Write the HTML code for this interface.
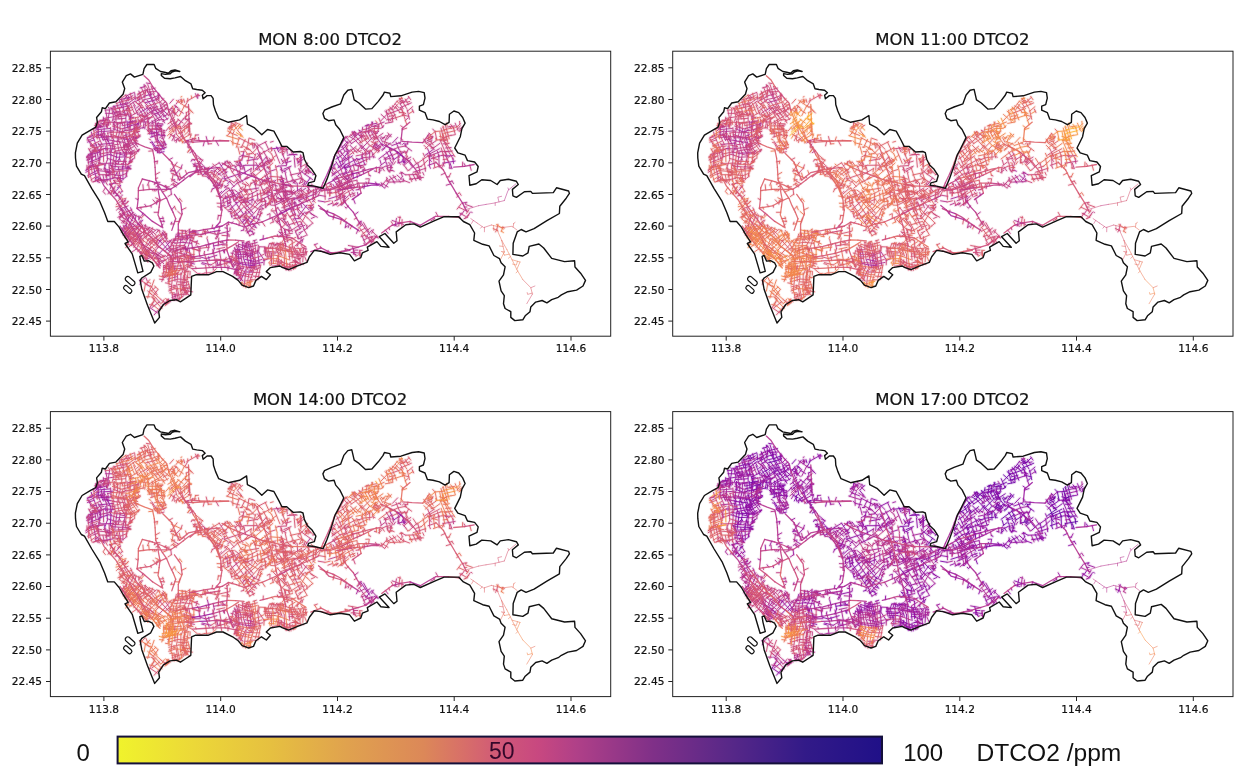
<!DOCTYPE html>
<html><head><meta charset="utf-8"><title>DTCO2</title>
<style>html,body{margin:0;padding:0;background:#fff}svg{display:block}text{font-family:"DejaVu Sans","Liberation Sans",sans-serif;fill:#111;stroke:#111;stroke-width:.2px}.cb{font-family:"Liberation Sans","DejaVu Sans",sans-serif;fill:#111;stroke:none}</style></head><body>
<svg width="1245" height="779" viewBox="0 0 1245 779">
<rect width="1245" height="779" fill="#fff"/>
<defs>
<path id="ol" d="M75.4 152.8 L77.3 143.2 L82.1 135.1 L90.2 130.3 L95.8 127.1 L97.4 122.3 L96.6 117.5 L101.4 111.8 L102.2 107.8 L105.4 108.6 L109.4 103 L115.9 101.7 L123.1 94.2 L124.7 88.6 L122.3 82.1 L126.3 75.7 L130.5 73.9 L134.4 77.1 L142.9 74.3 L144.1 68.7 L146.9 64.5 L154.1 64.5 L155.7 68.3 L160.5 71.5 L164.5 72.3 L168.6 73.1 L171 70.7 L175 69.9 L179.8 71.5 L175.5 70.9 L172 72 L170.2 73.8 L165.3 74.4 L161.3 73.6 L161.3 75.5 L164.5 78.3 L170.2 78.7 L175 77.9 L180.6 76.5 L185.4 80.7 L191 83.9 L192.7 88.7 L196.7 89.5 L202.3 90.2 L205.1 92.8 L202.3 95.2 L203.1 98.8 L207.1 95.6 L211.1 95.6 L213.1 98.4 L213.5 104.8 L215.5 111 L218.7 118.3 L228.3 122.3 L239.6 119.9 L246.6 115.5 L247.4 124.2 L254.6 127.9 L261.8 134.8 L267.5 129.5 L273.9 131.1 L278.7 140 L281.9 146.4 L286.7 146.4 L293.2 152 L300.4 151.5 L303 152.6 L304.4 159.2 L307.3 165 L311.8 169.3 L315.9 175.7 L314.3 181.3 L308.6 182.9 L307.8 185.3 L314.3 186.1 L323.1 188.2 L327.1 178.9 L331 168 L333.5 160 L335 154.8 L337.6 150 L343.8 137.6 L339.8 129.5 L335.7 124.7 L334.1 119.9 L328.5 120.7 L324.5 118.3 L322.9 113.5 L324.5 110.2 L331.7 107 L340.6 103.8 L343.8 95 L347.8 90.2 L351.8 89.4 L354.2 99.8 L359 103 L365.5 109.1 L371.9 108.6 L378.3 101.4 L383.1 95 L384.4 92.1 L389.9 93.2 L390.8 96.6 L400.9 95.8 L412.1 92.1 L418.6 91.4 L424.2 92.6 L425 98.2 L423.4 104.6 L419.4 106.2 L419.4 110.2 L425 112.6 L427.4 119.1 L433 119.9 L439.4 121.5 L445.1 124.7 L449.1 122.3 L449.4 114.3 L453.9 111 L458.7 112.6 L462.7 117.5 L465.1 123.1 L461.9 128.7 L460.3 136.7 L457.1 143.2 L454.7 148 L457.9 152.8 L465.1 155.2 L467.5 160.6 L474.6 162 L478.2 166.5 L477 171.9 L469 175.7 L469.8 185.3 L476.2 183.7 L481.8 179.7 L490.7 180.5 L497.1 184.5 L500.3 180.5 L508.4 179.2 L516.4 181.3 L518.3 184.5 L512.4 189.4 L512.9 195.8 L516.4 197.4 L524.4 191.8 L530.8 191.4 L532.4 193.4 L553.3 192.6 L556.5 187.8 L568.6 191 L569.4 193.4 L566.2 198.2 L559.8 206.2 L559.4 213.5 L546.9 220.7 L534.1 228.7 L526 231.9 L521.2 229.5 L517.2 231.9 L513.2 243.2 L512.9 254.4 L522.8 256 L528 252.8 L529.2 246.4 L538.9 244 L543.7 248 L551.7 258.4 L564.6 261.6 L574.6 260.8 L575 267 L580.6 273.2 L585.5 280.4 L583 286 L576.6 290.1 L567.8 291.7 L561.4 294.9 L558.2 297.3 L551.7 299.7 L546.9 302.9 L542.1 300.5 L535.7 302.1 L530.8 306.9 L530 311.7 L525.2 315.8 L522.8 319.8 L514.8 320.6 L510.8 317.4 L510.8 311.7 L505.1 308.5 L503.5 303.7 L504.3 295.7 L501.1 290.9 L499 281.2 L503.5 274.8 L505.1 266.8 L501.1 262.8 L499.5 258.7 L493.9 255.5 L489.1 245.9 L482.7 244.3 L473.8 240.3 L474.6 233 L469.8 224.7 L463.4 221.5 L458.6 216.7 L444.1 216.7 L434.7 220.7 L420.3 227.1 L413.9 223.9 L405.8 224.7 L396.2 231.9 L397 240.8 L393.8 243.2 L384.9 233.5 L379.3 236.7 L389 247.2 L380.9 246.4 L376.9 241.6 L367.3 247.2 L368.1 250.4 L362.4 252.8 L360.8 257.6 L354.4 260.8 L349.6 254.4 L340 252.8 L330.3 254.4 L320.7 251.2 L314.3 250.4 L309.4 256.8 L307 262.4 L298.2 265.7 L288.6 269.7 L282.1 267.3 L280 266 L270.4 267.6 L266.3 271.6 L270.4 274.8 L266.3 279.6 L261.5 276.4 L255.9 280.4 L253.5 286 L248.7 287.6 L242.2 285.2 L238.2 280.4 L232.6 276.4 L223 271.6 L216.5 271.6 L208.5 274.8 L195.7 274.8 L191.6 276.4 L190.8 294.9 L186 298.1 L180.4 301.8 L176.4 299.7 L170 300.5 L163.5 304.5 L158.7 311.7 L159.5 317.4 L154.7 323 L147.5 305.3 L141.8 289.3 L140.2 280.4 L141.8 278 L150.7 272.4 L153.9 266 L152.3 262.8 L148.3 260.7 L144.3 261.1 L141.8 255.5 L139.8 256.3 L140.7 261.9 L143 271.3 L137.8 272.9 L132.2 253.9 L125 243.5 L128.2 241.9 L123.4 234.6 L119.1 227.1 L114.3 221.5 L107.8 221.5 L104.6 212.7 L99.8 201.4 L91.8 188.6 L84.5 175.7 L81.3 174.1 L76.5 166.1 L75.5 158Z"/>
<path id="c0" d="M961 1246l22-6M957 1237l7 34M947 1254l44-7M968 1227l6 19"/>
<path id="c1" d="M957 1234l8 30"/>
<path id="c2" d="M893 1360l92-54M936 1296l10 67M937 1358l-4 19M968 1352l5 38"/>
<path id="c3" d="M875 1377l78-35M913 1320l10 40M970 1309l-2 49M982 1274l-38 39M960 1284l37-15"/>
<path id="c4" d="M928 1295l61-29M880 1375l39-6M889 1402l79-42M954 1268l22-9M956 1266l23-12"/>
<path id="c5" d="M870 1400l17 1M905 1454l68-31M893 1495l19-12M921 1478l59-5M916 1523l58-13M898 1414l49 62M948 1478l16 44M931 1503l35 1M924 1473l33 11M951 1484l13 15M906 1466l24 1"/>
<path id="c6" d="M887 1486l18 37M939 1521l64-20M922 1502l37-2M913 1453l30 11M961 1468l11 28M944 1485l5 16"/>
<path id="c7" d="M875 1421l68-22M876 1384l37 72M938 1500l-3 18M932 1378l57 135M881 1550l55-29M924 1540l69-18M920 1524l-18 30M925 1455l39-7"/>
<path id="c8" d="M910 1631l93-32M874 1678l21-19M870 1653l-1 37M887 1545l-12 28M877 1577l15 93M915 1668l50-7M966 1658l6 18M942 1665l42 28M888 1574l39-26"/>
<path id="c9" d="M878 1604l79-45M903 1674l69-17M907 1512l7 76M922 1507l4 150M946 1502l14 89M965 1628l-16 27M881 1675l64-36M896 1662l-13 19M869 1563l-3 15M889 1574l21-6M878 1567l18 29"/>
<path id="ca" d="M872 1570l50-29M881 1625l120-45M915 1591l-7 75M968 1511l17 82M972 1660l4 17M891 1585l50-24M868 1599l17-8M890 1540l-11 18"/>
<path id="cb" d="M902 1696l75-16M885 1774l39-26M909 1799l58-38M883 1667l4 108M881 1684l41 136M911 1663l11 67M948 1642l38 103M936 1817l54-19"/>
<path id="cc" d="M876 1758l104-59M933 1745l54-19M974 1677l10 18M965 1802l16 21M910 1664l-50 38"/>
<path id="cd" d="M860 1703l47-29M859 1723l42-26M950 1788l34-23M935 1817l51-22M932 1647l28 130M959 1780l-2 30"/>
<path id="ce" d="M1102 1079l22 11M1051 1100l42 0M1085 1073l11 20"/>
<path id="cf" d="M973 1218l19 1M1000 1207l-17 17M1069 1175l-25 35M1022 1199l-22 27M1068 1196l7 82M1095 1202l8 42M1018 1249l35-8M1043 1211l-4 38M1063 1197l-7 22M1047 1228l41 3"/>
<path id="c10" d="M983 1226l9 37M1056 1133l65 1M1033 1185l112-19M1034 1172l0 31M1056 1106l13 63M1097 1099l-19 107M987 1213l84-20M1000 1239l98-16M1074 1245l-4 20M1086 1229l0 26M1057 1247l28-7"/>
<path id="c11" d="M1001 1203l56 2M1034 1204l-20 17M1041 1211l-4 40M1055 1194l-16 41M1028 1236l7 17M1080 1191l2 40M982 1246l29 9"/>
<path id="c12" d="M961 1359l84-10M1076 1332l49-11M1077 1328l6 41M1106 1276l6 93M977 1348l44 99M1062 1353l17 24M1027 1334l28 6M1038 1374l10 15M1061 1368l20-10"/>
<path id="c13" d="M977 1272l90-14M1016 1299l-4 55M1030 1358l29 59M1054 1394l36-7M1005 1348l35 19M1065 1253l0 19"/>
<path id="c14" d="M973 1296l127-11M975 1323l42-13M1026 1315l99-7M1079 1370l37-7M981 1264l4 86M1041 1278l2 91M975 1348l50 3M965 1375l124-8M1026 1392l83 11M1002 1338l31 68M1011 1364l31 14M1034 1325l-18 35M1057 1377l26 41M992 1257l31 14M1008 1254l2 19M999 1249l5 28"/>
<path id="c15" d="M978 1419l17-8M980 1472l31-20M1078 1450l75 15M1106 1473l0 44M994 1542l106-22M1002 1465l9 17"/>
<path id="c16" d="M980 1508l38-33M1010 1466l29-6M996 1503l35-15M984 1434l10 21M1062 1421l14 80"/>
<path id="c17" d="M992 1504l19 62M987 1445l148-15M1040 1485l105 6M1059 1460l-2 42M1060 1360l48 109M992 1507l52-21M1097 1507l13 36M1122 1482l-10 38"/>
<path id="c18" d="M983 1623l21 1M960 1657l74-11M1033 1494l3 121M961 1653l73-9"/>
<path id="c19" d="M1071 1583l85 26M987 1635l149-4M1010 1496l-24 165M1068 1490l7 109M1072 1602l-19 53M1119 1656l-1 17"/>
<path id="c1a" d="M995 1574l88-30M1110 1544l-8 112M1047 1644l3 41"/>
<path id="c1b" d="M966 1684l50 9M1092 1678l44 23M985 1747l128 0M970 1801l61 2M971 1799l28 29M984 1776l49 34M1092 1730l28-1M1110 1725l-11 20M1063 1749l-4 23M1049 1708l10 18M1052 1705l10 26M1012 1805l-14 3"/>
<path id="c1c" d="M968 1706l108 9M1079 1715l61 8M977 1680l31 120M1030 1752l13 64M1064 1736l7 78M1090 1640l14 173M1016 1799l65 1M1101 1717l-12 29M1057 1752l30 5M1044 1675l7 27M1034 1691l23-5M1070 1708l10 22M1058 1705l10 23M1082 1698l34 14"/>
<path id="c1d" d="M978 1777l12 20M1033 1803l101-19M1015 1793l27 36M1061 1755l29-2M1071 1721l28 2M1078 1710l6 18M1056 1697l23 2"/>
<path id="c1e" d="M1098 1803l24 42M1125 1908l-26 30"/>
<path id="c1f" d="M1100 1900l37 25M1116 1846l-13 41M1054 1877l-23 38l23 27M1110 1942l15-34M1103 1844l18-2"/>
<path id="c20" d="M1051 1808l23 41M1091 1919l-11 20"/>
<path id="c21" d="M1000 1780l40 80l56 66"/>
<path id="c22" d="M1212 981l48-31"/>
<path id="c23" d="M1137 1075l16 35M1162 1034l120-36M1169 1033l6 41M1217 991l18 48M1134 1094l70-14M1225 1103l69 2M1213 1120l31-12"/>
<path id="c24" d="M1112 1086l28-6M1168 1084l118-25M1140 1058l13 20M1212 996l25 85M1140 1124l64-12M1266 963l-31 39"/>
<path id="c25" d="M1197 997l96-23M1128 1068l149-41M1196 1007l21 67M1128 1099l21 41M1226 1071l36 88M1271 1041l-42 10"/>
<path id="c26" d="M1162 1242l90-20M1147 1069l43 121M1217 1195l0 40M1204 1224l-5 57M1196 1148l27-3M1172 1129l27-2M1184 1129l20 19"/>
<path id="c27" d="M1126 1135l46 32M1131 1183l-9 29M1134 1225l16 61M1133 1192l123-9M1258 1168l1 61M1138 1209l22 18M1142 1211l-2 92M1228 1232l-5 20M1246 1221l3 73M1236 1124l16 30M1194 1138l18-2M1153 1132l19-8"/>
<path id="c28" d="M1115 1079l23 97M1102 1222l43 3M1155 1153l149-14M1159 1172l109-19M1157 1150l4 80M1190 1071l27 123M1160 1227l84-5M1129 1242l50 28M1172 1223l7 21M1223 1131l19-12M1147 1127l23-14M1167 1156l26-12M1164 1157l27-13M1181 1140l12 23"/>
<path id="c29" d="M1117 1321l147 5M1106 1342l86 30M1134 1310l-4 67M1227 1326l5 61"/>
<path id="c2a" d="M1124 1261l93 27M1111 1369l31-3M1148 1366l121 11M1174 1309l-16 58M1231 1284l-32 112M1117 1382l37-6"/>
<path id="c2b" d="M1115 1358l27 53M1131 1288l78 31M1210 1318l64-17M1234 1361l37-14M1174 1237l1 70M1203 1290l-24 104M1161 1378l99 0M1261 1297l-47 34"/>
<path id="c2c" d="M1103 1522l57 8M1136 1485l157-18M1128 1410l30 113M1214 1383l30 66M1241 1457l18 83M1241 1439l-8 34M1244 1459l15-8M1240 1456l7 37"/>
<path id="c2d" d="M1146 1447l44-5M1147 1512l58-11M1207 1500l91-9M1170 1411l24 120M1177 1378l50 135M1219 1500l39 39M1234 1488l40 15"/>
<path id="c2e" d="M1113 1403l19 2M1121 1426l9 64M1124 1409l122 15M1235 1375l27 81M1161 1534l161-8M1174 1404l36 27M1240 1444l-4 18"/>
<path id="c2f" d="M1145 1516l-19 137M1140 1614l124 1M1154 1640l130 10M1255 1619l2 54M1213 1637l21-6M1147 1623l20 13"/>
<path id="c30" d="M1125 1638l21 4M1125 1662l88 8M1239 1602l22 37M1154 1635l21 4"/>
<path id="c31" d="M1090 1544l79 26M1112 1651l21 17M1160 1573l103-5M1223 1666l73 11M1171 1519l-23 172M1204 1524l-21 116M1234 1518l19 44M1250 1566l-27 122M1160 1622l32-31M1109 1654l31 49M1194 1584l9 19M1197 1543l51 11"/>
<path id="c32" d="M1118 1659l10 60M1127 1722l2 61M1139 1714l139-7M1135 1805l89 17M1132 1678l19 113M1176 1726l24 113M1172 1788l12 19M1187 1774l12 27"/>
<path id="c33" d="M1140 1809l17 21M1209 1756l61-25M1141 1802l17 34M1196 1777l12 43M1186 1693l28 8M1173 1791l10 17"/>
<path id="c34" d="M1155 1698l146-15M1116 1744l88 13M1126 1772l106 16M1236 1787l27-20M1184 1673l28 145M1228 1667l2 130M1119 1691l29 28M1171 1720l-16 39M1168 1786l22-8M1189 1779l6 18M1174 1783l28-8M1200 1815l20-8"/>
<path id="c35" d="M1139 1827l57 14M1190 1913l19 27M1169 1845l21 18M1102 1850l49 46M1150 1877l-35 32M1189 1852l36 62"/>
<path id="c36" d="M1130 1908l67 54M1150 1917l-17 18M1193 1919l-41 43M1132 1888l21-28M1136 1938l9-14"/>
<path id="c37" d="M1096 1843l57-13M1202 1862l-37 42M1207 1855l-32 22M1221 1914l-12 9M1153 1918l-17 20M1177 1954l-18 3"/>
<path id="c38" d="M1100 1840l49 78l51 64"/>
<path id="c39" d="M1260 1983l-36 10M1221 1981l11 62M1188 2035l33 38M1217 1976l-42 38M1179 2031l-16 14M1195 2059l-35 8"/>
<path id="c3a" d="M1250 2009l-58 13M1230 2037l-65 64"/>
<path id="c3b" d="M1225 1952l-35 31M1254 1997l-5 18M1246 2001l-12 30M1215 2085l22 18M1260 2033l-42 1M1281 2059l-68 26"/>
<path id="c3c" d="M1096 1926l64 74l40 69M1200 1982l50 78"/>
<path id="c3d" d="M1210 2131l-14 16M1224 2151l-27 36M1241 2127l3 19M1227 2206l27 13M1218 2094l-29 29M1194 2128l12 22"/>
<path id="c3e" d="M1185 2087l56 26M1196 2191l70 57M1237 2209l-22 19M1210 2157l-13 17M1210 2145l3 24M1245 2142l-25 16l20 32"/>
<path id="c3f" d="M1240 2118l-28 34M1239 2132l-21 31M1281 2145l-49 87M1210 2156l-31 17M1216 2153l-23 21"/>
<path id="c40" d="M1200 2069l37 69l43 62"/>
<path id="c41" d="M1223 2296l54 32M1284 2271l-52 83"/>
<path id="c42" d="M1249 2321l15 13M1240 2276l-17 20"/>
<path id="c43" d="M1232 2253l23 43M1265 2245l-17 19M1267 2276l-21 11M1226 2337l28 18M1257 2279l-20 17M1230 2303l-16 22M1253 2334l9 17M1220 2288l29-34"/>
<path id="c44" d="M1200 2260l47 69"/>
<path id="c45" d="M1303 933l16 64M1377 980l24-16M1373 980l19-10"/>
<path id="c46" d="M1377 950l37-31"/>
<path id="c47" d="M1257 951l28 53M1269 956l75-32M1281 987l49-32M1277 955l20 28M1347 931l7 62M1389 912l10 31"/>
<path id="c48" d="M1264 1045l26 44M1278 1004l73-35M1276 1098l37-28M1299 1031l26 46M1287 1117l44-25M1363 1114l18-14M1312 1069l34 67M1359 1021l59 55M1360 1025l56 34M1373 979l12 17"/>
<path id="c49" d="M1260 1089l27-17M1330 1023l24 37M1267 999l-12 35M1385 1098l18-19"/>
<path id="c4a" d="M1271 1092l16-18M1283 1074l12 19M1272 1040l75-54M1277 1066l71-55M1262 1039l31 55M1275 1083l18-15M1364 1080l21-16M1337 1052l42 98M1389 973l8 22"/>
<path id="c4b" d="M1290 1196l85-24M1287 1117l20 19M1284 1075l37 102M1352 1173l15 48M1296 1240l74-19M1254 1149l18-13M1389 1201l13 29"/>
<path id="c4c" d="M1262 1091l37 98M1226 1257l80-17M1294 1167l87-47M1356 1211l-5 59M1313 1227l35-17M1309 1185l-3 20M1305 1216l22-9M1341 1265l27-21M1381 1191l2 31"/>
<path id="c4d" d="M1292 1160l18 3M1271 1212l7 64M1298 1225l11 16M1295 1183l41-10M1282 1222l75-14M1308 1137l-4 96M1320 1218l8 19M1297 1260l88-25M1275 1132l-4 15M1302 1226l18 3M1305 1192l-3 20M1361 1251l31-31"/>
<path id="c4e" d="M1278 1280l18-3M1264 1333l124-42M1257 1368l20 19M1351 1338l24 39M1341 1317l10 41M1356 1317l28-6M1352 1308l43-13M1367 1283l46-24M1355 1281l-6 40M1346 1300l25-17M1367 1254l-1 21M1345 1372l-7 32M1380 1350l3 16M1361 1387l-8 24M1282 1362l43 3M1314 1375l27-69M1288 1334l36 21"/>
<path id="c4f" d="M1268 1307l116-34M1262 1373l128-56M1373 1370l19-16M1304 1224l-2 76M1340 1224l2 143M1350 1271l-5 59M1364 1301l26 50M1292 1364l22 53M1359 1283l27 5M1323 1337l47-22M1337 1325l24 35M1369 1318l27-5M1371 1277l17-3M1349 1286l-4 27M1359 1369l44-18M1373 1377l31-15M1345 1274l26 11M1335 1309l12-1"/>
<path id="c50" d="M1225 1286l75-19M1257 1338l14 52M1341 1374l28-1M1290 1222l3 142M1388 1237l-21 58M1278 1395l62-31M1341 1388l36-9M1331 1364l21 62M1357 1367l4 36M1232 1388l64 13M1312 1301l32-14M1374 1244l-13 37M1311 1297l-1 18M1362 1383l31-14"/>
<path id="c51" d="M1275 1413l19-5M1277 1500l24 42M1298 1508l32 27M1316 1421l63 89M1315 1546l78-52M1257 1458l26-12M1346 1400l13 25M1366 1434l-35 39"/>
<path id="c52" d="M1258 1542l68-9M1266 1370l25 70M1283 1424l53-37M1280 1450l80-40M1290 1494l35-23M1295 1529l51-29M1365 1524l29-25M1282 1477l12 27M1264 1376l47 115M1356 1425l28 11M1258 1440l14-8M1262 1463l28-17M1322 1397l32 9M1335 1401l42 10M1281 1478l51-106M1242 1466l41 6M1272 1417l24 11"/>
<path id="c53" d="M1247 1456l44-22M1284 1469l65-39M1314 1496l34 38M1355 1431l20 36M1307 1530l15 17M1384 1496l-3 18M1268 1455l18 29M1257 1448l23-12M1277 1438l7 23M1262 1549l11-85"/>
<path id="c54" d="M1271 1574l41-3M1295 1585l70-49M1275 1645l40-25M1349 1514l-3 67M1309 1626l16-9M1325 1589l-10 27"/>
<path id="c55" d="M1265 1537l-10 82M1309 1526l-10 95M1296 1624l14-9M1287 1634l27-16M1295 1629l14-9M1303 1601l-2 19M1277 1643l27-16"/>
<path id="c56" d="M1287 1619l52-33M1276 1666l33-8M1283 1668l13 18M1302 1620l20-15"/>
<path id="c57" d="M1280 1683l31 4M1263 1743l5 18M1287 1679l-11 36"/>
<path id="c58" d="M1273 1670l-12 92M1283 1686l20 5"/>
<path id="c59" d="M1384 1880l-2 106"/>
<path id="c5a" d="M1245 2053l36-40"/>
<path id="c5b" d="M1281 2013l-10 15"/>
<path id="c5c" d="M1377 1996l-19-10"/>
<path id="c5d" d="M1250 2060l49 65M1382 1986l-11 100"/>
<path id="c5e" d="M1317 2098l-94 37M1267 2145l70 35M1342 2212l41 30M1314 2145l-46 17"/>
<path id="c5f" d="M1336 2125l-43 33M1328 2144l87 36M1242 2129l87 80M1219 2169l122 81M1403 2164l-10 26"/>
<path id="c60" d="M1306 2078l23 58M1246 2081l44 77M1317 2143l-43 55M1273 2200l-12 64M1349 2139l-64 123M1360 2151l-8 49M1388 2161l0 38M1412 2202l-46 57M1285 2172l-7 26"/>
<path id="c61" d="M1280 2200l38 64M1299 2125l49 66l52 69"/>
<path id="c62" d="M1260 2221l83 76M1284 2263l-41 36M1257 2299l115 74M1265 2335l82 60M1374 2277l-40 50M1326 2346l-24 41M1397 2296l-98 107M1394 2354l-63 51M1333 2320l33 28M1381 2325l15 12M1381 2354l-3 12M1339 2320l-17 5M1240 2272l51 24M1287 2317l-41 60M1296 2260l69 71M1278 2294l84 66M1329 2277l-58 59M1324 2318l-41 71M1286 2325l22 12M1399 2259l-47 8"/>
<path id="c63" d="M1384 2243l22 18M1341 2250l43 37M1352 2207l-87 103M1305 2274l31 40M1382 2286l32 34M1357 2366l-50 17M1347 2339l12 16M1261 2359l23 5M1265 2351l68 45M1426 2254l-66 101M1286 2348l-13 29M1298 2341l-16 43M1278 2350l-12 22M1284 2297l15 8M1333 2288l33-10"/>
<path id="c64" d="M1257 2261l45 29M1353 2250l-42 35M1401 2254l-33 34M1346 2288l24 11M1375 2334l25 15M1337 2288l-54 60M1402 2363l-31 21M1347 2330l-17 12M1387 2313l-16 16M1325 2335l19 26M1349 2347l-20 10M1360 2271l20 19M1371 2333l50 54M1385 2268l-18 19M1313 2284l-32 51M1320 2304l-34 43M1286 2338l42 6M1352 2267l-22-29M1251 2333l27-32"/>
<path id="c65" d="M1318 2264l43 66l39 70M1247 2329l42 59"/>
<path id="c66" d="M1348 2396l17 18M1363 2380l-28 31M1276 2404l-1 12M1358 2355l-68 50M1341 2383l28 39M1374 2426l50 24M1408 2413l-41 66M1333 2430l17 16M1362 2409l-26 12"/>
<path id="c67" d="M1297 2395l17 7M1408 2401l-20 8M1256 2384l22 10M1366 2381l17 14M1308 2383l115 113M1264 2439l55 17M1408 2383l-71 91M1284 2437l-26 40M1356 2394l-1 24M1322 2426l16 14M1347 2433l-7 7M1330 2418l9 19M1412 2418l-36 12"/>
<path id="c68" d="M1372 2386l7 21M1316 2384l-50 70M1374 2386l-84 84M1332 2402l-18 17M1365 2489l-42 29"/>
<path id="c69" d="M1289 2388l51 72l69 76"/>
<path id="c6a" d="M1464 830l33 5"/>
<path id="c6b" d="M1440 757l47 43l41 68"/>
<path id="c6c" d="M1374 942l61-31M1400 928l29 92M1436 920l13 61M1452 919l1 27M1399 958l4 17"/>
<path id="c6d" d="M1435 870l22-11M1435 911l31-15M1414 876l21 49M1449 876l4 52M1359 983l95-56M1459 905l93-24M1474 919l82-3M1447 849l21 26M1474 882l2 37M1478 847l32 97M1511 862l31 76M1451 920l21-17"/>
<path id="c6e" d="M1402 879l32-9M1441 849l3 20M1437 963l84-23M1496 919l9 34M1506 922l3 38"/>
<path id="c6f" d="M1403 1075l26 0M1378 993l70 97M1470 1063l127-40M1436 1013l68 75"/>
<path id="c70" d="M1355 1016l97-53M1381 1043l63-40M1464 1067l10 15M1433 999l93-21M1473 1004l58 76M1472 909l71 143M1506 958l56 98M1498 1075l24 33M1512 1125l37-24M1536 1089l1 19"/>
<path id="c71" d="M1458 1051l13-12M1430 1109l47-30M1452 1027l98-27M1466 1109l43-38"/>
<path id="c72" d="M1376 1179l54-41M1396 1204l65-43M1475 1206l1 20M1471 1227l1 19M1447 1248l30 13M1401 1147l26 6M1451 1125l-2 18M1454 1165l19-8M1460 1167l40-26M1478 1182l48-11M1420 1199l-3 15M1397 1203l8 21M1424 1168l25-1M1419 1164l26 2M1407 1220l26-26"/>
<path id="c73" d="M1414 1214l64-29M1388 1142l43 77M1472 1122l3 15M1476 1199l70-60M1472 1071l79 121M1405 1154l36 11M1472 1175l17 21M1416 1211l17-15"/>
<path id="c74" d="M1390 1135l33-28M1427 1219l54-1M1389 1087l43 67M1399 1056l90 132M1408 1224l-13 57M1444 1206l-14 75M1459 1153l71-53M1479 1195l11 43M1521 1207l11 38M1457 1223l-9 65M1463 1183l40-1M1439 1162l19 21M1429 1159l33-1M1412 1203l-2 20M1402 1214l27-25M1446 1176l1 18M1520 1118l5 20"/>
<path id="c75" d="M1488 1232l-6 72M1522 1251l3 51M1477 1276l12 27M1482 1309l15 24M1480 1313l25-8M1491 1391l17 8M1499 1331l-20 7"/>
<path id="c76" d="M1402 1283l40-9M1508 1295l4 33M1544 1319l-9 19M1519 1315l1 53"/>
<path id="c77" d="M1510 1295l12 18M1489 1277l12 19M1477 1302l16 22M1469 1295l29 30"/>
<path id="c78" d="M1527 1508l-39 4"/>
<path id="c79" d="M1503 1425l17 5M1524 1440l17 31"/>
<path id="c7a" d="M1525 1494l18 88M1358 1430l90 38l77 26"/>
<path id="c7b" d="M1423 1790l102 26"/>
<path id="c7c" d="M1492 1894l-5-45M1523 1893l7 15"/>
<path id="c7d" d="M1494 1808l-19 44M1434 1900l-5-53"/>
<path id="c7e" d="M1423 1790l-39 90M1384 1906l116-13"/>
<path id="c7f" d="M1406 2074l6 17"/>
<path id="c80" d="M1464 2066l-16-22M1509 2055l3 17"/>
<path id="c81" d="M1370 2080l130-20l79-44"/>
<path id="c82" d="M1397 2215l17 27M1446 2146l-30 30"/>
<path id="c83" d="M1426 2202l-31 45M1429 2132l-10 23"/>
<path id="c84" d="M1371 2086l64 51l90 77"/>
<path id="c85" d="M1420 2267l38 68M1511 2314l-108 49M1384 2294l54 41M1438 2312l-59 53M1426 2282l60 11M1437 2322l61 36M1444 2356l24 23M1525 2278l-7 27M1498 2348l-50 25M1478 2347l-18 9l-12 14"/>
<path id="c86" d="M1422 2261l-18 22M1490 2276l-18 24M1511 2311l-76 71"/>
<path id="c87" d="M1415 2243l12 23M1443 2250l45 68M1492 2280l-58 39M1429 2323l-29 16M1410 2264l28 10M1423 2358l-34 32M1493 2274l60 28M1453 2251l99 91M1491 2300l64 85M1454 2248l-17 82M1563 2296l-58 49M1447 2313l-11 30"/>
<path id="c88" d="M1400 2260l62 66l63 63"/>
<path id="c89" d="M1374 2487l52 47M1424 2468l-47 46M1499 2359l76 62M1496 2392l76 52M1413 2467l58 46M1430 2387l-31 44M1452 2461l-40 69M1512 2394l-10 22M1478 2517l28-42M1528 2402l-23 33"/>
<path id="c8a" d="M1393 2383l16 26M1441 2371l103 83M1406 2384l133 103M1410 2445l77 35M1435 2400l-19 65M1484 2383l-25 66M1549 2404l-53 50M1570 2412l-65 76l-22 56M1538 2501l-26 35M1449 2504l-9 8M1486 2501l-23 34M1446 2508l23 21M1457 2485l-18 22"/>
<path id="c8b" d="M1520 2369l-34 27M1396 2415l136 108M1487 2480l92 78M1500 2418l-39 52M1478 2489l-24 30M1433 2450l-22 7M1445 2468l-22 28l13-20M1506 2475l-21 31"/>
<path id="c8c" d="M1400 2400l57 92"/>
<path id="c8d" d="M1424 2526l-14 16M1422 2505l60 42M1487 2533l87 64M1482 2525l-13 39M1520 2580l-14 14M1477 2571l-16 23M1425 2551l43 23M1474 2505l-26 32M1472 2538l-3 15"/>
<path id="c8e" d="M1468 2512l-24 30M1433 2525l69 47M1452 2572l27 12M1437 2536l23 20M1465 2540l-1 15M1448 2537l26 21"/>
<path id="c8f" d="M1475 2515l56 22M1446 2505l-23 32M1543 2542l-23 38M1439 2532l26 22M1433 2577l39 18M1457 2552l57 25M1449 2536l51 25M1457 2525l21 21M1404 2533l8-17M1457 2594l41-15"/>
<path id="c90" d="M1457 2492l63 88M1409 2536l71 84"/>
<path id="c91" d="M1460 2780l11 27M1453 2774l-43 41"/>
<path id="c92" d="M1414 2806l91 62M1497 2797l-25 31M1471 2830l-3 11M1477 2910l37 32M1503 2855l68 90M1556 2872l-34 30"/>
<path id="c93" d="M1455 2834l-14 77M1518 2862l-13 22M1504 2886l-28 94M1477 2820l29 13M1541 2800l-24 67M1520 2904l-11 4"/>
<path id="c94" d="M1395 2803l16 3M1410 2816l-9 27M1448 2833l44 27"/>
<path id="c95" d="M1495 3046l28 6M1503 2934l55 44M1545 2997l-23 38"/>
<path id="c96" d="M1459 2967l41 1M1513 2969l32 16"/>
<path id="c97" d="M1536 3020l-41 61"/>
<path id="c98" d="M1503 3080l73 49"/>
<path id="c99" d="M1586 933l3 27"/>
<path id="c9a" d="M1531 938l43 82M1580 942l9 57"/>
<path id="c9b" d="M1529 977l63-25M1598 953l-36 33"/>
<path id="c9c" d="M1528 868l49 61l43 53"/>
<path id="c9d" d="M1601 1022l36-36M1639 1030l16-14M1610 1080l58-40M1576 995l47 44M1665 1081l26 23M1674 1051l-45-2"/>
<path id="c9e" d="M1556 998l34-15M1511 1086l67-20M1565 1064l26 48M1607 1067l18 29M1576 993l17-13M1607 1058l31-27M1618 1112l54-41M1644 1061l16 37M1604 1137l63-54"/>
<path id="c9f" d="M1566 1098l58-18M1545 1058l21 34M1599 1037l32 77"/>
<path id="ca0" d="M1620 982l47 49l21 82"/>
<path id="ca1" d="M1569 1236l59 2M1551 1196l8 41M1523 1115l69 88M1531 1063l91 132M1486 1259l126 0M1627 1196l19 33"/>
<path id="ca2" d="M1485 1239l120-71M1607 1169l23-27M1510 1241l80-44M1592 1198l46-2M1589 1101l51 60M1583 1223l-15 30M1628 1213l55-31M1611 1102l62 94"/>
<path id="ca3" d="M1569 1132l47-23M1633 1169l38-24M1593 1253l35-4M1631 1103l44 40M1548 1098l46 53M1547 1142l22 19M1550 1133l26 7M1570 1249l20 16M1599 1253l18 9"/>
<path id="ca4" d="M1524 1288l51 5M1502 1315l82 17M1558 1395l17-9M1543 1325l0 31M1567 1327l6 86M1640 1303l-5 49M1611 1380l19 9M1576 1324l0 64M1613 1329l4 19M1615 1364l-19 13M1569 1339l-13 38"/>
<path id="ca5" d="M1496 1292l119-2M1555 1232l-3 65M1601 1284l15 4M1574 1265l45 22M1590 1291l60 17M1583 1309l67 17M1582 1250l14 46M1605 1263l4 19M1610 1283l12 64M1644 1340l-3 39M1557 1278l43 24M1694 1267l-34 41"/>
<path id="ca6" d="M1601 1284l17 34M1581 1293l18 7M1571 1251l-8 91M1494 1340l95-20M1506 1372l88-28M1628 1354l21 3M1580 1349l71 7"/>
<path id="ca7" d="M1560 1457l44-6M1543 1480l28 8M1543 1356l54 134M1583 1422l30 43M1591 1485l18 0M1573 1423l73-5M1633 1441l0 24M1605 1402l23 30M1561 1505l17 3"/>
<path id="ca8" d="M1546 1422l35-9M1541 1483l46 3M1565 1475l5 21M1590 1481l7 51M1602 1459l61-14M1603 1491l60-20M1618 1354l40 102M1606 1490l7 31M1636 1423l4 15M1634 1446l6 22M1611 1444l18-13M1575 1490l4 36M1587 1501l1 27M1546 1491l24 17"/>
<path id="ca9" d="M1519 1415l47 74M1574 1506l3 21M1575 1391l65 105M1605 1497l49-20M1604 1526l36-9M1643 1418l10 19M1619 1466l16-12M1540 1490l19 16M1572 1472l7 27"/>
<path id="caa" d="M1574 1612l-4 25"/>
<path id="cab" d="M1543 1618l31-6"/>
<path id="cac" d="M1543 1582l8 92M1628 1533l90 90"/>
<path id="cad" d="M1555 1746l39-21M1557 1785l19-5"/>
<path id="cae" d="M1551 1674l7 126"/>
<path id="caf" d="M1626 1919l42-17M1544 1893l3 17"/>
<path id="cb0" d="M1579 1856l-19 10M1568 1822l31 2M1549 1826l-4 15M1666 1893l-4-25"/>
<path id="cb1" d="M1545 1841l25-11M1647 1868l15-15l-14 6M1565 1893l-5 15M1662 1868l31 0"/>
<path id="cb2" d="M1577 1841l7 77l16 82M1558 1800l19 41l43 73l47 69M1525 1816l93 35l87 42M1500 1893l100 2l105-2"/>
<path id="cb3" d="M1580 1990l-24-12M1599 1995l-29 14"/>
<path id="cb4" d="M1558 2031l-28-32M1604 2008l-24-18"/>
<path id="cb5" d="M1570 2009l-4 32"/>
<path id="cb6" d="M1579 2016l81-36M1600 2000l-9 72"/>
<path id="cb7" d="M1632 2184l-5-15M1641 2215l-6-16"/>
<path id="cb8" d="M1584 2123l-42 0"/>
<path id="cb9" d="M1593 2186l39-2M1602 2210l39 5"/>
<path id="cba" d="M1591 2072l-11 78l29 66"/>
<path id="cbb" d="M1556 2346l15 29M1592 2343l-72 62M1647 2320l26 67M1587 2305l53 105"/>
<path id="cbc" d="M1587 2301l-23 28M1623 2322l55 98M1649 2323l-85 50M1666 2336l-2 22M1668 2341l-54 13"/>
<path id="cbd" d="M1574 2298l26 12M1631 2305l31 43M1627 2326l6 23M1620 2337l-5 24M1645 2350l19 35M1609 2266l23-26"/>
<path id="cbe" d="M1609 2216l19 62M1525 2214l103 64"/>
<path id="cbf" d="M1546 2494l15 22M1574 2457l-21 24M1616 2357l-51 60M1658 2410l-17 3M1577 2442l-17 7"/>
<path id="cc0" d="M1562 2376l4 15M1667 2359l-60 51M1643 2416l-90 88M1560 2438l16-45M1586 2465l-10 13"/>
<path id="cc1" d="M1573 2396l33 16M1650 2407l43 62M1591 2402l101 109M1568 2450l144 108M1613 2388l-33 52M1711 2407l-125 136"/>
<path id="cc2" d="M1525 2389l55 71l63 47"/>
<path id="cc3" d="M1536 2528l43 23M1567 2535l6 23M1526 2529l66 65M1580 2550l-28 24M1552 2533l56 34M1653 2556l22 17M1572 2554l64 83M1581 2590l24 69M1577 2634l8 34M1585 2552l-9 9M1725 2552l-152 104M1559 2539l41 25M1584 2617l8 35M1574 2577l14 24M1643 2656l41-14M1673 2629l1 22"/>
<path id="cc4" d="M1559 2506l-12 39M1528 2588l45 59M1551 2575l-20 32M1599 2605l-40 19M1583 2653l-17 0M1637 2558l-9 16M1618 2562l47 51"/>
<path id="cc5" d="M1576 2599l24 33M1576 2524l72 44M1643 2560l-58 32M1649 2599l-61 20M1566 2573l-29 16M1578 2584l-19 4M1603 2577l-24 20M1665 2657l21-17"/>
<path id="cc6" d="M1520 2580l80 100M1643 2507l57 53"/>
<path id="cc7" d="M1622 2732l94-8M1637 2759l57-6M1664 2630l0 98M1687 2716l-17 50M1629 2770l-36-10M1667 2751l11 19M1663 2708l-7 39"/>
<path id="cc8" d="M1635 2673l82-14M1637 2714l37 11M1636 2654l2 65M1596 2792l42 5M1666 2754l-27 27M1636 2723l-11 36M1686 2736l-21 36M1673 2742l-20 23M1660 2667l16 21"/>
<path id="cc9" d="M1634 2695l88-20M1622 2766l32 5M1644 2746l-26 69M1653 2663l15 27M1637 2677l57 10M1640 2674l33 10"/>
<path id="cca" d="M1546 2861l32 29"/>
<path id="ccb" d="M1580 2895l-19 25"/>
<path id="ccc" d="M1655 2829l38 6"/>
<path id="ccd" d="M1656 2986l35 23M1508 2903l99 90M1643 2992l-18 31M1624 3024l-17 13M1531 2985l89 100M1518 3039l80 66M1679 3025l-28 33"/>
<path id="cce" d="M1559 2980l44 51M1559 2921l-30 44M1684 2989l-30 53M1646 3031l26 0M1664 3022l-11 22M1679 3018l-16 21M1672 2993l-6 32"/>
<path id="ccf" d="M1609 2996l52 41M1533 2983l16 28M1592 3019l-72 56M1649 3022l21 2"/>
<path id="cd0" d="M1649 3027l-107 121"/>
<path id="cd1" d="M1809 970l9-4"/>
<path id="cd2" d="M1764 1004l97 66M1795 1156l46-92M1725 1064l20 49M1816 992l1 20M1787 1022l27-15M1818 1001l3 27"/>
<path id="cd3" d="M1705 1091l24-28M1742 1056l40 26M1762 1040l27-40M1775 1094l57 38M1700 1099l28 21M1728 1109l10-10M1728 1110l22 13M1688 1096l27-8"/>
<path id="cd4" d="M1698 1033l36-41M1723 1113l39-50M1809 1033l9-8M1715 1083l33 17M1750 1053l24 21M1808 994l9 27"/>
<path id="cd5" d="M1709 1193l-2 31M1710 1226l33 44M1757 1237l8 27M1756 1235l30-40M1746 1153l48-63M1735 1126l44 34M1739 1122l17 15"/>
<path id="cd6" d="M1672 1143l20-31M1680 1145l13 14M1714 1191l30-20M1680 1238l66-43M1705 1255l59-38M1713 1127l42 108M1776 1192l54 38M1757 1232l16 20M1735 1118l22 16M1720 1129l12-2"/>
<path id="cd7" d="M1777 1256l62-72M1733 1124l12 20M1703 1141l-20 12"/>
<path id="cd8" d="M1688 1113l30 73l47 93"/>
<path id="cd9" d="M1690 1274l7 16M1691 1320l65-58M1676 1355l84-78M1776 1257l33 16M1751 1276l41-6"/>
<path id="cda" d="M1692 1382l30-48M1715 1269l22 55M1749 1269l25-10M1729 1315l22-8M1766 1344l46 54M1783 1283l34 4M1773 1282l28-43M1830 1378l-32 32"/>
<path id="cdb" d="M1697 1294l50-46M1721 1405l25-50M1703 1344l52 29M1727 1363l25-21M1747 1410l79-56M1768 1375l25 26M1751 1260l13 82M1804 1262l4 26M1739 1367l4 37M1801 1331l21-5"/>
<path id="cdc" d="M1765 1279l56 87"/>
<path id="cdd" d="M1762 1424l7-29M1776 1398l22 12"/>
<path id="cde" d="M1713 1637l100 47"/>
<path id="cdf" d="M1821 1649l-9 28M1692 1597l32-17"/>
<path id="ce0" d="M1770 1625l-61 84"/>
<path id="ce1" d="M1718 1623l39 102"/>
<path id="ce2" d="M1732 1734l-13 79M1781 1783l-2 17M1793 1731l12 44M1743 1812l-32-23"/>
<path id="ce3" d="M1707 1690l64 46M1713 1732l111 48"/>
<path id="ce4" d="M1811 1682l-65 70M1722 1800l25-3M1749 1704l-43 7"/>
<path id="ce5" d="M1757 1725l38 75"/>
<path id="ce6" d="M1747 1863l-13-15M1765 1851l-29-18"/>
<path id="ce7" d="M1714 1943l-33 22M1736 1833l-26 17"/>
<path id="ce8" d="M1708 1891l6 52M1734 1848l29 20M1785 1837l-42-25"/>
<path id="ce9" d="M1705 1893l63-40l66-50"/>
<path id="cea" d="M1745 2065l15 33M1786 2003l10-20l22 31"/>
<path id="ceb" d="M1718 2096l27-31"/>
<path id="cec" d="M1667 1983l29 71l35 70M1744 1944l64 90l13 103"/>
<path id="ced" d="M1749 2213l41 3M1740 2239l-29 1M1817 2148l-39-33"/>
<path id="cee" d="M1790 2216l11-35"/>
<path id="cef" d="M1711 2240l6-18"/>
<path id="cf0" d="M1731 2124l26 64M1821 2137l-38 103"/>
<path id="cf1" d="M1783 2299l52 11M1824 2362l-10-16"/>
<path id="cf2" d="M1763 2341l-9 46M1774 2366l9-39"/>
<path id="cf3" d="M1793 2336l-5 42"/>
<path id="cf4" d="M1757 2188l-39 116M1783 2240l0 128"/>
<path id="cf5" d="M1710 2443l27 19M1735 2401l-11 24l-11 15M1704 2482l47 6M1798 2465l17 74M1736 2391l130-19M1747 2458l101-4M1788 2370l-26 92M1758 2468l8 37M1762 2500l-6 31M1812 2494l-13 40"/>
<path id="cf6" d="M1720 2395l-37 24M1692 2404l33 36M1715 2422l37 6M1698 2500l48 22M1752 2397l-55 78M1736 2452l-4 56M1755 2506l-5 20M1744 2518l18-8M1766 2507l78-26"/>
<path id="cf7" d="M1693 2471l10 14M1719 2456l-63 47M1731 2401l27-4M1690 2487l64 18M1755 2484l52-22M1739 2405l126-19M1747 2433l87-11M1741 2388l-1 24M1810 2374l-11 80"/>
<path id="cf8" d="M1760 2500l76-14"/>
<path id="cf9" d="M1691 2591l26 4M1686 2641l37-5M1710 2591l135-32M1742 2518l11 27M1683 2659l29-14"/>
<path id="cfa" d="M1707 2496l-32 59M1698 2550l-21 7M1732 2508l-8 45M1705 2567l3 26M1665 2632l38-17M1689 2591l-1 119M1705 2580l4 85M1728 2548l106-39M1708 2575l21 4M1723 2541l13 30M1757 2552l-4 45M1711 2594l126-38M1723 2586l-7 43M1788 2582l23 94M1799 2534l27 4M1795 2585l34 0"/>
<path id="cfb" d="M1700 2514l30 17M1722 2594l6 80M1733 2579l120-38M1712 2564l5 35M1737 2576l-11 29M1769 2475l8 126M1698 2615l97 0M1723 2637l156-26M1739 2591l-9 29M1771 2588l13 44M1724 2558l43 3M1784 2620l11-35"/>
<path id="cfc" d="M1780 2620l73-5"/>
<path id="cfd" d="M1709 2666l-24 96M1714 2713l57-4M1778 2707l74-18M1735 2628l-11 106M1785 2634l-39 108M1811 2680l-36 57M1693 2753l120-12M1775 2700l-42 19M1739 2703l-36 39M1706 2749l35-3M1730 2653l-7 31M1707 2695l0 24M1690 2709l46-29"/>
<path id="cfe" d="M1732 2660l-28 82M1702 2744l-14 92M1725 2729l-4 75M1764 2723l-43 19M1691 2707l-7 46M1773 2686l-25 37M1694 2753l30-13M1753 2730l2 31M1725 2698l-15 36M1745 2706l-27 24"/>
<path id="cff" d="M1700 2746l-18 69M1717 2665l98-7M1708 2692l118-9M1688 2759l97-30M1676 2791l92-24M1746 2732l4 79M1774 2727l2 50M1809 2730l-1 139M1806 2685l17 7M1695 2666l-4 49M1750 2652l1 36M1684 2695l35-19M1742 2672l2 30"/>
<path id="c100" d="M1748 2886l107 4M1703 2900l28 46M1802 2865l14 111"/>
<path id="c101" d="M1687 2849l21-6M1791 2845l44 10M1692 2891l71-27"/>
<path id="c102" d="M1684 2818l89-26M1776 2818l68 5M1688 2869l100-23M1721 2810l-11 98M1740 2850l1 36M1774 2787l-8 55M1688 2909l56-20M1698 2929l46-1M1760 2879l23 120M1770 2864l27 129M1818 2903l-15 9"/>
<path id="c103" d="M1781 3005l35-31M1677 3018l11 7"/>
<path id="c104" d="M1721 2945l10 58M1722 2950l48-9M1719 2974l97-34M1678 2998l28 19M1695 3020l-28 23"/>
<path id="c105" d="M1729 2990l52 1M1786 2988l48-27M1742 2979l3 27M1751 2947l14 58M1750 2939l-1 29M1685 2995l-6 19"/>
<path id="c106" d="M1913 959l3 19"/>
<path id="c107" d="M1868 1012l116-66"/>
<path id="c108" d="M1893 1094l20 22M1812 1012l18-4"/>
<path id="c109" d="M1878 1073l53 57M1877 985l1 18"/>
<path id="c10a" d="M1841 1062l10-6M1852 1056l24-41M1837 992l9 32M1886 1070l-27-1M1888 1113l-25 13"/>
<path id="c10b" d="M1885 1044l3 99"/>
<path id="c10c" d="M1851 1177l61 58M1832 1191l67-58"/>
<path id="c10d" d="M1825 1265l68-78M1889 1246l23-6M1826 1280l65-47M1863 1126l2 36M1893 1232l22 3"/>
<path id="c10e" d="M1891 1191l-35 5l-2-35"/>
<path id="c10f" d="M1888 1143l5 94"/>
<path id="c110" d="M1881 1304l17-11M1895 1263l-26-2"/>
<path id="c111" d="M1786 1334l84-60M1871 1274l21 3M1848 1346l44-39M1793 1407l109-64M1850 1257l-4 64M1901 1381l11-42M1822 1326l17-30M1943 1399l12-48"/>
<path id="c112" d="M1801 1297l57 119M1881 1235l11 82M1883 1340l26 12M1883 1300l16 18M1924 1385l35 0M1869 1261l-1 24"/>
<path id="c113" d="M1821 1366l39 51M1893 1237l5 103"/>
<path id="c114" d="M1814 1399l15 18M1812 1405l18 23M1852 1405l5 14M1907 1478l-28 43M1917 1397l9 30"/>
<path id="c115" d="M1823 1428l17-14M1882 1417l-2 53M1903 1478l-19 0"/>
<path id="c116" d="M1854 1417l37-14M1846 1428l27-19M1854 1409l31-8M1880 1470l26 0M1913 1417l11-32M1888 1454l7-14M1879 1521l19-25M1930 1508l-30 18"/>
<path id="c117" d="M1860 1417l76 5M1860 1417l44 56l46 60M1900 1396l96 10M1900 1473l34 73"/>
<path id="c118" d="M1951 1628l-8 34M1965 1592l-44 6"/>
<path id="c119" d="M1932 1595l17 11M1930 1639l40 27M1921 1598l-8 14"/>
<path id="c11a" d="M1934 1546l43 68"/>
<path id="c11b" d="M1867 1740l-12-34"/>
<path id="c11c" d="M1836 1766l8 14"/>
<path id="c11d" d="M1795 1800l90-75l116-25M1834 1803l53-42l63-35M1900 1768l77-64"/>
<path id="c11e" d="M1816 2099l43-20"/>
<path id="c11f" d="M1777 2332l91 2M1906 2363l30 22M1927 2325l49 23M1908 2334l30 2M1928 2313l42 32"/>
<path id="c120" d="M1819 2305l46 7M1859 2319l40-28M1852 2353l97-20M1862 2393l61-32M1960 2343l-31 36M1920 2355l-20 22M1903 2372l12 4M1879 2321l44-9M1937 2304l24 3"/>
<path id="c121" d="M1822 2303l1 39M1821 2350l3 30M1852 2304l16 67M1897 2295l-5 86M1925 2305l10 28M1893 2377l28-8M1949 2312l5 33M1941 2317l1 22M1918 2320l65 12M1961 2348l-24-44M1876 2357l-4 35"/>
<path id="c122" d="M2014 2343l-129 13l-128 12"/>
<path id="c123" d="M1827 2476l10 18M1817 2475l29 6M1840 2393l11 10M1937 2377l-20 49M1909 2399l33 18"/>
<path id="c124" d="M1853 2497l22-1M1850 2492l21 2M1845 2469l14 23M1870 2489l4 25M1840 2367l-22 40M1896 2400l34 12M1840 2458l19 9M1882 2383l-43 76M1915 2426l13 62"/>
<path id="c125" d="M1855 2471l11 69M1857 2501l18 1M1834 2474l20 1M1826 2471l5 17M1868 2373l-8 19M1829 2423l85 11M1918 2359l-40 116M1922 2378l15 10"/>
<path id="c126" d="M1836 2486l84-6"/>
<path id="c127" d="M1806 2612l63-28M1807 2575l34 101M1853 2517l56 17M1867 2549l18 30M1856 2559l48 9M1883 2563l-3 100M1834 2667l44-27M1940 2474l-4 132"/>
<path id="c128" d="M1843 2561l-6 133M1844 2544l70 16M1859 2570l71 19M1908 2570l21 14M1856 2576l70 23M1866 2599l66 18M1849 2557l16 43M1904 2568l12 89M1912 2569l36 7M1899 2548l43-3M1911 2620l-10 43"/>
<path id="c129" d="M1841 2530l3 36M1890 2488l14 74M1867 2621l77 19M1870 2646l41 10M1901 2565l4 15M1908 2570l25 17M1865 2555l20 0M1910 2561l28 3M1906 2545l5 18M1886 2620l3-44"/>
<path id="c12a" d="M1853 2615l67 5l74-11"/>
<path id="c12b" d="M1917 2658l15 5M1837 2723l54-10M1837 2756l19-13M1842 2782l66-10M1853 2718l-32 121M1882 2710l-22 162M1853 2709l-14 48M1901 2663l-33 0"/>
<path id="c12c" d="M1839 2681l-25 59M1831 2771l21-10M1781 2791l78 4M1848 2720l-5 82M1872 2666l47 20M1854 2672l-11 63M1901 2715l-1 36M1866 2761l23 16M1927 2695l46 38"/>
<path id="c12d" d="M1846 2708l23-11M1875 2668l-8 49M1962 2685l-6-16"/>
<path id="c12e" d="M1847 2810l29-17M1837 2876l48 5M1880 2818l18 57M1889 2864l15 37M1839 2905l18 2M1827 2882l10 23M1868 2927l-3 17M1826 2920l11 28M1849 2905l22 7"/>
<path id="c12f" d="M1843 2802l-11 78M1846 2926l33 0M1825 2869l32 59M1820 2842l12 24M1854 2907l70 11M1844 2872l22 43M1841 2907l16-1M1835 2874l7 19M1842 2919l12 29M1857 2906l13 33M1863 2905l12 26"/>
<path id="c130" d="M1807 2899l50 1M1827 2830l56-14M1833 2858l55-12M1843 2882l62 0M1873 2881l11 31M1815 2898l25-3M1845 2875l2 16M1843 2869l2 18M1835 2869l9 18M1827 2872l7 16M1845 2904l16 34"/>
<path id="c131" d="M1871 2937l22 14"/>
<path id="c132" d="M1843 2945l-30 3"/>
<path id="c133" d="M1977 956l20 0"/>
<path id="c134" d="M1955 937l18 44M1977 941l1 41"/>
<path id="c135" d="M1955 1351l29-2M1989 1402l-4-28"/>
<path id="c136" d="M2074 1413l-12-47"/>
<path id="c137" d="M2083 1439l33-2"/>
<path id="c138" d="M2044 1415l-11 43"/>
<path id="c139" d="M2075 1407l8 32"/>
<path id="c13a" d="M1936 1422l78-5l97-5M1996 1406l97 2"/>
<path id="c13b" d="M1987 1632l-47 13"/>
<path id="c13c" d="M1960 1548l69 57M2027 1599l-35 54M1935 1662l72 11M2014 1599l-28-14"/>
<path id="c13d" d="M1993 1617l39 37M2045 1668l7 23M2016 1697l-23-35M2045 1677l29 5M1986 1626l11-14M2013 1666l25-5"/>
<path id="c13e" d="M1950 1533l38 102l13 65M1977 1614l44 69"/>
<path id="c13f" d="M1983 1645l-32 82M2053 1748l46-24M2078 1729l36-6M2087 1686l-10 32M2012 1738l-34 7M2027 1759l33 4M1974 1706l11 40"/>
<path id="c140" d="M2040 1704l53-34M2042 1719l6 18M2007 1719l20 40M2099 1760l-10 27M2066 1691l7 22"/>
<path id="c141" d="M2048 1731l75-62M2052 1691l-7-14M2076 1687l2 42M1962 1708l3-50M1999 1701l13 37M1987 1721l-20-42M2089 1787l-20-21M2059 1731l-33 17"/>
<path id="c142" d="M2001 1700l77-13M1950 1726l102-13l90 90M2021 1683l46 60l45 61M1977 1704l90-13"/>
<path id="c143" d="M2030 2343l32-23M2073 2368l-4 17M2026 2341l9-48M2016 2366l-30-3M2050 2294l4 52"/>
<path id="c144" d="M2072 2297l12 25M2046 2336l3-23M2004 2344l12 22"/>
<path id="c145" d="M2105 2321l-91 22M1900 2324l129-26l94-15"/>
<path id="c146" d="M1942 2417l48 22M1925 2489l75 14M1930 2487l69 25M1993 2484l101-12M1976 2460l18 41M2061 2449l5 20"/>
<path id="c147" d="M2001 2474l-2 29M1973 2409l-13 44M1972 2412l-22 7"/>
<path id="c148" d="M2074 2395l14 56M2088 2454l-9 52"/>
<path id="c149" d="M1920 2480l87-16l93-24"/>
<path id="c14a" d="M2043 2537l49 131"/>
<path id="c14b" d="M1938 2584l67-1M2045 2514l-3 20M1996 2557l-6-53"/>
<path id="c14c" d="M1998 2568l56 16M2022 2626l86 23M2016 2637l27 7M2093 2605l-7-36"/>
<path id="c14d" d="M1994 2609l77-2M1923 2571l102-17l103-21"/>
<path id="c14e" d="M1997 2745l52-15M2050 2730l62-3M2056 2650l11 89"/>
<path id="c14f" d="M1980 2736l20-2"/>
<path id="c150" d="M1923 2687l107-6l98-7"/>
<path id="c151" d="M2128 1408l12-38"/>
<path id="c152" d="M2159 1407l25 47"/>
<path id="c153" d="M2111 1412l89-8M2093 1408l93 4l100-4"/>
<path id="c154" d="M2128 1641l11 10"/>
<path id="c155" d="M2119 1673l72-44"/>
<path id="c156" d="M2211 1658l53-42M2193 1628l52 81"/>
<path id="c157" d="M2085 1740l41 62M2126 1801l40-66M2134 1832l19-28M2133 1754l78 59M2108 1718l104 78M2201 1698l42 49M2169 1677l57 16M2234 1815l9-11"/>
<path id="c158" d="M2081 1774l53-55M2145 1716l30-31M2131 1767l22-67M2173 1728l34-32M2140 1698l74 60M2125 1742l24 7"/>
<path id="c159" d="M2112 1706l22 5M2158 1667l40 41M2177 1751l73-52M2181 1860l45-82"/>
<path id="c15a" d="M2078 1687l122-13"/>
<path id="c15b" d="M2128 1810l100 38M2166 1874l13 45M2229 1832l-20 53"/>
<path id="c15c" d="M2140 1862l40-73M2170 1880l7-11M2172 1893l55-41M2166 1867l26-20M2123 1891l-11 27"/>
<path id="c15d" d="M2146 1869l12-5M2094 1783l74 97M2134 1854l55 29M2210 1844l12 17M2167 1851l40 7M2207 1940l51-46M2152 1831l20-5l10 27M2192 1847l12-32M2158 1874l-35 17M2186 1944l31-31"/>
<path id="c15e" d="M2142 1803l33 80l25 74M2112 1804l45 67l26 62"/>
<path id="c15f" d="M2224 2009l32-36M2219 2064l30-29M2201 1968l-36-8M2211 2033l-40-1M2208 2074l-30-7"/>
<path id="c160" d="M2200 1979l31-9"/>
<path id="c161" d="M2233 1993l-2 37M2215 2061l36-5"/>
<path id="c162" d="M2200 1957l11 76l9 67M2183 1933l25 67l0 100"/>
<path id="c163" d="M2184 2155l-7 38"/>
<path id="c164" d="M2211 2155l-27 0"/>
<path id="c165" d="M2220 2100l-20 120"/>
<path id="c166" d="M2199 2267l-27 79M2145 2315l8 27"/>
<path id="c167" d="M2044 2315l129 30M2176 2365l-12 25M2196 2305l-20 66M2167 2258l22 6"/>
<path id="c168" d="M2171 2353l-16 32M2120 2280l6-30"/>
<path id="c169" d="M2200 2304l-95 17M2200 2220l-60 70M2123 2283l98-23"/>
<path id="c16a" d="M2168 2491l80-17"/>
<path id="c16b" d="M2188 2381l-7 76M2182 2422l6 25M2231 2430l-29-6"/>
<path id="c16c" d="M2137 2459l116-20M2132 2433l10 54M2223 2413l8 17M2127 2533l17-50M2232 2502l6 20"/>
<path id="c16d" d="M2100 2440l91-23l89-17M2128 2533l129-39"/>
<path id="c16e" d="M2111 2648l58-35M2162 2592l73 7"/>
<path id="c16f" d="M2127 2496l35 151M2191 2495l18 96M2209 2599l-11 41"/>
<path id="c170" d="M2058 2586l110-33M2168 2602l11 48l29-3"/>
<path id="c171" d="M2071 2607l79-7l81 6"/>
<path id="c172" d="M2122 2726l41-39"/>
<path id="c173" d="M2131 2660l2 36M2150 2664l19-7M2203 2627l14 76"/>
<path id="c174" d="M2128 2674l129 0"/>
<path id="c175" d="M2341 1238l-21 26M2362 1245l-11 16M2316 1260l17-2"/>
<path id="c176" d="M2347 1220l34 17"/>
<path id="c177" d="M2356 1239l-24 20M2313 1223l-2 41M2320 1228l37 29"/>
<path id="c178" d="M2326 1239l40 47M2293 1282l47 21M2276 1310l33 16M2395 1244l-54 57M2266 1357l118 36M2327 1345l2 105"/>
<path id="c179" d="M2280 1282l39-8"/>
<path id="c17a" d="M2302 1270l-18 21M2326 1269l-31 65M2295 1324l78 31M2299 1326l-24 29M2341 1314l-15 25M2316 1261l-22 39M2292 1267l26-10"/>
<path id="c17b" d="M2308 1408l16 17M2393 1380l-30 93"/>
<path id="c17c" d="M2329 1429l66 16"/>
<path id="c17d" d="M2200 1404l90 4"/>
<path id="c17e" d="M2244 1634l43 43M2282 1671l57-16M2272 1658l15 17M2276 1611l32 48"/>
<path id="c17f" d="M2273 1609l10 26M2268 1630l30-5M2298 1616l30 41M2252 1646l0-31"/>
<path id="c180" d="M2261 1696l29-46M2348 1669l18-7M2345 1614l31 13M2361 1636l16 19"/>
<path id="c181" d="M2220 1630l86 49"/>
<path id="c182" d="M2239 1693l16 35M2244 1697l11 17M2231 1817l29-15M2295 1795l44 31M2298 1677l19 34M2319 1717l55 72"/>
<path id="c183" d="M2240 1761l18 1M2343 1822l34-26M2261 1745l22 43M2347 1694l-22 25"/>
<path id="c184" d="M2232 1705l26-8M2226 1743l37-24M2243 1764l5 18M2256 1735l16-16M2247 1788l157-53M2237 1785l42 26M2348 1656l32 69"/>
<path id="c185" d="M2306 1679l94 41"/>
<path id="c186" d="M2244 1874l41-25M2270 1866l14 14M2268 1892l20-9M2208 1971l70-60M2284 1907l50-5M2234 1985l99-54"/>
<path id="c187" d="M2314 1883l47-40M2295 1813l45 52M2317 1899l14 31M2328 1935l11-1M2314 1972l114-65M2320 1896l48 95M2348 1902l53 40"/>
<path id="c188" d="M2248 1856l17 26M2277 1836l23-23M2290 1886l39 63"/>
<path id="c189" d="M2271 1933l27 61M2237 2067l39 33M2341 2010l30-14M2352 1963l-46 13M2367 1989l20-23M2353 2001l25-17"/>
<path id="c18a" d="M2228 2030l73-32M2278 2031l32-8M2252 2078l45-23M2282 2101l35-10M2328 1952l14 54"/>
<path id="c18b" d="M2252 1985l85-31M2253 1956l4 31M2268 1968l13 96M2300 1977l0 55M2285 2034l22-12M2305 2086l52-45M2365 2023l3 7M2384 1945l-33 51"/>
<path id="c18c" d="M2315 2136l62-41M2304 2123l19 18M2304 2080l56 69M2305 2130l16-2M2341 2133l10 38"/>
<path id="c18d" d="M2315 2163l53-14M2336 2188l66-12M2308 2136l12 40"/>
<path id="c18e" d="M2358 2147l42-36M2292 2026l102 151M2315 2114l-28 2M2279 2225l8 19M2318 2231l11-13"/>
<path id="c18f" d="M2286 2221l78 21"/>
<path id="c190" d="M2220 2354l63 4M2287 2244l-21 13"/>
<path id="c191" d="M2300 2279l-1 27M2270 2336l21 7l0 22"/>
<path id="c192" d="M2190 2337l102-24M2270 2283l-20-5"/>
<path id="c193" d="M2221 2260l65-39M2270 2250l5 83l-8 92"/>
<path id="c194" d="M2367 2519l18-6M2270 2450l-46 0M2270 2492l-25 12"/>
<path id="c195" d="M2345 2486l20 45M2336 2507l37 21M2361 2449l26 66M2372 2505l2 26"/>
<path id="c196" d="M2333 2508l-4 16M2346 2475l21 48M2245 2504l0 26"/>
<path id="c197" d="M2280 2400l76 2M2257 2494l68-38l60-39M2267 2425l3 82"/>
<path id="c198" d="M2304 2563l66 37M2379 2599l-2 16M2354 2569l17 18M2330 2600l58 26M2243 2594l27 3M2278 2615l-18 36M2306 2618l17 47M2249 2674l-4-52l27 0M2293 2566l40-4M2336 2593l-12 31"/>
<path id="c199" d="M2239 2600l65-18M2301 2580l0 54M2173 2656l138-37M2262 2574l-19 42M2305 2591l65 22M2328 2530l-12 59M2315 2592l-1 18M2357 2516l3 46M2360 2563l0 92M2339 2640l53 22M2342 2574l-2 29M2243 2611l0-17"/>
<path id="c19a" d="M2336 2635l-9 29M2310 2531l19 4M2340 2539l42 34M2344 2625l56 20M2352 2640l-14 27M2362 2519l0 85M2365 2597l14 27M2336 2606l61 29M2309 2610l27-17"/>
<path id="c19b" d="M2231 2606l89 14M2270 2507l29 80l35 87"/>
<path id="c19c" d="M2278 2652l2 51M2380 2645l-29 59M2376 2735l8 16M2357 2717l-15 25M2374 2691l-20 28M2369 2698l10 45"/>
<path id="c19d" d="M2351 2691l27 6M2387 2649l-42 79M2370 2723l-4 27M2389 2703l-22 21M2345 2714l24 0M2341 2731l36 3M2359 2748l20 2M2285 2680l7-15"/>
<path id="c19e" d="M2375 2735l-8 20M2373 2699l-19 27M2366 2723l20 12M2363 2786l27 1"/>
<path id="c19f" d="M2257 2674l123 26"/>
<path id="c1a0" d="M2394 1239l16 16M2425 1252l-23 15"/>
<path id="c1a1" d="M2388 1266l36 35M2364 1327l67 45M2405 1343l3 24"/>
<path id="c1a2" d="M2400 1269l-18 23"/>
<path id="c1a3" d="M2375 1302l46 56"/>
<path id="c1a4" d="M2425 1457l78 43M2452 1395l-7 13M2523 1431l-26 19M2378 1467l20 75M2444 1494l31 48"/>
<path id="c1a5" d="M2386 1377l145 74M2467 1543l51-8"/>
<path id="c1a6" d="M2445 1409l-32 65M2488 1387l-9 65M2476 1456l-13 26M2484 1495l-24-7M2471 1475l-7 16M2409 1516l30 1M2401 1471l24 1M2478 1480l69 67"/>
<path id="c1a7" d="M2390 1609l32-24M2398 1610l18-11M2493 1538l-18 99M2475 1564l-49 6M2361 1614l44-7"/>
<path id="c1a8" d="M2392 1571l41-23M2371 1651l32 6M2390 1585l15 102M2421 1554l110 24M2432 1658l-3 34M2373 1614l21 47"/>
<path id="c1a9" d="M2401 1667l51-15M2455 1653l112-1M2439 1513l-21 91M2398 1609l15 36M2394 1622l21 33"/>
<path id="c1aa" d="M2382 1797l20 28M2381 1732l16 45M2396 1706l37-33M2473 1782l73-35M2399 1780l31 43M2483 1750l-32 38M2517 1762l-1-27"/>
<path id="c1ab" d="M2392 1712l13 62M2513 1683l-6 36M2451 1788l36-13M2516 1735l-15 6"/>
<path id="c1ac" d="M2381 1762l129-75M2411 1813l61-30M2440 1669l15 66"/>
<path id="c1ad" d="M2400 1720l69 24l74 27"/>
<path id="c1ae" d="M2460 1821l32 30M2449 1840l7 17M2511 1826l-15 44M2498 1881l18 36M2435 1890l21 8M2454 1903l21-1M2458 1914l15 7M2440 1951l51-14M2439 1909l28 28M2394 1943l11 25"/>
<path id="c1af" d="M2401 1886l29-16M2362 1799l54 99M2423 1836l62 22M2405 1886l38 11M2456 1863l-13 39M2455 1903l15-4M2446 1890l12 19M2433 1896l27 26M2448 1910l21 8M2396 1900l55 88"/>
<path id="c1b0" d="M2365 1836l40-22M2453 1903l134-23M2451 1905l17 6M2457 1911l15 6"/>
<path id="c1b1" d="M2388 2006l87-29M2418 1982l1 30M2379 2092l33-58M2401 2107l59-62M2383 1998l82 98M2430 2006l37 47M2453 2023l21-2M2455 2072l44-32M2406 2028l35-13M2367 1982l37-26M2394 1967l26-5"/>
<path id="c1b2" d="M2480 1952l-11 79M2453 2117l63-46M2458 1993l25 0M2468 1987l16-2M2444 1995l-10 24M2457 1985l-9 24M2395 1971l5 15"/>
<path id="c1b3" d="M2363 2033l60-35M2413 2034l40-26M2331 1989l108 158M2452 2024l83-33M2444 2023l84 105M2479 2020l40 32M2436 1995l-6 30M2442 1999l-9 23M2441 2014l30-6M2390 1973l19-9M2401 1974l22-3M2398 1984l26-7M2395 1977l26-5"/>
<path id="c1b4" d="M2430 2253l55-40M2353 2174l58 62M2414 2158l62 62M2479 2224l16 19M2439 2156l34 29M2444 2159l25-18M2506 2168l9-7M2469 2155l24 14M2456 2156l91 55M2390 2177l24-23M2440 2170l47 41"/>
<path id="c1b5" d="M2419 2152l45-28M2403 2175l26-24M2382 2157l29 53M2422 2226l9-6M2498 2254l-31-34"/>
<path id="c1b6" d="M2401 2178l16-24M2428 2220l38-45M2455 2120l10 31M2450 2075l95 109M2446 2168l10-11M2475 2208l28-46M2488 2258l60-94M2444 2169l113 95M2448 2240l23-37M2451 2189l23 22M2440 2167l40 30M2428 2195l23 10M2468 2207l8 14M2401 2161l6 13"/>
<path id="c1b7" d="M2456 2282l25-28M2454 2310l31-29"/>
<path id="c1b8" d="M2477 2224l44 61M2473 2312l24 45M2441 2270l-5 30M2391 2255l1-25"/>
<path id="c1b9" d="M2417 2214l51 74M2466 2296l12 33M2499 2305l23 15M2471 2328l40-23M2436 2300l-24 7"/>
<path id="c1ba" d="M2440 2270l88-30M2364 2242l76 28"/>
<path id="c1bb" d="M2439 2498l82 12M2471 2486l12 47M2369 2522l75-6M2495 2420l9 33M2464 2426l25-11M2467 2451l3 26"/>
<path id="c1bc" d="M2422 2423l60 20M2386 2442l40 12M2361 2452l118 51M2386 2441l-2 19M2438 2445l18 75M2505 2455l18 83M2461 2438l20-12M2463 2423l28-8M2450 2447l4 28"/>
<path id="c1bd" d="M2432 2458l84 5M2356 2495l74 3M2386 2464l12 56M2427 2424l-2 68M2467 2439l1 41M2482 2432l24 113M2436 2461l54 21M2457 2446l-5 19"/>
<path id="c1be" d="M2356 2402l84 8"/>
<path id="c1bf" d="M2362 2548l73-6M2373 2571l85-3M2371 2585l41 0M2430 2519l6 69M2465 2520l12 82M2468 2538l-13 28M2448 2540l26-1M2448 2520l11 26M2442 2545l31-1M2471 2556l27 16"/>
<path id="c1c0" d="M2382 2620l3 34M2439 2527l34 4M2438 2543l80 15M2378 2619l58 8l108 8M2409 2570l26 116M2492 2534l-1 24M2376 2612l15 17M2484 2557l-8 14M2456 2544l18 2M2463 2526l21 10M2480 2559l-7 19M2445 2546l25 6"/>
<path id="c1c1" d="M2450 2593l85 20M2383 2629l68 19M2455 2647l94 12M2380 2504l11 121M2398 2508l14 55M2439 2593l30 81M2481 2606l12 72M2503 2599l9 80M2511 2535l-7 40"/>
<path id="c1c2" d="M2386 2659l105 17M2376 2685l71 32M2359 2712l123 35M2486 2748l40-2M2360 2740l160 35M2401 2658l-16 39M2466 2665l-5 23M2520 2665l-32 74M2489 2743l-11 59M2547 2676l-57 157M2381 2672l21 21M2419 2781l-8 10M2370 2736l35 25M2386 2721l-4 34M2404 2762l3 25M2379 2743l16 3"/>
<path id="c1c3" d="M2373 2680l21 9M2381 2652l37 36M2485 2700l40 6M2393 2775l35 35M2427 2680l-34 96M2485 2668l-15 29M2461 2706l-19 138M2413 2738l-4 29"/>
<path id="c1c4" d="M2492 2676l55 2M2468 2720l59 0M2456 2697l-51 110M2411 2681l-23 19M2390 2769l35 35"/>
<path id="c1c5" d="M2503 2807l-13 19M2458 2832l51-13M2422 2823l-6 23M2486 2854l13 20M2492 2834l17-5M2501 2824l25-12M2508 2816l-7 50"/>
<path id="c1c6" d="M2413 2824l35 25M2421 2853l31 4M2474 2848l21 1M2477 2818l-20 60"/>
<path id="c1c7" d="M2456 2809l60-1M2452 2835l-19 32M2486 2860l22-3"/>
<path id="c1c8" d="M2495 1382l53 19"/>
<path id="c1c9" d="M2520 1430l36 17M2520 1534l56-58"/>
<path id="c1ca" d="M2525 1437l7 46M2540 1438l41 34M2567 1433l60 59M2598 1526l21 11"/>
<path id="c1cb" d="M2548 1433l-2 41M2568 1465l96-49"/>
<path id="c1cc" d="M2570 1470l26 67"/>
<path id="c1cd" d="M2558 1539l-22 68M2558 1579l89-66M2606 1564l-33 29M2627 1621l-28 17"/>
<path id="c1ce" d="M2539 1616l-5 85M2584 1671l128-58M2558 1624l25 45M2633 1512l34 58M2665 1616l-44 40M2599 1638l5 16M2640 1660l39-17"/>
<path id="c1cf" d="M2470 1607l103-18M2556 1688l107-118M2576 1536l43 69M2643 1633l2 28M2655 1619l-39 48"/>
<path id="c1d0" d="M2596 1537l24 63l25 90"/>
<path id="c1d1" d="M2531 1746l30 36M2527 1723l85-67M2548 1763l93-79M2567 1818l132-91M2561 1802l4 35M2630 1824l19-23M2555 1812l-31-12M2609 1796l21-26"/>
<path id="c1d2" d="M2508 1840l63-40M2524 1725l46 51M2571 1777l34 43M2558 1778l-3 34M2656 1808l6 23"/>
<path id="c1d3" d="M2579 1667l25 42M2616 1660l75 78M2559 1692l22 7M2622 1818l23-21"/>
<path id="c1d4" d="M2543 1771l77 29"/>
<path id="c1d5" d="M2595 1857l28-21M2644 1849l31-24M2602 1901l12 97M2636 1919l38-26M2635 1910l5 36"/>
<path id="c1d6" d="M2534 1807l16 29M2544 1842l17-4M2605 1822l10 13M2597 1937l50-11M2652 1921l-19 3"/>
<path id="c1d7" d="M2551 1826l12 80M2550 1848l51 3M2597 1829l31 74M2601 1855l30-41M2486 1950l95-47M2639 1912l9 27M2613 1959l53-29"/>
<path id="c1d8" d="M2478 2134l116-106M2520 2155l101-115M2606 2004l13 14M2643 1985l6 27M2588 2097l49-11"/>
<path id="c1d9" d="M2476 1987l115-46M2574 2012l51-21M2518 2069l51-74M2596 2026l25-20M2526 2054l50 31M2590 1992l14 10M2601 2019l61-7M2653 2040l0 35"/>
<path id="c1da" d="M2524 1931l-5 98M2573 1931l7 77M2536 2004l34 33M2611 1998l98-51M2614 1992l4 27M2619 2073l8 18M2653 2003l5 72M2623 1981l-10 17"/>
<path id="c1db" d="M2598 2153l18-23M2581 2141l26 18M2602 2140l18-10M2618 2107l-19 15M2540 2198l-18 20"/>
<path id="c1dc" d="M2582 2203l25-68"/>
<path id="c1dd" d="M2561 2177l41-96M2558 2220l35 28M2536 2174l63 26M2604 2119l14 17"/>
<path id="c1de" d="M2528 2240l92-20"/>
<path id="c1df" d="M2524 2287l22 11M2622 2219l27 42"/>
<path id="c1e0" d="M2477 2321l104-112M2496 2357l50-27"/>
<path id="c1e1" d="M2524 2310l12 36M2532 2265l33 13M2631 2392l2-36"/>
<path id="c1e2" d="M2504 2469l68-18M2503 2506l43-20M2524 2433l12 85M2545 2409l14 113"/>
<path id="c1e3" d="M2508 2532l73-26M2584 2453l-8 65M2653 2476l4 46M2591 2467l62 3M2643 2470l13 87"/>
<path id="c1e4" d="M2531 2409l33-10M2493 2445l79-21M2592 2472l-6 39"/>
<path id="c1e5" d="M2600 2400l71-18"/>
<path id="c1e6" d="M2507 2590l95-26M2532 2669l76-19M2544 2519l7 69M2610 2555l29-11"/>
<path id="c1e7" d="M2511 2563l32-26M2547 2536l27-7M2529 2618l90-23M2552 2590l11 97M2556 2622l32-4M2524 2561l32 49M2642 2594l-3 54"/>
<path id="c1e8" d="M2523 2505l3 38M2504 2577l35 102M2532 2644l95-20M2522 2532l25 130M2575 2505l20 153M2587 2519l53 79M2636 2605l48-18"/>
<path id="c1e9" d="M2538 2671l-27 49M2531 2761l66 6"/>
<path id="c1ea" d="M2504 2666l37 6M2529 2677l27 20M2562 2696l40-22M2536 2724l62 0M2583 2671l-29 108M2605 2657l-25 140"/>
<path id="c1eb" d="M2509 2796l54 4"/>
<path id="c1ec" d="M2707 1518l12-16M2683 1512l29 22M2715 1477l3 29"/>
<path id="c1ed" d="M2645 1519l69-42M2653 1423l36 77M2705 1422l27-8"/>
<path id="c1ee" d="M2712 1489l112-14M2767 1476l19 41M2791 1493l-27-22"/>
<path id="c1ef" d="M2714 1610l18-24M2722 1582l40-27M2683 1674l45-44M2682 1665l14 17M2716 1540l27 62M2674 1617l-10 19M2712 1594l2 25M2691 1628l36-28"/>
<path id="c1f0" d="M2670 1575l30 67M2744 1500l55 134M2700 1620l-12 19M2663 1574l8 20M2690 1581l22 28"/>
<path id="c1f1" d="M2668 1678l28-3M2673 1665l19 29M2759 1671l20-8M2674 1605l39-4M2658 1613l33 6"/>
<path id="c1f2" d="M2699 1764l84 6M2698 1668l6 53M2715 1794l14 25M2755 1655l17 69M2770 1732l7 88M2779 1798l33-6M2685 1794l-25 6"/>
<path id="c1f3" d="M2649 1752l23 50M2690 1716l63-20M2707 1726l4 62M2683 1813l2-19M2738 1825l21-24"/>
<path id="c1f4" d="M2640 1815l62-34M2680 1781l-15 4M2695 1831l45-24"/>
<path id="c1f5" d="M2645 1690l35 90l18 70M2620 1800l90 18"/>
<path id="c1f6" d="M2610 1847l105-41M2654 1803l38 67M2730 1871l-11 30M2801 1887l-7 29M2801 1887l-5 20M2789 1886l-7 30M2655 1939l23-25M2652 1940l41-49M2666 1875l32 19M2668 1926l-1 15M2705 1882l-12 38M2698 1889l-6 16M2749 1890l22 6M2729 1866l-8-29"/>
<path id="c1f7" d="M2628 1904l88-49M2748 1825l26 123M2784 1838l28 27M2776 1894l-9 24M2675 1907l0 10"/>
<path id="c1f8" d="M2720 1853l19-6M2720 1841l53 19M2729 1902l134 18M2716 1935l0 30M2764 1893l18 6M2672 1924l32-17M2679 1912l3 60M2667 1925l4 19M2680 1907l-8 16M2708 1878l21-12M2722 1931l-42-11"/>
<path id="c1f9" d="M2698 1850l22 70M2710 1818l100 24"/>
<path id="c1fa" d="M2721 1983l28-32M2715 1948l58 70M2678 2051l29-22M2673 2051l30-38M2693 2012l-1 30M2671 2055l32-35M2694 2008l21-12M2708 1992l23-11M2730 1987l12 25M2705 1985l17 25M2714 2099l12-12M2741 2007l1 14M2728 1957l-18 6M2740 2009l21-4M2758 2091l23-13"/>
<path id="c1fb" d="M2758 2021l52-11M2682 1976l6 17M2690 1979l17 29M2679 2048l17-19M2728 1977l23 20M2745 2007l31-26M2749 2053l-43-2l-4-18"/>
<path id="c1fc" d="M2713 1964l29-3M2606 2065l113-50M2664 2064l22-21M2727 1995l14-10M2724 2010l-2 18M2754 1942l21 42M2710 1963l7 29M2761 2005l5 22"/>
<path id="c1fd" d="M2720 1920l25 87l15 93"/>
<path id="c1fe" d="M2741 2189l71-57M2782 2174l-9 18M2762 2108l-49 1M2791 2213l-22 2M2733 2219l-28 13"/>
<path id="c1ff" d="M2731 2116l116 120M2777 2161l-29 25M2769 2215l5-17M2700 2184l0-48l-27 12M2720 2176l13 43"/>
<path id="c200" d="M2788 2141l17-18M2773 2228l39-44"/>
<path id="c201" d="M2760 2100l22 76l22 75M2620 2220l89-39l91-41"/>
<path id="c202" d="M2742 2195l106 103M2716 2369l17 18"/>
<path id="c203" d="M2777 2363l-3-17"/>
<path id="c204" d="M2671 2382l79-22l87 6"/>
<path id="c205" d="M2653 2476l106 9M2721 2472l8 34M2804 2429l-20 77M2757 2501l51 36M2763 2489l14 37M2741 2428l-37 11M2791 2449l-24 32"/>
<path id="c206" d="M2704 2434l53 11M2695 2434l-17 50M2768 2428l-23 29M2772 2437l44 9M2785 2451l-15 25"/>
<path id="c207" d="M2723 2426l-19 54M2736 2434l-11 53M2649 2486l86-4M2639 2510l132 11M2776 2435l-27 27M2767 2492l32 11M2791 2432l-25 27M2770 2439l39 1"/>
<path id="c208" d="M2689 2587l96 0M2689 2630l74 6M2711 2600l-20 25M2730 2512l5 125M2780 2550l-21 73M2698 2638l4 18M2638 2592l44-5"/>
<path id="c209" d="M2667 2551l81 0M2751 2552l54 12M2739 2608l53 6M2663 2479l18 100M2678 2482l33 116M2782 2591l-6 54M2780 2532l24 16M2783 2532l3 82M2779 2650l18 0M2783 2630l-4 21M2799 2628l-3 22"/>
<path id="c20a" d="M2647 2529l110 2M2666 2568l48 0M2716 2534l0 115M2722 2661l68-12M2776 2620l33 1"/>
<path id="c20b" d="M2799 1525l64-18M2811 1459l21 91M2835 1476l20-6M2816 1510l28-26M2825 1464l9 25M2812 1481l20 29"/>
<path id="c20c" d="M2828 1545l18-19M2908 1505l12 30M2835 1497l31-11M2831 1476l27-6M2803 1486l15-8"/>
<path id="c20d" d="M2860 1493l20 2M2868 1495l5 39M2798 1503l29-20"/>
<path id="c20e" d="M2825 1614l68-36"/>
<path id="c20f" d="M2821 1531l37 87M2858 1623l6 17M2863 1604l-43 37"/>
<path id="c210" d="M2784 1661l71-5M2895 1544l76 3M2875 1552l86-9M2855 1628l54-16M2839 1691l71-29M2880 1578l-18 82M2929 1531l18 38M2814 1593l20 32"/>
<path id="c211" d="M2791 1771l62 20M2860 1824l150-40M2889 1678l34 103M2817 1778l11 25"/>
<path id="c212" d="M2810 1677l14 51M2813 1756l26 74M2852 1728l20 90M2822 1792l-23 7M2797 1796l26 33"/>
<path id="c213" d="M2809 1671l10 23M2805 1697l54 24M2841 1711l57-33M2910 1815l17-19M2810 1768l23 44M2823 1811l14 16M2803 1819l30-14"/>
<path id="c214" d="M2905 1845l17 104M2849 1927l44-22M2852 1917l2 36M2860 1934l0 19M2838 1860l24 1M2791 1903l35-22M2817 1886l19-10M2819 1826l43 34M2741 1940l122-33M2849 1921l27-14M2891 1928l27 6M2919 1947l28-14"/>
<path id="c215" d="M2828 1824l7 131M2873 1821l47 39M2867 1914l41 3M2812 1873l18-15M2827 1851l11-3M2796 1856l17 33M2836 1841l20-17M2800 1870l5 25M2818 1902l15 29M2923 1917l17-17M2907 1906l14 30M2833 1881l37-8"/>
<path id="c216" d="M2820 1844l72 4M2884 1852l45 20M2903 1943l-44 8M2838 1907l7 15M2851 1897l12 38M2870 1918l44-1M2843 1908l10 37M2848 1885l12 40M2873 1931l0 20M2823 1869l-3 23M2813 1858l9 15M2832 1869l-7 29M2902 1921l28 7M2925 1929l16-6M2836 1846l-3 35"/>
<path id="c217" d="M2810 1842l90 18"/>
<path id="c218" d="M2836 1961l8 21M2829 2022l21 40M2859 1973l22 16M2868 1986l16-8M2873 2006l-28 28M2810 1969l20 34M2814 2027l23 34M2930 1978l-5 41M2848 2011l22-5M2872 2005l32-14M2818 2076l68-39M2845 2010l-2 68M2917 1989l5 94"/>
<path id="c219" d="M2787 1986l94 1M2782 1973l47 49M2874 1990l103-12M2912 2098l29-13M2805 2000l34-17M2799 2006l31-13M2788 1990l27-6M2842 1973l14-8M2778 1921l59 88M2761 2048l96-50M2814 2110l132-47"/>
<path id="c21a" d="M2829 2039l33-20M2833 2079l118-48M2874 1979l58 112M2864 1956l12 17M2818 1996l13-13M2834 1937l35 60M2857 1991l59-30M2841 1945l36 67M2891 2034l62-9M2872 2008l62 144M2830 1983l4 35"/>
<path id="c21b" d="M2897 2166l54-27M2828 2135l23 28M2857 2160l1 29M2895 2160l54 88"/>
<path id="c21c" d="M2817 2182l27 0M2822 2140l24 56M2845 2151l27-19M2844 2080l45 77M2840 2164l27-13M2898 2168l54-25M2849 2217l18 7M2929 2191l13 15M2821 2204l30 40"/>
<path id="c21d" d="M2863 2097l-21 26M2771 2073l76 91M2833 2192l17 5M2832 2190l55 81"/>
<path id="c21e" d="M2800 2140l103-54"/>
<path id="c21f" d="M2812 2280l43-39M2893 2313l2 20M2814 2297l-16 2M2829 2369l-10-44M2870 2355l30 3"/>
<path id="c220" d="M2838 2332l17-15M2868 2254l58-18M2855 2293l51 14M2875 2214l48 103M2852 2299l33 3M2844 2348l81-16"/>
<path id="c221" d="M2787 2366l29-18M2788 2315l65 80M2842 2287l14 36M2893 2278l-7 40M2847 2304l31 117M2832 2361l-45 7M2819 2325l-24-2M2867 2374l3-19"/>
<path id="c222" d="M2804 2251l16 69l18 66M2837 2366l83 14"/>
<path id="c223" d="M2823 2416l25-36M2893 2453l60-36M2793 2472l117 31M2828 2428l-24 87M2892 2459l5 50M2808 2501l121 22M2825 2498l9 32M2806 2450l-2 51M2839 2388l28 2M2830 2441l10 36"/>
<path id="c224" d="M2853 2415l104-40M2922 2409l-47-23M2754 2478l100 27M2902 2472l29 0"/>
<path id="c225" d="M2922 2408l2 62M2817 2447l97 34M2863 2504l62 16M2837 2438l-12 49M2856 2437l-6 78M2867 2491l8 23M2908 2483l9 31M2928 2476l20 51M2809 2425l17 9M2853 2436l-23 5"/>
<path id="c226" d="M2838 2386l22 74"/>
<path id="c227" d="M2792 2561l93 35M2853 2504l15 147M2828 2641l-3 14"/>
<path id="c228" d="M2899 2538l40 3M2905 2627l26-8M2810 2621l124 36M2814 2599l-1 38M2916 2513l10 47M2924 2642l12 23M2924 2623l19-3M2835 2641l-6 12"/>
<path id="c229" d="M2887 2564l49-4M2782 2590l61 38M2802 2505l19 53M2842 2539l4 127M2887 2501l11 100M2896 2631l3 41M2788 2626l47 24M2920 2516l2 65M2873 2638l-7 29M2830 2643l17 22"/>
<path id="c22a" d="M2818 2653l108 31M2878 2674l13 33M2906 2663l4 42M2853 2669l3 17M2856 2681l4 19M2853 2678l28 12"/>
<path id="c22b" d="M2867 2656l2 23M2868 2667l87-5M2930 2685l19 1M2929 2664l5 30"/>
<path id="c22c" d="M2861 2683l7 15M2819 2664l48 32M2842 2673l33 23M2842 2673l22 18"/>
<path id="c22d" d="M2979 1655l32-26M3014 1666l60-34M2975 1584l-3 17M2973 1592l1 17M2980 1589l37-30M3003 1596l-11 29"/>
<path id="c22e" d="M2991 1601l42-35M2942 1578l9 93M3005 1548l4 139M2996 1618l39-27M3073 1634l-8 29M2959 1589l22 3"/>
<path id="c22f" d="M3013 1575l-6 90M2975 1620l17-8M2981 1609l2 21M2977 1632l32-31"/>
<path id="c230" d="M2904 1750l99-22M2988 1685l37 112M3027 1800l1 18M3015 1798l16-4M3050 1744l35-51M3015 1790l-20 45M3058 1734l11-8M3048 1714l22-13M2947 1810l19 18M2926 1793l29 20"/>
<path id="c231" d="M3031 1702l44-43M2981 1760l88 63M2999 1696l22 23M3058 1703l2 15M3058 1702l10 26"/>
<path id="c232" d="M2980 1749l46-39M3023 1722l105 76M3060 1699l2 18M2938 1820l16-8"/>
<path id="c233" d="M2979 1976l60-40M3015 1898l44 36M2953 1915l-1 19M2965 1932l24-22M3012 1958l128-55M3007 1938l3 32M3062 1959l18-8"/>
<path id="c234" d="M2995 1833l28-11M2991 1935l-1 47M3020 1847l14-9M3010 1984l112-75M2934 1831l18-18M2940 1932l40 45M2996 1904l20 14M2993 1913l19-15M3013 1903l25 81M2980 1937l14-10M3010 1944l3 14M3009 1952l22-24"/>
<path id="c235" d="M2944 1924l73-45M2972 1833l4 76M3014 1914l42-31M2929 1819l25 18M3034 1865l16-51"/>
<path id="c236" d="M2900 1860l83 2l88 2"/>
<path id="c237" d="M3015 1967l5 12M2908 2117l91-42M2971 2068l104-92M3039 1989l39 31M3006 1952l-1 29"/>
<path id="c238" d="M2947 2012l0 44M2995 2003l-3 17M2976 1954l11 16M2992 1981l30-18M2969 1996l42-41M2976 1976l33-28M3068 2010l-6-51"/>
<path id="c239" d="M2942 1979l-2 18M2959 2030l3 24M2910 2009l110-51M2985 2005l159-63M2989 1997l100 100M2958 2053l44-4M2969 2055l14 41M3008 2036l12 41"/>
<path id="c23a" d="M2903 2086l97-46l92-39"/>
<path id="c23b" d="M2929 2235l77-22M2934 2140l14 37M3014 2229l61-104M2981 2159l86 96M3020 2134l53 42"/>
<path id="c23c" d="M2972 2093l22 46M2980 2152l11 35M2976 2084l53 59M3055 2120l18 18"/>
<path id="c23d" d="M2933 2092l25 65M2936 2189l52-4M2949 2179l50 110M2984 2166l83-114M2993 2183l50-58"/>
<path id="c23e" d="M2910 2306l77-51M2962 2311l51-30M3043 2304l51-45M2989 2387l75-34M3038 2292l34 59"/>
<path id="c23f" d="M2992 2347l18-20M2957 2324l31 64M3002 2267l44-12M3010 2224l27 55M3040 2288l1 16M3068 2256l3 29M2989 2329l36-15"/>
<path id="c240" d="M2992 2250l28-6M2958 2307l19-14M2950 2301l7 17M2979 2348l-1 37"/>
<path id="c241" d="M2949 2460l29-21M2968 2460l27-32M3026 2478l21-9M2943 2470l24 58M3012 2454l16 23M3044 2486l-18 26"/>
<path id="c242" d="M2897 2492l121-9M2982 2477l21 30M2926 2514l42-7M3011 2492l-7 31M3004 2493l-24 39"/>
<path id="c243" d="M2975 2434l60-45M3013 2366l-5 58M2970 2446l5 13M3027 2401l-7 23M3046 2486l17 3"/>
<path id="c244" d="M2920 2380l71 46l69 44"/>
<path id="c245" d="M2986 2532l86-15M2928 2542l113 4M3059 2489l-10 67M3047 2567l19 46M3066 2520l-4 31M2955 2615l27 18M2949 2608l23 18M2958 2608l-3 16M2993 2533l-5 25M3013 2548l24-5"/>
<path id="c246" d="M2928 2570l70 19M2927 2602l43 17M2945 2511l15 31M2949 2566l8 102M2998 2580l5 71M3035 2485l-7 134M2947 2658l37-8M3062 2520l-22 27M2959 2606l13 21M2979 2543l-16 21M2948 2595l14 13M2980 2595l26-11"/>
<path id="c247" d="M2945 2620l91 23M2939 2651l27-6M2974 2508l-3 79M2974 2616l0 13M2942 2612l21 12M2969 2623l22 6M3006 2569l25-5M3015 2546l-2 23M2988 2558l0 42M2976 2566l31-12"/>
<path id="c248" d="M2952 2652l6 24"/>
<path id="c249" d="M2945 2656l5 23"/>
<path id="c24a" d="M3055 1659l77 84M3084 1685l5 16M3085 1737l12-21"/>
<path id="c24b" d="M3078 1728l10-18M3079 1686l6 16"/>
<path id="c24c" d="M3060 1838l41-57M3130 1747l14-6M3079 1701l29 24"/>
<path id="c24d" d="M3068 1907l28 23M3204 1875l14 36M3088 1867l-2 41M3153 1870l13 47M3177 1874l-23 49l-17 3"/>
<path id="c24e" d="M3114 1841l20 17M3146 1942l21-4M3078 1903l9 36M3137 1893l-7 68M3154 1922l5 42M3184 1884l13 24M3200 1916l-19 41M3135 1980l-1-41"/>
<path id="c24f" d="M3049 1842l66 78M3149 1900l29-11M3160 1933l28-23M3182 1951l72 12"/>
<path id="c250" d="M3071 1864l89 6M3160 1871l81 17M3200 1900l31-72"/>
<path id="c251" d="M3069 1969l66 96M3125 1973l23 25M3133 1983l18-10M3124 1995l25-15M3137 2008l15 16M3110 2074l18 28M3080 2055l36-3M3082 2073l32 4"/>
<path id="c252" d="M3102 2088l29-10M3093 2058l17-2M3104 2053l9 37"/>
<path id="c253" d="M3127 2017l18-22M3096 2080l17 1M3114 2092l17-18M3109 2065l26-22M3183 2008l61 10"/>
<path id="c254" d="M3092 2001l88-41M3185 2054l56 47"/>
<path id="c255" d="M3077 2123l21-3M3075 2178l52 53"/>
<path id="c256" d="M3108 2136l65 36"/>
<path id="c257" d="M3055 2135l60-33M3114 2184l31-13M3097 2122l39 32"/>
<path id="c258" d="M3095 2258l30-25"/>
<path id="c259" d="M3175 2492l-29-45M3203 2481l1-16"/>
<path id="c25a" d="M3146 2447l27-10"/>
<path id="c25b" d="M3108 2517l103-39"/>
<path id="c25c" d="M3320 1625l12 9"/>
<path id="c25d" d="M3330 1655l26-16M3315 1686l34-30"/>
<path id="c25e" d="M3303 1671l38-103"/>
<path id="c25f" d="M3327 1675l19 15M3343 1726l13-10M3318 1726l14 15M3364 1789l-18-15"/>
<path id="c260" d="M3325 1728l10 16"/>
<path id="c261" d="M3319 1694l29-14M3320 1697l11 18M3321 1759l13-23M3337 1747l15-12"/>
<path id="c262" d="M3282 1833l85-46M3231 1828l36-76l36-81"/>
<path id="c263" d="M3297 1893l0 70M3300 1936l80-18M3301 1897l-1 58M3257 1846l31 45M3279 1891l-1 39"/>
<path id="c264" d="M3265 1872l46-9M3311 1850l6 21M3247 1892l5 102M3218 1911l34-18M3294 1827l21 21"/>
<path id="c265" d="M3331 1793l44 58M3262 1875l3 21M3205 1901l98 3M3298 1850l15-12M3322 1873l14 18M3331 1845l10 19M3278 1930l37-6"/>
<path id="c266" d="M3200 1877l82-44M3241 1888l73 9l90-36"/>
<path id="c267" d="M3250 2020l51-12M3322 2009l11 38M3343 2045l22-18"/>
<path id="c268" d="M3280 2048l40-15M3329 2056l52-23"/>
<path id="c269" d="M3287 1989l87-27"/>
<path id="c26a" d="M3200 2086l66 28"/>
<path id="c26b" d="M3333 2171l9-15"/>
<path id="c26c" d="M3266 2135l11-32M3342 2145l-11 49"/>
<path id="c26d" d="M3241 2101l47 56l129 39M3266 2114l63 23"/>
<path id="c26e" d="M3273 2524l9-18"/>
<path id="c26f" d="M3211 2478l103 52"/>
<path id="c270" d="M3200 2510l129 25"/>
<path id="c271" d="M3449 1376l27-12"/>
<path id="c272" d="M3446 1390l15-17"/>
<path id="c273" d="M3457 1367l55 65"/>
<path id="c274" d="M3374 1528l12-3M3462 1487l19-34"/>
<path id="c275" d="M3433 1486l34-33M3418 1548l48-48M3422 1462l27 54M3465 1513l19 22M3464 1489l33 21M3408 1519l13 21"/>
<path id="c276" d="M3419 1420l23-25M3417 1476l60-61M3374 1521l57-34M3448 1451l36 63M3435 1386l40 48M3466 1420l12 8M3375 1509l33 10"/>
<path id="c277" d="M3341 1568l52-87l51-93"/>
<path id="c278" d="M3382 1531l33 47M3421 1585l9 56M3412 1532l60 61M3473 1514l20 126M3454 1578l-18 30"/>
<path id="c279" d="M3424 1680l34-34M3360 1617l34 55M3368 1557l52 112M3448 1614l76-56M3448 1681l38-28"/>
<path id="c27a" d="M3360 1591l52-34M3427 1592l53-69M3399 1621l96-53M3381 1676l64-47M3444 1660l2 17M3481 1656l16 17"/>
<path id="c27b" d="M3387 1825l65-55M3346 1679l75 95M3427 1778l33 30M3399 1660l33 99M3465 1733l34 42"/>
<path id="c27c" d="M3361 1758l44 78M3434 1760l32 37M3452 1721l19-12M3450 1775l59-28M3443 1732l-5 18M3504 1693l-13 19M3374 1771l22 34M3432 1790l35-1M3465 1786l31 36M3479 1754l14 51M3390 1810l-23 9M3477 1815l1-25"/>
<path id="c27d" d="M3345 1737l106-71M3329 1799l66-51M3398 1744l59-17M3447 1671l19 25M3432 1750l56-28M3455 1770l21 27M3444 1667l22 65M3475 1789l17-11"/>
<path id="c27e" d="M3367 1787l70-20l78-26M3457 1825l73-41"/>
<path id="c27f" d="M3391 1903l65-82M3388 1826l13 17M3397 1884l-51-8M3365 1846l42 59M3419 1842l24 50M3350 1885l21 115M3424 1888l4 53M3449 1843l28-23M3444 1939l100-58M3463 1867l25 52M3467 1863l24-11M3484 1855l-1 18M3387 1934l19 24M3427 1950l0 14M3423 1962l21-11"/>
<path id="c280" d="M3366 1848l21-23M3367 1872l40-35M3363 1843l48 47M3435 1851l17 20M3386 1847l26-26M3404 1863l22 15M3300 1889l160-70M3414 1898l38-23M3378 1962l76-53M3441 1898l50-43M3492 1926l15 43M3402 1945l20-12M3393 1947l19-13M3399 1862l-9-52"/>
<path id="c281" d="M3408 1860l29 20M3405 1865l15-10M3421 1899l37-26M3446 1890l76-31M3477 1833l-9 37M3407 1907l-49 19M3413 1810l5 26M3498 1840l-1 30M3396 1957l33-24"/>
<path id="c282" d="M3404 1861l96-41M3367 1900l91-10l80-17"/>
<path id="c283" d="M3380 1898l37 133M3431 1946l3 79M3379 2062l44-33M3410 2043l77-59M3419 2036l22-14M3381 1976l27-11"/>
<path id="c284" d="M3432 2016l21-11M3451 1988l28-25M3441 1954l12 70M3387 1980l23-17"/>
<path id="c285" d="M3348 2008l108-45M3416 2032l-10 16M3374 2031l-8 18M3412 2036l0 16M3448 2017l-27 35M3481 2058l-19 25l-12-14"/>
<path id="c286" d="M3431 1996l48 68"/>
<path id="c287" d="M3441 2211l20-26M3414 2188l-9 51"/>
<path id="c288" d="M3417 2196l83 51M3329 2137l66 34l62 43l61 47"/>
<path id="c289" d="M3453 2274l21-13"/>
<path id="c28a" d="M3463 2224l-10 50M3493 2243l-10 32"/>
<path id="c28b" d="M3459 2505l-7-16"/>
<path id="c28c" d="M3452 2489l28 6"/>
<path id="c28d" d="M3411 2519l89-15M3412 2515l84-18"/>
<path id="c28e" d="M3314 2530l97-11M3329 2535l83-20"/>
<path id="c28f" d="M3486 1372l30-32M3604 1356l69 5M3609 1369l14 36M3546 1323l8 19M3521 1322l6 18"/>
<path id="c290" d="M3541 1365l57-39M3509 1349l15 14M3552 1371l17-20M3497 1366l47 27M3535 1356l27 17M3593 1349l26 27M3611 1368l16-6M3532 1350l21-10M3543 1316l10 17M3524 1332l4 15M3529 1327l12-9M3544 1319l4 15M3627 1272l-5 31"/>
<path id="c291" d="M3553 1323l48 36M3590 1302l30 15M3593 1305l37 62M3525 1317l13 25M3532 1330l15-11M3545 1355l12-14"/>
<path id="c292" d="M3596 1429l13-20M3555 1483l50 39M3481 1560l66-48M3587 1516l26-11M3508 1495l30 43M3542 1498l30 31"/>
<path id="c293" d="M3461 1449l88-75M3491 1522l71-59M3566 1517l57-67M3566 1375l53 57"/>
<path id="c294" d="M3509 1439l113-76M3502 1454l54 58M3549 1397l98 110"/>
<path id="c295" d="M3561 1559l75-17M3493 1641l16 28M3623 1525l2 61M3550 1652l49 10M3530 1640l15 61M3607 1660l55-19M3520 1577l45 37"/>
<path id="c296" d="M3575 1596l34 85M3596 1627l88-39M3608 1663l-3 19M3606 1678l20-5"/>
<path id="c297" d="M3448 1652l111-58M3568 1598l51-13M3459 1680l154-57M3571 1658l48-3M3533 1593l26 57M3616 1558l33 92M3563 1584l35 14"/>
<path id="c298" d="M3494 1720l89-20M3481 1820l83-17M3569 1728l4 49M3599 1754l-18-24l19 10"/>
<path id="c299" d="M3514 1745l18-14M3504 1680l15 62M3586 1661l-7 42M3514 1744l0 25M3629 1699l17-9"/>
<path id="c29a" d="M3520 1705l11 54M3534 1787l-5-51M3636 1736l-7-37"/>
<path id="c29b" d="M3515 1741l71-18M3530 1784l82-34"/>
<path id="c29c" d="M3526 1857l56-25M3512 1845l-3 36M3570 1802l6 61M3521 1924l23 28M3501 1851l23 0M3598 1867l-10 28"/>
<path id="c29d" d="M3502 1782l46 94M3550 1877l26-9M3487 1952l62-22M3549 1952l-27 11M3512 1846l-8 25M3599 1884l25-9l9-36"/>
<path id="c29e" d="M3510 1872l24 36M3588 1895l-27 4M3581 1953l-6-27"/>
<path id="c29f" d="M3538 1873l90-5M3586 1829l100 3M3586 1829l25 102"/>
<path id="c2a0" d="M3533 1987l18 47"/>
<path id="c2a1" d="M3479 2064l55 60M3611 1931l-90 65"/>
<path id="c2a2" d="M3598 2225l-26 28M3567 2179l-24 13"/>
<path id="c2a3" d="M3615 2213l-27 16M3547 2147l33-25"/>
<path id="c2a4" d="M3534 2124l37 68l40 61"/>
<path id="c2a5" d="M3618 2254l-33 25M3655 2318l-35 26M3517 2256l-14 33"/>
<path id="c2a6" d="M3598 2282l67 92M3646 2285l-55 29M3654 2352l-43 13"/>
<path id="c2a7" d="M3599 2233l-25 27M3579 2299l-14 35"/>
<path id="c2a8" d="M3500 2247l86 57M3518 2261l68 43"/>
<path id="c2a9" d="M3484 2455l99 18"/>
<path id="c2aa" d="M3593 2503l28 1"/>
<path id="c2ab" d="M3618 2354l32 73M3524 2465l29 87M3576 2501l-37 0M3534 2485l1 54"/>
<path id="c2ac" d="M3496 2497l84-25l83-26"/>
<path id="c2ad" d="M3598 2512l4 50M3560 2562l14-7M3586 2548l19 4M3597 2514l5 50"/>
<path id="c2ae" d="M3511 2525l34-2M3549 2525l50 6M3535 2539l24 7"/>
<path id="c2af" d="M3689 1272l33-31M3757 1209l14 20"/>
<path id="c2b0" d="M3650 1260l35-15M3718 1221l4 19M3660 1259l50-13M3712 1243l56-10"/>
<path id="c2b1" d="M3726 1221l-8 35"/>
<path id="c2b2" d="M3586 1328l140-29M3695 1358l63-27M3650 1323l38 70M3729 1419l24-43M3745 1365l9 16M3743 1396l39-16M3741 1316l15 2M3746 1306l13 22M3748 1260l-8 55"/>
<path id="c2b3" d="M3713 1384l46-29M3727 1391l28-17M3622 1326l43 70M3732 1305l31 57M3607 1345l81 100M3756 1343l21 48M3660 1381l-16 9M3754 1322l21-10M3628 1297l31-6M3690 1303l20-12M3717 1287l86-3M3716 1299l-25 27"/>
<path id="c2b4" d="M3678 1321l38 67M3707 1302l34 73M3754 1340l33-27M3752 1336l23-4M3722 1315l34 28M3666 1291l43-17M3637 1325l58-14M3672 1250l-16 82M3691 1260l-4 69M3713 1264l75-2"/>
<path id="c2b5" d="M3601 1430l83-53M3652 1523l16-31M3690 1522l41-29M3725 1553l65-66M3691 1449l99 64M3712 1416l46 25M3683 1510l19 4M3747 1429l34-16M3705 1458l27-19"/>
<path id="c2b6" d="M3606 1452l90 78M3630 1541l51-30M3748 1434l47 49M3748 1459l25-29M3746 1488l23 15M3721 1467l47 35M3763 1479l25 18"/>
<path id="c2b7" d="M3613 1487l93-92M3669 1489l25-28M3731 1487l25-69M3704 1501l36 49M3746 1429l61 44M3693 1528l-26 17M3751 1500l6-10M3735 1465l49 21M3754 1477l11-30M3734 1461l21-34"/>
<path id="c2b8" d="M3653 1517l14 102"/>
<path id="c2b9" d="M3618 1579l101-11M3696 1510l1 85M3724 1541l10 37M3668 1532l-22 18M3730 1564l20 8"/>
<path id="c2ba" d="M3764 1681l1 34M3681 1713l10 39"/>
<path id="c2bb" d="M3654 1707l-20-42M3685 1835l8-48l-35 2"/>
<path id="c2bc" d="M3765 1715l-20-5M3691 1752l15 7"/>
<path id="c2bd" d="M3586 1723l108-31l110-21M3612 1750l80-39l74-40"/>
<path id="c2be" d="M3770 1851l-14-30"/>
<path id="c2bf" d="M3675 1857l-14-36M3650 1833l-11 52"/>
<path id="c2c0" d="M3628 1868l86-17l77 0M3686 1832l105 9"/>
<path id="c2c1" d="M3701 2282l-39 29M3717 2364l-1 25M3734 2297l-17 35"/>
<path id="c2c2" d="M3636 2227l50 89M3730 2364l-36 17M3724 2314l55 58"/>
<path id="c2c3" d="M3602 2212l94 135M3719 2300l-61 70M3744 2360l38 20"/>
<path id="c2c4" d="M3731 2371l-40 44M3729 2396l15 32"/>
<path id="c2c5" d="M3671 2358l36 62M3702 2367l-65 34M3652 2449l-13-16M3707 2413l13 12"/>
<path id="c2c6" d="M3705 2407l-52 36M3695 2401l25 16M3767 2356l-65 91"/>
<path id="c2c7" d="M3663 2446l103-78"/>
<path id="c2c8" d="M3877 1099l27-16M3887 1096l22 35"/>
<path id="c2c9" d="M3885 1109l42-40M3900 1071l18 26"/>
<path id="c2ca" d="M3789 1183l36 85M3868 1134l39-3M3789 1242l-14 32M3882 1191l28 18"/>
<path id="c2cb" d="M3736 1263l105-43"/>
<path id="c2cc" d="M3808 1209l69-73M3812 1145l47 41M3849 1113l43 36M3866 1199l74-15M3854 1234l69-13M3862 1102l29 124"/>
<path id="c2cd" d="M3758 1380l71-46M3822 1388l23-22M3789 1262l-9 46M3855 1396l33-54M3854 1358l29 2M3878 1329l33 39"/>
<path id="c2ce" d="M3810 1366l20 18M3810 1282l20-11M3836 1256l-10 19M3870 1395l43-52"/>
<path id="c2cf" d="M3829 1384l18-10M3802 1377l25 45"/>
<path id="c2d0" d="M3845 1433l9-33M3835 1413l75 30M3849 1439l68 62"/>
<path id="c2d1" d="M3768 1472l40-34M3761 1369l71 95M3817 1496l86-63M3788 1589l131-99M3850 1482l-28 22M3909 1486l-16 11"/>
<path id="c2d2" d="M3778 1525l18-22M3781 1503l5 14M3820 1441l-22 35l-29 14M3863 1463l0-26"/>
<path id="c2d3" d="M3817 1440l80 39"/>
<path id="c2d4" d="M3837 1569l20 25M3884 1628l17 5M3863 1663l29-9M3885 1674l40 2"/>
<path id="c2d5" d="M3858 1593l40-10M3791 1695l64-33M3926 1626l-28 87"/>
<path id="c2d6" d="M3841 1592l79-49M3864 1519l44 73M3800 1602l13 44M3852 1578l8 53M3900 1598l16 27M3804 1655l43-32M3866 1629l13 71M3899 1644l13 39"/>
<path id="c2d7" d="M3888 1712l28-7M3794 1682l1 48M3867 1809l26 13"/>
<path id="c2d8" d="M3818 1671l25 37M3900 1703l19 1M3870 1685l26 38M3833 1837l42-52M3867 1774l3 27M3866 1811l91-46"/>
<path id="c2d9" d="M3783 1725l31-23M3897 1762l45 56"/>
<path id="c2da" d="M3800 1860l32-22M3812 1827l11 27M3854 1873l40-66M3829 1837l50 32"/>
<path id="c2db" d="M3797 1843l50 38"/>
<path id="c2dc" d="M3855 2302l25 32"/>
<path id="c2dd" d="M3889 2276l6 21"/>
<path id="c2de" d="M3817 2330l103-77"/>
<path id="c2df" d="M3973 1013l16 22M4014 972l7 20M3994 986l32-4"/>
<path id="c2e0" d="M3929 1067l44-58M3937 1094l36-49M4006 1086l6-3M3924 1059l42 28M3954 1040l32 35M4000 1013l18 16M3955 1065l44 59M4014 1091l26 49M4018 1004l48 80M4024 1024l16-1M3989 1002l25-15M3993 1020l22-8"/>
<path id="c2e1" d="M3907 1131l106-40M4002 1037l37-19M3999 1078l114-49M4002 1041l29 45M4008 1028l25-5M4013 1008l20-2M4032 1024l20-7M3996 984l16 25"/>
<path id="c2e2" d="M3994 1126l45-1M3949 1180l92-30M4020 1122l37 13M4022 1138l3 20M4018 1090l32 100"/>
<path id="c2e3" d="M4028 1149l60 15M3937 1162l-27 28"/>
<path id="c2e4" d="M3889 1165l67-17M3918 1137l10 80M3921 1084l44 114"/>
<path id="c2e5" d="M4022 1297l44-15"/>
<path id="c2e6" d="M4008 1385l19 16M4034 1277l-26-19"/>
<path id="c2e7" d="M4023 1286l-13 128"/>
<path id="c2e8" d="M3902 1512l85-41M3996 1471l64-12M3914 1559l86-42M4006 1519l64 1"/>
<path id="c2e9" d="M3925 1429l51-54M3918 1456l88-32M3944 1489l41 61M3960 1421l33 80M4001 1541l37-18"/>
<path id="c2ea" d="M4026 1444l14-13M3988 1428l21 14M4049 1437l10 27"/>
<path id="c2eb" d="M3897 1479l74 38"/>
<path id="c2ec" d="M3986 1555l6 19M4003 1510l38 88M3924 1579l10 34M3983 1562l-2 46M3980 1610l22 32M4028 1641l31 36M3954 1617l-17 26"/>
<path id="c2ed" d="M3989 1595l-7 34M4044 1631l19-14"/>
<path id="c2ee" d="M3936 1596l71-45M3900 1515l40 79M3981 1627l67-14M4038 1581l-3 46M4039 1571l-20 43M4054 1583l-10 48"/>
<path id="c2ef" d="M3971 1517l65 55"/>
<path id="c2f0" d="M3997 1733l29-6M3904 1821l127-5"/>
<path id="c2f1" d="M4010 1720l12 41M4015 1725l41 23"/>
<path id="c2f2" d="M3924 1705l17 7M4001 1796l24-31M3930 1753l39 52M3971 1751l65 59M4031 1785l9 24M3984 1796l18 25"/>
<path id="c2f3" d="M3932 1813l13 18"/>
<path id="c2f4" d="M3980 2171l27 7M4000 2165l-12 95M4021 2196l-3 64M3932 2250l-19-33"/>
<path id="c2f5" d="M3923 2205l112 39M3965 2185l-15 74"/>
<path id="c2f6" d="M4006 2229l94-15"/>
<path id="c2f7" d="M3948 2252l24 10"/>
<path id="c2f8" d="M3920 2253l86-24"/>
<path id="c2f9" d="M4074 1112l52-45M4052 991l33 53M4084 964l23 33M4067 1022l30-7"/>
<path id="c2fa" d="M4045 1017l43-41M4121 1092l15 33"/>
<path id="c2fb" d="M4094 1134l35-21M4069 1247l-16-43"/>
<path id="c2fc" d="M4073 1100l21 92M4053 1204l28-24"/>
<path id="c2fd" d="M4100 1221l-77 65"/>
<path id="c2fe" d="M4061 1535l24-47"/>
<path id="c2ff" d="M4050 1459l66 49M4078 1417l-2 22"/>
<path id="c300" d="M4076 1439l-26 2"/>
<path id="c301" d="M4023 1414l98 8l107 5"/>
<path id="c302" d="M4045 1509l33 63M4058 1556l26 57M4132 1584l37 58"/>
<path id="c303" d="M4159 1680l55-18"/>
<path id="c304" d="M4058 1602l49-31M4042 1651l64-53M4096 1697l73-67M4060 1583l65 88M4177 1629l21 77"/>
<path id="c305" d="M4036 1572l64 48l77 103"/>
<path id="c306" d="M4079 1706l13-6M4092 1751l25 64M4151 1729l53 1M4156 1737l21 27"/>
<path id="c307" d="M4061 1681l14 20M4195 1712l5 17M4128 1738l32 68M4186 1773l23 28M4169 1743l14 20"/>
<path id="c308" d="M4133 1722l123-39M4060 1748l110-3M4094 1792l88-11M4038 1805l57 21M4181 1732l23 57M4099 1785l28 11M4169 1787l18-6M4174 1765l22 31"/>
<path id="c309" d="M4105 2216l-10 25"/>
<path id="c30a" d="M4100 2214l103 39"/>
<path id="c30b" d="M4268 1386l29-10M4288 1369l64-54M4290 1401l25-25M4298 1356l14 18"/>
<path id="c30c" d="M4278 1354l12 44M4290 1332l19 17M4328 1291l17 19M4312 1393l17-29M4272 1388l47-25"/>
<path id="c30d" d="M4272 1407l56-31M4308 1391l16-25"/>
<path id="c30e" d="M4228 1427l65-90"/>
<path id="c30f" d="M4254 1486l50-46M4241 1454l33 33M4244 1419l86 67M4304 1414l28 35M4255 1415l-17-24"/>
<path id="c310" d="M4298 1449l59-39M4311 1482l28-9M4286 1431l55 62M4266 1428l38-18M4311 1420l8-18"/>
<path id="c311" d="M4254 1551l80-58M4277 1490l34 76M4246 1402l9 13"/>
<path id="c312" d="M4280 1559l29-6M4231 1582l23 103"/>
<path id="c313" d="M4232 1534l17 40M4180 1630l97-69M4214 1662l64-60M4278 1549l15 35M4331 1552l16 117"/>
<path id="c314" d="M4286 1561l17-6M4294 1589l19 26M4297 1535l11 26M4281 1653l78-26M4295 1561l1 99M4296 1664l8 19"/>
<path id="c315" d="M4252 1687l2 25M4174 1772l59 3M4202 1756l11 26"/>
<path id="c316" d="M4227 1723l12 27"/>
<path id="c317" d="M4343 2189l-34 19"/>
<path id="c318" d="M4203 2253l79-47l75-43"/>
<path id="c319" d="M4466 1230l5 31"/>
<path id="c31a" d="M4360 1400l60-3M4414 1394l23-1M4432 1402l31-15M4440 1409l29-22M4428 1334l8 43"/>
<path id="c31b" d="M4353 1315l93-7M4396 1364l40 10M4398 1320l17 88M4357 1382l9 18M4432 1261l5 15M4445 1304l34 121M4429 1349l10 33"/>
<path id="c31c" d="M4351 1318l16 76M4410 1281l29 121M4426 1379l82-26M4423 1373l26 52M4426 1270l15 30M4454 1254l26 91M4442 1384l29-27"/>
<path id="c31d" d="M4412 1479l21 70M4400 1398l64 150M4457 1443l36-10M4451 1437l38 82"/>
<path id="c31e" d="M4343 1474l55-40M4431 1438l37 2M4409 1514l59 1M4438 1415l23 20M4432 1409l42-10"/>
<path id="c31f" d="M4405 1404l17-2M4296 1540l98-52M4304 1556l102-40M4373 1511l17 52"/>
<path id="c320" d="M4341 1542l6 18M4432 1595l42-4M4334 1682l89-33M4430 1540l17 94M4469 1589l13 22M4324 1579l52 17M4415 1680l20-37"/>
<path id="c321" d="M4410 1555l49-2M4311 1587l90-29"/>
<path id="c322" d="M4388 1552l4 121M4451 1524l22 39M4430 1630l10 30M4457 1553l32 77"/>
<path id="c323" d="M4357 1620l77 80"/>
<path id="c324" d="M4450 1731l-37 17"/>
<path id="c325" d="M4468 1769l22-1"/>
<path id="c326" d="M4434 1700l51 103"/>
<path id="c327" d="M4339 2173l4 16"/>
<path id="c328" d="M4380 2163l-21-39"/>
<path id="c329" d="M4357 2163l128 0"/>
<path id="c32a" d="M4596 1214l2 29M4584 1256l20-20"/>
<path id="c32b" d="M4433 1299l109-23M4441 1333l110-26M4481 1347l11 41M4577 1264l-23 9"/>
<path id="c32c" d="M4572 1296l30-37M4507 1244l34 45M4512 1354l38-7M4497 1266l17 20M4532 1272l21 71M4601 1284l-1 26M4593 1315l21-24"/>
<path id="c32d" d="M4478 1270l70-11M4552 1233l29 71M4604 1288l20-22"/>
<path id="c32e" d="M4456 1423l93 144"/>
<path id="c32f" d="M4457 1480l54-4"/>
<path id="c330" d="M4451 1518l72-8"/>
<path id="c331" d="M4491 1526l42 66M4480 1574l19-10"/>
<path id="c332" d="M4493 1639l7 43"/>
<path id="c333" d="M4454 1560l79-4M4433 1631l118-20M4528 1582l7 51M4501 1633l19 52"/>
<path id="c334" d="M4537 1671l107-8"/>
<path id="c335" d="M4490 1768l17-34"/>
<path id="c336" d="M4493 1680l19 3M4494 1818l26-7"/>
<path id="c337" d="M4571 1946l23-20l17 27"/>
<path id="c338" d="M4520 1811l15 24"/>
<path id="c339" d="M4507 1839l-44 13"/>
<path id="c33a" d="M4485 1803l42 68l35 60"/>
<path id="c33b" d="M4612 2037l-41 54M4582 1963l-14 8"/>
<path id="c33c" d="M4562 1931l65 103"/>
<path id="c33d" d="M4613 2132l-21 43"/>
<path id="c33e" d="M4485 2163l116 13"/>
<path id="c33f" d="M4625 1660l2-39"/>
<path id="c340" d="M4698 1651l14 51"/>
<path id="c341" d="M4652 1656l-10-20"/>
<path id="c342" d="M4644 1663l98-18"/>
<path id="c343" d="M4591 2074l87 40"/>
<path id="c344" d="M4656 2045l67 24M4645 2070l23 0"/>
<path id="c345" d="M4652 2034l17-8M4625 2031l37-8"/>
<path id="c346" d="M4627 2034l38 77"/>
<path id="c347" d="M4657 2096l129-39"/>
<path id="c348" d="M4688 2150l-35 29M4688 2098l-22 35"/>
<path id="c349" d="M4599 2133l56 30M4676 2173l-36 14"/>
<path id="c34a" d="M4642 2106l-23 35M4714 2119l7 8M4702 2123l-29 42"/>
<path id="c34b" d="M4708 2186l63 44M4734 2204l-19 31"/>
<path id="c34c" d="M4786 2057l74-13"/>
<path id="c34d" d="M4771 2230l66 46l77-26M4821 2265l-15 17M4845 2273l-1 45"/>
<path id="c34e" d="M4860 2044l80-13l103-25M4952 2028l0 27M4990 2019l-12-47l38-9"/>
<path id="c34f" d="M5029 2271l-15 41"/>
<path id="c350" d="M4966 2246l67 43M5014 2312l20 13"/>
<path id="c351" d="M4932 2286l47 22M4979 2243l-10 51M4968 2295l-12 24M5024 2271l19 9"/>
<path id="c352" d="M4914 2250l103 26M4935 2255l4 52M4966 2288l51 116"/>
<path id="c353" d="M5017 2404l26 116M5030 2464l-35-4M5043 2519l-29-4"/>
<path id="c354" d="M5044 2551l-15-29M5043 2520l-39 77"/>
<path id="c355" d="M5043 2006l38-103l77-64M5087 1898l-7-18"/>
<path id="c356" d="M5137 2234l14-10"/>
<path id="c357" d="M5017 2276l103-13l51 38M5131 2271l6-37"/>
<path id="c358" d="M5017 2404l51 90"/>
<path id="c359" d="M5068 2494l52 103l51 103M5092 2542l-48 9M5104 2565l-20 18M5120 2597l80 23M5175 2613l-12 38l-37-10"/>
<path id="c35a" d="M5178 2711l-17 18"/>
<path id="c35b" d="M5200 2620l-30 70"/>
<path id="c35c" d="M5171 2700l57 96"/>
<path id="c35d" d="M5228 2796l80 81l16 64M5321 2931l-45 13l-4-18"/>
<path id="c35e" d="M5324 2941l-56 96"/>
<path id="c35f" d="M5308 2877l41-17"/>
<linearGradient id="pl" x1="0" x2="1" y1="0" y2="0">
<stop offset="0.00" stop-color="#f0f32c"/>
<stop offset="0.10" stop-color="#ecd838"/>
<stop offset="0.20" stop-color="#e6c040"/>
<stop offset="0.30" stop-color="#e0a24e"/>
<stop offset="0.40" stop-color="#dc8858"/>
<stop offset="0.45" stop-color="#d87068"/>
<stop offset="0.50" stop-color="#d05878"/>
<stop offset="0.55" stop-color="#c84880"/>
<stop offset="0.60" stop-color="#b04088"/>
<stop offset="0.70" stop-color="#803088"/>
<stop offset="0.80" stop-color="#582888"/>
<stop offset="0.90" stop-color="#321a88"/>
<stop offset="1.00" stop-color="#201088"/>
</linearGradient>
</defs>
<g transform="translate(0 0)">
<g transform="scale(.1)" fill="none" stroke-linecap="round">
<defs><g id="P0">
<g stroke="#8d0ca4"><use href="#ca9"/><use href="#c24c"/><use href="#c27a"/></g>
<g stroke="#9b179e"><use href="#c1d"/><use href="#c37"/><use href="#c4d"/><use href="#c71"/><use href="#ca6"/><use href="#c141"/><use href="#c1b6"/><use href="#c1c1"/><use href="#c1c4"/><use href="#c1ee"/><use href="#c25d"/><use href="#c279"/><use href="#c27d"/><use href="#c297"/><use href="#c2ee"/><use href="#c333"/></g>
<g stroke="#a82396"><use href="#c3"/><use href="#c7"/><use href="#ca"/><use href="#cc"/><use href="#cd"/><use href="#c14"/><use href="#c17"/><use href="#c1a"/><use href="#c25"/><use href="#c31"/><use href="#c34"/><use href="#c50"/><use href="#c56"/><use href="#c58"/><use href="#c60"/><use href="#c6e"/><use href="#c76"/><use href="#c79"/><use href="#c83"/><use href="#c94"/><use href="#c9b"/><use href="#ca3"/><use href="#cb5"/><use href="#cb9"/><use href="#cc1"/><use href="#ce4"/><use href="#cef"/><use href="#cf3"/><use href="#c119"/><use href="#c121"/><use href="#c129"/><use href="#c14c"/><use href="#c156"/><use href="#c15d"/><use href="#c161"/><use href="#c16c"/><use href="#c170"/><use href="#c184"/><use href="#c188"/><use href="#c18b"/><use href="#c1a9"/><use href="#c1ac"/><use href="#c1b3"/><use href="#c1b9"/><use href="#c1bd"/><use href="#c1cf"/><use href="#c1d3"/><use href="#c1e8"/><use href="#c1f4"/><use href="#c210"/><use href="#c213"/><use href="#c21d"/><use href="#c22f"/><use href="#c232"/><use href="#c235"/><use href="#c239"/><use href="#c23d"/><use href="#c253"/><use href="#c261"/><use href="#c265"/><use href="#c269"/><use href="#c275"/><use href="#c276"/><use href="#c28a"/><use href="#c291"/><use href="#c29a"/><use href="#c29e"/><use href="#c2a0"/><use href="#c2a3"/><use href="#c2b0"/><use href="#c2b1"/><use href="#c2bc"/><use href="#c2be"/><use href="#c2bf"/><use href="#c2d1"/><use href="#c2d6"/><use href="#c2db"/><use href="#c2e9"/><use href="#c2ea"/><use href="#c2ed"/><use href="#c2f3"/><use href="#c300"/><use href="#c311"/><use href="#c314"/></g>
<g stroke="#b42f8c"><use href="#c1"/><use href="#c4"/><use href="#c9"/><use href="#ce"/><use href="#c10"/><use href="#c11"/><use href="#c13"/><use href="#c19"/><use href="#c1c"/><use href="#c24"/><use href="#c27"/><use href="#c2b"/><use href="#c2e"/><use href="#c30"/><use href="#c3b"/><use href="#c42"/><use href="#c43"/><use href="#c47"/><use href="#c4a"/><use href="#c53"/><use href="#c5c"/><use href="#c64"/><use href="#c6a"/><use href="#c70"/><use href="#c74"/><use href="#c77"/><use href="#c80"/><use href="#c8b"/><use href="#c8f"/><use href="#c98"/><use href="#c9f"/><use href="#ca1"/><use href="#ca2"/><use href="#ca4"/><use href="#ca8"/><use href="#cab"/><use href="#cb0"/><use href="#cbd"/><use href="#cd0"/><use href="#cd7"/><use href="#cdf"/><use href="#ce8"/><use href="#ceb"/><use href="#cf2"/><use href="#cf7"/><use href="#c10e"/><use href="#c116"/><use href="#c11c"/><use href="#c124"/><use href="#c125"/><use href="#c134"/><use href="#c136"/><use href="#c138"/><use href="#c139"/><use href="#c13b"/><use href="#c13d"/><use href="#c148"/><use href="#c152"/><use href="#c159"/><use href="#c187"/><use href="#c18d"/><use href="#c18e"/><use href="#c192"/><use href="#c195"/><use href="#c196"/><use href="#c19a"/><use href="#c19d"/><use href="#c19e"/><use href="#c1a8"/><use href="#c1b0"/><use href="#c1bc"/><use href="#c1bf"/><use href="#c1c0"/><use href="#c1da"/><use href="#c1dc"/><use href="#c1dd"/><use href="#c1e0"/><use href="#c1e1"/><use href="#c1e4"/><use href="#c1e7"/><use href="#c1f1"/><use href="#c1f3"/><use href="#c1f8"/><use href="#c1fc"/><use href="#c200"/><use href="#c203"/><use href="#c20d"/><use href="#c20f"/><use href="#c212"/><use href="#c216"/><use href="#c219"/><use href="#c21a"/><use href="#c221"/><use href="#c22e"/><use href="#c238"/><use href="#c23f"/><use href="#c243"/><use href="#c24f"/><use href="#c252"/><use href="#c256"/><use href="#c257"/><use href="#c25a"/><use href="#c260"/><use href="#c268"/><use href="#c26e"/><use href="#c272"/><use href="#c273"/><use href="#c278"/><use href="#c27c"/><use href="#c281"/><use href="#c284"/><use href="#c285"/><use href="#c289"/><use href="#c290"/><use href="#c294"/><use href="#c299"/><use href="#c2a7"/><use href="#c2ab"/><use href="#c2ae"/><use href="#c2b4"/><use href="#c2b6"/><use href="#c2b7"/><use href="#c2b9"/><use href="#c2c3"/><use href="#c2cb"/><use href="#c2ce"/><use href="#c2cf"/><use href="#c2d5"/><use href="#c2d9"/><use href="#c2da"/><use href="#c2dc"/><use href="#c2f1"/><use href="#c2f2"/><use href="#c2f5"/><use href="#c2f7"/><use href="#c2ff"/><use href="#c304"/><use href="#c30d"/><use href="#c31f"/><use href="#c321"/><use href="#c322"/><use href="#c325"/><use href="#c32f"/><use href="#c330"/><use href="#c332"/><use href="#c336"/><use href="#c338"/><use href="#c339"/><use href="#c33d"/><use href="#c341"/><use href="#c345"/><use href="#c34a"/></g>
<g stroke="#c03b82"><use href="#c6"/><use href="#c8"/><use href="#c12"/><use href="#c15"/><use href="#c16"/><use href="#c1b"/><use href="#c1f"/><use href="#c20"/><use href="#c26"/><use href="#c28"/><use href="#c2c"/><use href="#c2d"/><use href="#c2f"/><use href="#c33"/><use href="#c36"/><use href="#c3a"/><use href="#c3d"/><use href="#c3e"/><use href="#c3f"/><use href="#c41"/><use href="#c46"/><use href="#c49"/><use href="#c4c"/><use href="#c4f"/><use href="#c51"/><use href="#c52"/><use href="#c55"/><use href="#c57"/><use href="#c5b"/><use href="#c5f"/><use href="#c63"/><use href="#c68"/><use href="#c6d"/><use href="#c73"/><use href="#c7d"/><use href="#c7f"/><use href="#c86"/><use href="#c87"/><use href="#c91"/><use href="#c97"/><use href="#c99"/><use href="#c9a"/><use href="#c9d"/><use href="#c9e"/><use href="#ca5"/><use href="#ca7"/><use href="#cb1"/><use href="#cb4"/><use href="#cb7"/><use href="#cb8"/><use href="#cbc"/><use href="#cc0"/><use href="#cc3"/><use href="#cc5"/><use href="#ccf"/><use href="#cd3"/><use href="#cd4"/><use href="#cdb"/><use href="#cdd"/><use href="#ce0"/><use href="#ce7"/><use href="#cee"/><use href="#cf6"/><use href="#cfb"/><use href="#cff"/><use href="#c104"/><use href="#c105"/><use href="#c118"/><use href="#c130"/><use href="#c131"/><use href="#c132"/><use href="#c133"/><use href="#c135"/><use href="#c13c"/><use href="#c144"/><use href="#c147"/><use href="#c14b"/><use href="#c155"/><use href="#c158"/><use href="#c15c"/><use href="#c160"/><use href="#c163"/><use href="#c164"/><use href="#c166"/><use href="#c167"/><use href="#c168"/><use href="#c16b"/><use href="#c16f"/><use href="#c173"/><use href="#c17f"/><use href="#c180"/><use href="#c183"/><use href="#c186"/><use href="#c18a"/><use href="#c191"/><use href="#c199"/><use href="#c19c"/><use href="#c1aa"/><use href="#c1ab"/><use href="#c1b5"/><use href="#c1b8"/><use href="#c1bb"/><use href="#c1c3"/><use href="#c1ca"/><use href="#c1cb"/><use href="#c1ce"/><use href="#c1d2"/><use href="#c1d6"/><use href="#c1d7"/><use href="#c1d8"/><use href="#c1e2"/><use href="#c1e3"/><use href="#c1ed"/><use href="#c1f0"/><use href="#c1f7"/><use href="#c1fb"/><use href="#c1ff"/><use href="#c202"/><use href="#c206"/><use href="#c20a"/><use href="#c20c"/><use href="#c211"/><use href="#c214"/><use href="#c215"/><use href="#c220"/><use href="#c22c"/><use href="#c230"/><use href="#c231"/><use href="#c234"/><use href="#c23c"/><use href="#c23e"/><use href="#c240"/><use href="#c24a"/><use href="#c24b"/><use href="#c24d"/><use href="#c24e"/><use href="#c258"/><use href="#c25f"/><use href="#c26c"/><use href="#c271"/><use href="#c27b"/><use href="#c280"/><use href="#c28b"/><use href="#c28c"/><use href="#c293"/><use href="#c295"/><use href="#c296"/><use href="#c298"/><use href="#c29c"/><use href="#c29d"/><use href="#c2a9"/><use href="#c2aa"/><use href="#c2bb"/><use href="#c2c1"/><use href="#c2c2"/><use href="#c2c5"/><use href="#c2c6"/><use href="#c2c9"/><use href="#c2cc"/><use href="#c2cd"/><use href="#c2d0"/><use href="#c2d2"/><use href="#c2d4"/><use href="#c2d7"/><use href="#c2d8"/><use href="#c2dd"/><use href="#c2e1"/><use href="#c2e8"/><use href="#c2ec"/><use href="#c2f0"/><use href="#c2fa"/><use href="#c2fc"/><use href="#c2fe"/><use href="#c303"/><use href="#c307"/><use href="#c308"/><use href="#c309"/><use href="#c30c"/><use href="#c310"/><use href="#c315"/><use href="#c316"/><use href="#c317"/><use href="#c31e"/><use href="#c324"/><use href="#c327"/><use href="#c328"/><use href="#c32d"/><use href="#c331"/><use href="#c33f"/><use href="#c340"/><use href="#c344"/><use href="#c349"/></g>
<g stroke="#cc4778"><use href="#c0"/><use href="#c5"/><use href="#cb"/><use href="#cf"/><use href="#c18"/><use href="#c22"/><use href="#c23"/><use href="#c29"/><use href="#c2a"/><use href="#c32"/><use href="#c35"/><use href="#c45"/><use href="#c48"/><use href="#c54"/><use href="#c5a"/><use href="#c5e"/><use href="#c66"/><use href="#c6c"/><use href="#c6f"/><use href="#c72"/><use href="#c75"/><use href="#c78"/><use href="#c7c"/><use href="#c85"/><use href="#c8e"/><use href="#caa"/><use href="#cad"/><use href="#caf"/><use href="#cb3"/><use href="#cc8"/><use href="#cc9"/><use href="#ccc"/><use href="#cce"/><use href="#cd5"/><use href="#cd6"/><use href="#ce2"/><use href="#ce3"/><use href="#ce6"/><use href="#ced"/><use href="#cf5"/><use href="#cfa"/><use href="#c102"/><use href="#c10d"/><use href="#c112"/><use href="#c115"/><use href="#c11b"/><use href="#c11e"/><use href="#c120"/><use href="#c123"/><use href="#c128"/><use href="#c12c"/><use href="#c12d"/><use href="#c12f"/><use href="#c137"/><use href="#c13f"/><use href="#c140"/><use href="#c146"/><use href="#c14a"/><use href="#c14e"/><use href="#c14f"/><use href="#c151"/><use href="#c154"/><use href="#c15b"/><use href="#c15f"/><use href="#c16a"/><use href="#c16e"/><use href="#c177"/><use href="#c17e"/><use href="#c182"/><use href="#c189"/><use href="#c18c"/><use href="#c190"/><use href="#c194"/><use href="#c1af"/><use href="#c1b1"/><use href="#c1b2"/><use href="#c1b7"/><use href="#c1c2"/><use href="#c1cd"/><use href="#c1d9"/><use href="#c1db"/><use href="#c1df"/><use href="#c1e6"/><use href="#c1e9"/><use href="#c1ea"/><use href="#c1f6"/><use href="#c1fe"/><use href="#c207"/><use href="#c20b"/><use href="#c20e"/><use href="#c218"/><use href="#c21b"/><use href="#c21c"/><use href="#c21f"/><use href="#c225"/><use href="#c22a"/><use href="#c22d"/><use href="#c233"/><use href="#c237"/><use href="#c23b"/><use href="#c241"/><use href="#c245"/><use href="#c246"/><use href="#c247"/><use href="#c249"/><use href="#c255"/><use href="#c259"/><use href="#c25c"/><use href="#c264"/><use href="#c267"/><use href="#c26b"/><use href="#c274"/><use href="#c27f"/><use href="#c283"/><use href="#c28f"/><use href="#c292"/><use href="#c2a2"/><use href="#c2a6"/><use href="#c2ad"/><use href="#c2b2"/><use href="#c2b3"/><use href="#c2b8"/><use href="#c2c4"/><use href="#c2ca"/><use href="#c2e0"/><use href="#c2e3"/><use href="#c2e4"/><use href="#c2e5"/><use href="#c2e6"/><use href="#c2f4"/><use href="#c2f9"/><use href="#c302"/><use href="#c306"/><use href="#c30f"/><use href="#c312"/><use href="#c313"/><use href="#c31c"/><use href="#c31d"/><use href="#c320"/><use href="#c32a"/><use href="#c32c"/><use href="#c335"/><use href="#c337"/><use href="#c33b"/><use href="#c343"/><use href="#c348"/></g>
<g stroke="#d5536f"><use href="#c2"/><use href="#c1e"/><use href="#c39"/><use href="#c4b"/><use href="#c4e"/><use href="#c62"/><use href="#c67"/><use href="#c82"/><use href="#c89"/><use href="#c8a"/><use href="#c92"/><use href="#cbb"/><use href="#cbf"/><use href="#cc4"/><use href="#ccb"/><use href="#cda"/><use href="#cde"/><use href="#cea"/><use href="#cf1"/><use href="#cf9"/><use href="#c101"/><use href="#c103"/><use href="#c107"/><use href="#c10a"/><use href="#c10c"/><use href="#c110"/><use href="#c11f"/><use href="#c12b"/><use href="#c12e"/><use href="#c143"/><use href="#c157"/><use href="#c172"/><use href="#c179"/><use href="#c198"/><use href="#c1a5"/><use href="#c1a6"/><use href="#c1a7"/><use href="#c1ae"/><use href="#c1b4"/><use href="#c1c7"/><use href="#c1c8"/><use href="#c1c9"/><use href="#c1d1"/><use href="#c1d5"/><use href="#c1eb"/><use href="#c1ec"/><use href="#c1ef"/><use href="#c1f2"/><use href="#c1fa"/><use href="#c205"/><use href="#c209"/><use href="#c224"/><use href="#c228"/><use href="#c229"/><use href="#c22b"/><use href="#c242"/><use href="#c251"/><use href="#c263"/><use href="#c287"/><use href="#c2a5"/><use href="#c2b5"/><use href="#c2ba"/><use href="#c2c8"/><use href="#c2e2"/><use href="#c32e"/></g>
<g stroke="#dd5f65"><use href="#c8d"/><use href="#c93"/><use href="#c95"/><use href="#c96"/><use href="#cc7"/><use href="#cca"/><use href="#ccd"/><use href="#cfd"/><use href="#c100"/><use href="#c109"/><use href="#c111"/><use href="#c127"/><use href="#c176"/><use href="#c17a"/><use href="#c1a0"/><use href="#c1a4"/><use href="#c223"/><use href="#c248"/><use href="#c2af"/><use href="#c2df"/><use href="#c2fb"/><use href="#c30b"/><use href="#c319"/><use href="#c31a"/><use href="#c31b"/><use href="#c32b"/><use href="#c351"/></g>
<g stroke="#e66c5c"><use href="#cd2"/><use href="#cd9"/><use href="#cfe"/><use href="#c106"/><use href="#c108"/><use href="#c175"/><use href="#c17b"/><use href="#c17c"/><use href="#c1a2"/><use href="#c1a3"/><use href="#c1c6"/><use href="#c208"/></g>
<g stroke="#ed7953"><use href="#cd1"/><use href="#c114"/><use href="#c178"/><use href="#c1c5"/><use href="#c227"/><use href="#c34f"/></g>
<g stroke="#f3864a"><use href="#c350"/></g>
<g stroke="#f89540"><use href="#c1a1"/></g>
</g></defs>
<use href="#P0" stroke-width="28" stroke-opacity="0.12"/>
<use href="#P0" stroke-width="10" stroke-opacity="0.88"/>
<g stroke-width="13" stroke-opacity="0.88">
<g stroke="#8d0ca4"><use href="#c2ef"/></g>
<g stroke="#9b179e"><use href="#c21e"/><use href="#c29b"/><use href="#c2c0"/></g>
<g stroke="#a82396"><use href="#c84"/><use href="#c169"/><use href="#c1ad"/><use href="#c1e5"/><use href="#c25e"/><use href="#c262"/><use href="#c26d"/><use href="#c277"/><use href="#c2a1"/><use href="#c2a8"/><use href="#c2d3"/><use href="#c2eb"/><use href="#c2f8"/></g>
<g stroke="#b42f8c"><use href="#c21"/><use href="#c38"/><use href="#c40"/><use href="#c44"/><use href="#c5d"/><use href="#c61"/><use href="#c7b"/><use href="#c9c"/><use href="#cb2"/><use href="#cbe"/><use href="#ce5"/><use href="#ce9"/><use href="#cec"/><use href="#cf4"/><use href="#c11d"/><use href="#c126"/><use href="#c145"/><use href="#c149"/><use href="#c14d"/><use href="#c15a"/><use href="#c162"/><use href="#c16d"/><use href="#c174"/><use href="#c18f"/><use href="#c193"/><use href="#c19b"/><use href="#c19f"/><use href="#c1ba"/><use href="#c1d4"/><use href="#c201"/><use href="#c217"/><use href="#c23a"/><use href="#c250"/><use href="#c254"/><use href="#c25b"/><use href="#c26a"/><use href="#c26f"/><use href="#c270"/><use href="#c282"/><use href="#c286"/><use href="#c288"/><use href="#c28d"/><use href="#c2a4"/><use href="#c2ac"/><use href="#c2bd"/><use href="#c2e7"/><use href="#c301"/><use href="#c305"/><use href="#c30a"/><use href="#c318"/><use href="#c334"/><use href="#c33a"/><use href="#c33c"/><use href="#c342"/><use href="#c346"/></g>
<g stroke="#c03b82"><use href="#c3c"/><use href="#c59"/><use href="#c65"/><use href="#c69"/><use href="#c6b"/><use href="#c7a"/><use href="#c7e"/><use href="#c81"/><use href="#c8c"/><use href="#ca0"/><use href="#cac"/><use href="#cae"/><use href="#cb6"/><use href="#cba"/><use href="#cd8"/><use href="#ce1"/><use href="#cf0"/><use href="#cf8"/><use href="#c10f"/><use href="#c117"/><use href="#c122"/><use href="#c12a"/><use href="#c13a"/><use href="#c13e"/><use href="#c142"/><use href="#c150"/><use href="#c153"/><use href="#c15e"/><use href="#c165"/><use href="#c171"/><use href="#c181"/><use href="#c185"/><use href="#c1be"/><use href="#c1cc"/><use href="#c1d0"/><use href="#c1de"/><use href="#c1f5"/><use href="#c1fd"/><use href="#c222"/><use href="#c226"/><use href="#c266"/><use href="#c27e"/><use href="#c28e"/><use href="#c29f"/><use href="#c2c7"/><use href="#c2de"/><use href="#c2f6"/><use href="#c2fd"/><use href="#c30e"/><use href="#c323"/><use href="#c326"/><use href="#c329"/></g>
<g stroke="#cc4778"><use href="#c88"/><use href="#c90"/><use href="#cc2"/><use href="#cc6"/><use href="#cfc"/><use href="#c10b"/><use href="#c11a"/><use href="#c17d"/><use href="#c197"/><use href="#c1f9"/><use href="#c204"/><use href="#c236"/><use href="#c244"/><use href="#c33e"/></g>
<g stroke="#d5536f"><use href="#cdc"/><use href="#c113"/></g>
</g><g stroke-width="9" stroke-opacity="0.6">
<g stroke="#b42f8c"><use href="#c34c"/><use href="#c355"/></g>
<g stroke="#c03b82"><use href="#c347"/><use href="#c34e"/></g>
<g stroke="#cc4778"><use href="#c34b"/></g>
<g stroke="#d5536f"><use href="#c34d"/><use href="#c35e"/><use href="#c35f"/></g>
<g stroke="#dd5f65"><use href="#c356"/><use href="#c357"/><use href="#c35d"/></g>
<g stroke="#e66c5c"><use href="#c352"/><use href="#c353"/><use href="#c358"/></g>
<g stroke="#ed7953"><use href="#c354"/><use href="#c359"/><use href="#c35a"/><use href="#c35b"/><use href="#c35c"/></g>
</g></g>
<use href="#ol" fill="none" stroke="#111" stroke-width="1.4" stroke-linejoin="round"/>
<rect x="-5.5" y="-2.4" width="11" height="4.8" rx="2" transform="translate(130.1 281) rotate(42)" fill="none" stroke="#111" stroke-width="1.2"/>
<rect x="-4.6" y="-2.2" width="9.2" height="4.4" rx="1.8" transform="translate(127.7 289.4) rotate(42)" fill="none" stroke="#111" stroke-width="1.2"/>
<rect x="50.4" y="51.2" width="560.3" height="285" fill="none" stroke="#222" stroke-width="1"/>
<path d="M50.4 67.8 h-4.4" stroke="#222" stroke-width="1"/>
<text x="42.1" y="71.8" font-size="10.6" text-anchor="end">22.85</text>
<path d="M50.4 99.5 h-4.4" stroke="#222" stroke-width="1"/>
<text x="42.1" y="103.5" font-size="10.6" text-anchor="end">22.80</text>
<path d="M50.4 131.1 h-4.4" stroke="#222" stroke-width="1"/>
<text x="42.1" y="135.1" font-size="10.6" text-anchor="end">22.75</text>
<path d="M50.4 162.8 h-4.4" stroke="#222" stroke-width="1"/>
<text x="42.1" y="166.8" font-size="10.6" text-anchor="end">22.70</text>
<path d="M50.4 194.5 h-4.4" stroke="#222" stroke-width="1"/>
<text x="42.1" y="198.5" font-size="10.6" text-anchor="end">22.65</text>
<path d="M50.4 226.1 h-4.4" stroke="#222" stroke-width="1"/>
<text x="42.1" y="230.1" font-size="10.6" text-anchor="end">22.60</text>
<path d="M50.4 257.8 h-4.4" stroke="#222" stroke-width="1"/>
<text x="42.1" y="261.8" font-size="10.6" text-anchor="end">22.55</text>
<path d="M50.4 289.5 h-4.4" stroke="#222" stroke-width="1"/>
<text x="42.1" y="293.5" font-size="10.6" text-anchor="end">22.50</text>
<path d="M50.4 321.1 h-4.4" stroke="#222" stroke-width="1"/>
<text x="42.1" y="325.1" font-size="10.6" text-anchor="end">22.45</text>
<path d="M103.9 336.2 v4.4" stroke="#222" stroke-width="1"/>
<text x="103.9" y="352.4" font-size="10.6" text-anchor="middle">113.8</text>
<path d="M220.7 336.2 v4.4" stroke="#222" stroke-width="1"/>
<text x="220.7" y="352.4" font-size="10.6" text-anchor="middle">114.0</text>
<path d="M337.5 336.2 v4.4" stroke="#222" stroke-width="1"/>
<text x="337.5" y="352.4" font-size="10.6" text-anchor="middle">114.2</text>
<path d="M454.2 336.2 v4.4" stroke="#222" stroke-width="1"/>
<text x="454.2" y="352.4" font-size="10.6" text-anchor="middle">114.4</text>
<path d="M571 336.2 v4.4" stroke="#222" stroke-width="1"/>
<text x="571" y="352.4" font-size="10.6" text-anchor="middle">114.6</text>
<text x="330.1" y="45" font-size="16.5" text-anchor="middle">MON 8:00 DTCO2</text>
</g>
<g transform="translate(622.3 0)">
<g transform="scale(.1)" fill="none" stroke-linecap="round">
<defs><g id="P1">
<g stroke="#9b179e"><use href="#c2f3"/></g>
<g stroke="#a82396"><use href="#c2b"/><use href="#c2e"/><use href="#c1c1"/><use href="#c269"/><use href="#c2f1"/><use href="#c2f2"/></g>
<g stroke="#b42f8c"><use href="#c14"/><use href="#c17"/><use href="#c4d"/><use href="#c50"/><use href="#c71"/><use href="#c1e8"/><use href="#c24c"/><use href="#c253"/><use href="#c265"/><use href="#c268"/><use href="#c284"/><use href="#c285"/><use href="#c28a"/><use href="#c29e"/><use href="#c2a0"/><use href="#c2a3"/><use href="#c2f0"/><use href="#c2f5"/></g>
<g stroke="#c03b82"><use href="#c3"/><use href="#c13"/><use href="#c29"/><use href="#c2a"/><use href="#c2c"/><use href="#c2d"/><use href="#c31"/><use href="#c37"/><use href="#c53"/><use href="#c6e"/><use href="#c70"/><use href="#c9b"/><use href="#c116"/><use href="#c1c4"/><use href="#c239"/><use href="#c24f"/><use href="#c25d"/><use href="#c27d"/><use href="#c281"/><use href="#c289"/><use href="#c2a7"/><use href="#c2be"/><use href="#c2bf"/><use href="#c2d8"/><use href="#c2d9"/><use href="#c2da"/><use href="#c2db"/><use href="#c2dc"/><use href="#c2dd"/><use href="#c2f7"/><use href="#c333"/><use href="#c34a"/></g>
<g stroke="#cc4778"><use href="#c4"/><use href="#c7"/><use href="#ca"/><use href="#cd"/><use href="#c10"/><use href="#c11"/><use href="#c12"/><use href="#c15"/><use href="#c1a"/><use href="#c1d"/><use href="#c25"/><use href="#c27"/><use href="#c30"/><use href="#c47"/><use href="#c4a"/><use href="#c4f"/><use href="#c52"/><use href="#c56"/><use href="#c60"/><use href="#c6a"/><use href="#c6d"/><use href="#c74"/><use href="#c9f"/><use href="#ca3"/><use href="#ca9"/><use href="#ce4"/><use href="#c119"/><use href="#c141"/><use href="#c16c"/><use href="#c1b6"/><use href="#c1b9"/><use href="#c1bd"/><use href="#c1c0"/><use href="#c1cf"/><use href="#c1e7"/><use href="#c1ee"/><use href="#c203"/><use href="#c210"/><use href="#c213"/><use href="#c21d"/><use href="#c221"/><use href="#c22f"/><use href="#c232"/><use href="#c235"/><use href="#c238"/><use href="#c23d"/><use href="#c252"/><use href="#c256"/><use href="#c257"/><use href="#c261"/><use href="#c267"/><use href="#c26b"/><use href="#c26c"/><use href="#c280"/><use href="#c283"/><use href="#c29a"/><use href="#c29d"/><use href="#c2ab"/><use href="#c2ae"/><use href="#c2bc"/><use href="#c2c1"/><use href="#c2c2"/><use href="#c2c3"/><use href="#c2c6"/><use href="#c2d5"/><use href="#c2d6"/><use href="#c2d7"/><use href="#c2ed"/><use href="#c2ee"/><use href="#c304"/><use href="#c308"/><use href="#c309"/><use href="#c314"/><use href="#c33d"/><use href="#c345"/><use href="#c349"/><use href="#c351"/></g>
<g stroke="#d5536f"><use href="#c1"/><use href="#c9"/><use href="#cc"/><use href="#ce"/><use href="#c16"/><use href="#c19"/><use href="#c24"/><use href="#c26"/><use href="#c28"/><use href="#c34"/><use href="#c3b"/><use href="#c46"/><use href="#c49"/><use href="#c4c"/><use href="#c51"/><use href="#c58"/><use href="#c5c"/><use href="#c6c"/><use href="#c73"/><use href="#c76"/><use href="#c77"/><use href="#c79"/><use href="#c80"/><use href="#c83"/><use href="#c94"/><use href="#c97"/><use href="#c98"/><use href="#c99"/><use href="#c9a"/><use href="#c9e"/><use href="#ca1"/><use href="#ca2"/><use href="#ca6"/><use href="#cab"/><use href="#cb5"/><use href="#cb9"/><use href="#ccf"/><use href="#cd0"/><use href="#cdf"/><use href="#ce8"/><use href="#cef"/><use href="#cf3"/><use href="#c107"/><use href="#c11c"/><use href="#c121"/><use href="#c129"/><use href="#c132"/><use href="#c134"/><use href="#c136"/><use href="#c138"/><use href="#c139"/><use href="#c13b"/><use href="#c13d"/><use href="#c148"/><use href="#c14c"/><use href="#c152"/><use href="#c156"/><use href="#c15d"/><use href="#c161"/><use href="#c170"/><use href="#c177"/><use href="#c184"/><use href="#c188"/><use href="#c18b"/><use href="#c18d"/><use href="#c18e"/><use href="#c192"/><use href="#c195"/><use href="#c196"/><use href="#c19a"/><use href="#c19d"/><use href="#c19e"/><use href="#c1a9"/><use href="#c1ac"/><use href="#c1b3"/><use href="#c1bf"/><use href="#c1c3"/><use href="#c1d3"/><use href="#c1e1"/><use href="#c1e3"/><use href="#c1e4"/><use href="#c1e6"/><use href="#c1f4"/><use href="#c1f8"/><use href="#c200"/><use href="#c206"/><use href="#c207"/><use href="#c20a"/><use href="#c20d"/><use href="#c20f"/><use href="#c212"/><use href="#c216"/><use href="#c219"/><use href="#c21a"/><use href="#c225"/><use href="#c228"/><use href="#c229"/><use href="#c22a"/><use href="#c22c"/><use href="#c22e"/><use href="#c231"/><use href="#c23f"/><use href="#c243"/><use href="#c24d"/><use href="#c24e"/><use href="#c258"/><use href="#c25a"/><use href="#c25f"/><use href="#c260"/><use href="#c263"/><use href="#c264"/><use href="#c26e"/><use href="#c273"/><use href="#c276"/><use href="#c279"/><use href="#c27a"/><use href="#c27c"/><use href="#c27f"/><use href="#c287"/><use href="#c291"/><use href="#c297"/><use href="#c299"/><use href="#c29c"/><use href="#c2a2"/><use href="#c2a6"/><use href="#c2a9"/><use href="#c2b9"/><use href="#c2bb"/><use href="#c2c4"/><use href="#c2c5"/><use href="#c2f4"/><use href="#c2fa"/><use href="#c303"/><use href="#c307"/><use href="#c311"/><use href="#c315"/><use href="#c316"/><use href="#c317"/><use href="#c322"/><use href="#c325"/><use href="#c327"/><use href="#c328"/><use href="#c332"/><use href="#c336"/><use href="#c338"/><use href="#c339"/><use href="#c341"/><use href="#c343"/><use href="#c344"/><use href="#c348"/></g>
<g stroke="#dd5f65"><use href="#c0"/><use href="#c6"/><use href="#cf"/><use href="#c1b"/><use href="#c1c"/><use href="#c20"/><use href="#c2f"/><use href="#c33"/><use href="#c36"/><use href="#c3f"/><use href="#c41"/><use href="#c42"/><use href="#c43"/><use href="#c45"/><use href="#c48"/><use href="#c4e"/><use href="#c54"/><use href="#c55"/><use href="#c57"/><use href="#c5b"/><use href="#c64"/><use href="#c6f"/><use href="#c72"/><use href="#c7d"/><use href="#c87"/><use href="#c8b"/><use href="#c9d"/><use href="#ca5"/><use href="#cb0"/><use href="#cb1"/><use href="#cb4"/><use href="#cb8"/><use href="#cbd"/><use href="#cc1"/><use href="#ccc"/><use href="#cd4"/><use href="#cdb"/><use href="#cdd"/><use href="#ce0"/><use href="#ce7"/><use href="#ceb"/><use href="#cf2"/><use href="#cf7"/><use href="#cff"/><use href="#c102"/><use href="#c104"/><use href="#c105"/><use href="#c109"/><use href="#c10a"/><use href="#c115"/><use href="#c124"/><use href="#c125"/><use href="#c12c"/><use href="#c12d"/><use href="#c12f"/><use href="#c130"/><use href="#c131"/><use href="#c133"/><use href="#c13c"/><use href="#c144"/><use href="#c147"/><use href="#c14b"/><use href="#c155"/><use href="#c159"/><use href="#c15c"/><use href="#c163"/><use href="#c164"/><use href="#c167"/><use href="#c168"/><use href="#c16b"/><use href="#c179"/><use href="#c17f"/><use href="#c180"/><use href="#c187"/><use href="#c199"/><use href="#c19c"/><use href="#c1a0"/><use href="#c1a8"/><use href="#c1b0"/><use href="#c1b5"/><use href="#c1b8"/><use href="#c1bb"/><use href="#c1bc"/><use href="#c1c8"/><use href="#c1ca"/><use href="#c1cb"/><use href="#c1ce"/><use href="#c1da"/><use href="#c1dc"/><use href="#c1dd"/><use href="#c1e0"/><use href="#c1e2"/><use href="#c1e9"/><use href="#c1ea"/><use href="#c1eb"/><use href="#c1ed"/><use href="#c1f0"/><use href="#c1f1"/><use href="#c1f3"/><use href="#c1f7"/><use href="#c1fc"/><use href="#c1ff"/><use href="#c202"/><use href="#c209"/><use href="#c20c"/><use href="#c211"/><use href="#c214"/><use href="#c215"/><use href="#c21b"/><use href="#c220"/><use href="#c224"/><use href="#c22b"/><use href="#c230"/><use href="#c233"/><use href="#c234"/><use href="#c237"/><use href="#c23b"/><use href="#c23c"/><use href="#c23e"/><use href="#c240"/><use href="#c241"/><use href="#c242"/><use href="#c246"/><use href="#c247"/><use href="#c249"/><use href="#c24a"/><use href="#c24b"/><use href="#c251"/><use href="#c255"/><use href="#c271"/><use href="#c272"/><use href="#c275"/><use href="#c27b"/><use href="#c28b"/><use href="#c28c"/><use href="#c290"/><use href="#c293"/><use href="#c294"/><use href="#c298"/><use href="#c2a5"/><use href="#c2aa"/><use href="#c2ad"/><use href="#c2b7"/><use href="#c2d4"/><use href="#c2e1"/><use href="#c2ea"/><use href="#c2ec"/><use href="#c2fc"/><use href="#c2ff"/><use href="#c300"/><use href="#c306"/><use href="#c30c"/><use href="#c30d"/><use href="#c310"/><use href="#c31f"/><use href="#c321"/><use href="#c324"/><use href="#c330"/><use href="#c33b"/><use href="#c33f"/><use href="#c340"/></g>
<g stroke="#e66c5c"><use href="#c5"/><use href="#c8"/><use href="#cb"/><use href="#c18"/><use href="#c1f"/><use href="#c22"/><use href="#c23"/><use href="#c32"/><use href="#c35"/><use href="#c3a"/><use href="#c3d"/><use href="#c3e"/><use href="#c4b"/><use href="#c5a"/><use href="#c5f"/><use href="#c63"/><use href="#c68"/><use href="#c75"/><use href="#c7c"/><use href="#c7f"/><use href="#c86"/><use href="#c8f"/><use href="#c91"/><use href="#c95"/><use href="#c96"/><use href="#ca4"/><use href="#ca8"/><use href="#caa"/><use href="#cad"/><use href="#caf"/><use href="#cb3"/><use href="#cb7"/><use href="#cc0"/><use href="#cc5"/><use href="#cc9"/><use href="#ccb"/><use href="#cce"/><use href="#cd1"/><use href="#cd3"/><use href="#ce2"/><use href="#ce3"/><use href="#ce6"/><use href="#cee"/><use href="#cfb"/><use href="#c101"/><use href="#c106"/><use href="#c112"/><use href="#c118"/><use href="#c11b"/><use href="#c11e"/><use href="#c128"/><use href="#c12b"/><use href="#c12e"/><use href="#c135"/><use href="#c137"/><use href="#c13f"/><use href="#c140"/><use href="#c14e"/><use href="#c14f"/><use href="#c151"/><use href="#c158"/><use href="#c15b"/><use href="#c160"/><use href="#c166"/><use href="#c16a"/><use href="#c16e"/><use href="#c16f"/><use href="#c173"/><use href="#c176"/><use href="#c17a"/><use href="#c182"/><use href="#c183"/><use href="#c186"/><use href="#c18a"/><use href="#c18c"/><use href="#c190"/><use href="#c191"/><use href="#c194"/><use href="#c1a2"/><use href="#c1a3"/><use href="#c1a5"/><use href="#c1a6"/><use href="#c1aa"/><use href="#c1ab"/><use href="#c1b7"/><use href="#c1c2"/><use href="#c1c7"/><use href="#c1c9"/><use href="#c1cd"/><use href="#c1d2"/><use href="#c1d6"/><use href="#c1d7"/><use href="#c1d8"/><use href="#c1df"/><use href="#c1f6"/><use href="#c1fb"/><use href="#c205"/><use href="#c20b"/><use href="#c218"/><use href="#c21c"/><use href="#c21f"/><use href="#c223"/><use href="#c22d"/><use href="#c245"/><use href="#c259"/><use href="#c278"/><use href="#c295"/><use href="#c296"/><use href="#c2b0"/><use href="#c2b1"/><use href="#c2b4"/><use href="#c2b6"/><use href="#c2ba"/><use href="#c2cf"/><use href="#c2d1"/><use href="#c2e0"/><use href="#c2e3"/><use href="#c2f9"/><use href="#c2fe"/><use href="#c302"/><use href="#c30f"/><use href="#c312"/><use href="#c313"/><use href="#c32f"/><use href="#c331"/><use href="#c335"/><use href="#c337"/><use href="#c34f"/><use href="#c350"/></g>
<g stroke="#ed7953"><use href="#c2"/><use href="#c1e"/><use href="#c39"/><use href="#c5e"/><use href="#c66"/><use href="#c78"/><use href="#c82"/><use href="#c85"/><use href="#c89"/><use href="#c8a"/><use href="#c8e"/><use href="#c92"/><use href="#c93"/><use href="#ca7"/><use href="#cbc"/><use href="#cc3"/><use href="#cc8"/><use href="#cca"/><use href="#ccd"/><use href="#cd2"/><use href="#cde"/><use href="#cea"/><use href="#ced"/><use href="#cf5"/><use href="#cf6"/><use href="#cfa"/><use href="#c100"/><use href="#c103"/><use href="#c108"/><use href="#c120"/><use href="#c123"/><use href="#c143"/><use href="#c146"/><use href="#c14a"/><use href="#c154"/><use href="#c157"/><use href="#c15f"/><use href="#c172"/><use href="#c175"/><use href="#c17b"/><use href="#c17c"/><use href="#c17e"/><use href="#c189"/><use href="#c198"/><use href="#c1a4"/><use href="#c1af"/><use href="#c1b1"/><use href="#c1b2"/><use href="#c1d1"/><use href="#c1d5"/><use href="#c1d9"/><use href="#c1db"/><use href="#c1ec"/><use href="#c1ef"/><use href="#c1f2"/><use href="#c1fa"/><use href="#c1fe"/><use href="#c20e"/><use href="#c227"/><use href="#c248"/><use href="#c25c"/><use href="#c274"/><use href="#c292"/><use href="#c2b8"/><use href="#c2c9"/><use href="#c2cb"/><use href="#c2cc"/><use href="#c2ce"/><use href="#c2d0"/><use href="#c2d2"/><use href="#c2e4"/><use href="#c2e9"/><use href="#c31e"/><use href="#c320"/></g>
<g stroke="#f3864a"><use href="#c62"/><use href="#c67"/><use href="#cbb"/><use href="#cbf"/><use href="#cc7"/><use href="#cd7"/><use href="#cda"/><use href="#cf1"/><use href="#cf9"/><use href="#cfd"/><use href="#cfe"/><use href="#c10e"/><use href="#c111"/><use href="#c114"/><use href="#c11f"/><use href="#c127"/><use href="#c178"/><use href="#c1a7"/><use href="#c1ae"/><use href="#c1b4"/><use href="#c1c6"/><use href="#c208"/><use href="#c28f"/><use href="#c2b2"/><use href="#c2b3"/><use href="#c2b5"/><use href="#c2c8"/><use href="#c2cd"/><use href="#c2df"/><use href="#c2e2"/><use href="#c2e5"/><use href="#c2e6"/><use href="#c2e8"/><use href="#c2fb"/><use href="#c30b"/><use href="#c31c"/><use href="#c31d"/><use href="#c32a"/><use href="#c32d"/><use href="#c32e"/></g>
<g stroke="#f89540"><use href="#c8d"/><use href="#cc4"/><use href="#cd5"/><use href="#cd6"/><use href="#c1a1"/><use href="#c1c5"/><use href="#c2ca"/><use href="#c319"/><use href="#c31b"/><use href="#c32c"/></g>
<g stroke="#fba437"><use href="#c10d"/><use href="#c110"/><use href="#c2af"/><use href="#c31a"/></g>
<g stroke="#fdb42f"><use href="#cd9"/><use href="#c32b"/></g>
<g stroke="#fdc428"><use href="#c10c"/></g>
</g></defs>
<use href="#P1" stroke-width="28" stroke-opacity="0.12"/>
<use href="#P1" stroke-width="10" stroke-opacity="0.88"/>
<g stroke-width="13" stroke-opacity="0.88">
<g stroke="#a82396"><use href="#c26d"/></g>
<g stroke="#b42f8c"><use href="#c254"/><use href="#c286"/><use href="#c2a1"/><use href="#c2f8"/></g>
<g stroke="#c03b82"><use href="#c21e"/><use href="#c250"/><use href="#c262"/><use href="#c26a"/><use href="#c282"/><use href="#c288"/><use href="#c29b"/><use href="#c2a4"/><use href="#c2a8"/><use href="#c2c0"/><use href="#c2f6"/><use href="#c30a"/></g>
<g stroke="#cc4778"><use href="#c84"/><use href="#c9c"/><use href="#c169"/><use href="#c1e5"/><use href="#c266"/><use href="#c2ac"/><use href="#c2c7"/><use href="#c2de"/><use href="#c2ef"/><use href="#c318"/><use href="#c346"/></g>
<g stroke="#d5536f"><use href="#c38"/><use href="#c44"/><use href="#c5d"/><use href="#c61"/><use href="#ca0"/><use href="#ce5"/><use href="#ce9"/><use href="#c117"/><use href="#c11d"/><use href="#c145"/><use href="#c149"/><use href="#c14d"/><use href="#c15a"/><use href="#c16d"/><use href="#c174"/><use href="#c18f"/><use href="#c193"/><use href="#c19b"/><use href="#c19f"/><use href="#c1ad"/><use href="#c201"/><use href="#c217"/><use href="#c222"/><use href="#c226"/><use href="#c23a"/><use href="#c25b"/><use href="#c25e"/><use href="#c26f"/><use href="#c270"/><use href="#c277"/><use href="#c28d"/><use href="#c29f"/><use href="#c2bd"/><use href="#c305"/><use href="#c329"/><use href="#c334"/><use href="#c33a"/><use href="#c33c"/><use href="#c342"/></g>
<g stroke="#dd5f65"><use href="#c21"/><use href="#c3c"/><use href="#c40"/><use href="#c59"/><use href="#c6b"/><use href="#c7a"/><use href="#c7b"/><use href="#c7e"/><use href="#c81"/><use href="#c8c"/><use href="#cac"/><use href="#cae"/><use href="#cb2"/><use href="#cb6"/><use href="#cbe"/><use href="#ce1"/><use href="#cec"/><use href="#cf0"/><use href="#cf4"/><use href="#c126"/><use href="#c13a"/><use href="#c13e"/><use href="#c142"/><use href="#c150"/><use href="#c153"/><use href="#c162"/><use href="#c165"/><use href="#c171"/><use href="#c17d"/><use href="#c185"/><use href="#c1ba"/><use href="#c1be"/><use href="#c1cc"/><use href="#c1d4"/><use href="#c1de"/><use href="#c1f5"/><use href="#c1fd"/><use href="#c204"/><use href="#c236"/><use href="#c27e"/><use href="#c28e"/><use href="#c2d3"/><use href="#c301"/><use href="#c323"/><use href="#c326"/><use href="#c33e"/></g>
<g stroke="#e66c5c"><use href="#c65"/><use href="#c69"/><use href="#cba"/><use href="#cf8"/><use href="#cfc"/><use href="#c11a"/><use href="#c122"/><use href="#c12a"/><use href="#c15e"/><use href="#c181"/><use href="#c197"/><use href="#c1d0"/><use href="#c1f9"/><use href="#c244"/><use href="#c2eb"/><use href="#c2fd"/><use href="#c30e"/></g>
<g stroke="#ed7953"><use href="#c88"/><use href="#cc2"/><use href="#cc6"/><use href="#c10b"/><use href="#c113"/><use href="#c2e7"/></g>
<g stroke="#f3864a"><use href="#c90"/><use href="#cd8"/><use href="#cdc"/></g>
<g stroke="#f89540"><use href="#c10f"/></g>
</g><g stroke-width="9" stroke-opacity="0.6">
<g stroke="#c03b82"><use href="#c34c"/></g>
<g stroke="#cc4778"><use href="#c347"/><use href="#c34b"/><use href="#c34d"/></g>
<g stroke="#d5536f"><use href="#c34e"/><use href="#c352"/><use href="#c355"/></g>
<g stroke="#dd5f65"><use href="#c353"/><use href="#c354"/><use href="#c358"/></g>
<g stroke="#e66c5c"><use href="#c356"/><use href="#c357"/><use href="#c359"/><use href="#c35f"/></g>
<g stroke="#ed7953"><use href="#c35a"/><use href="#c35b"/><use href="#c35c"/><use href="#c35e"/></g>
<g stroke="#f3864a"><use href="#c35d"/></g>
</g></g>
<use href="#ol" fill="none" stroke="#111" stroke-width="1.4" stroke-linejoin="round"/>
<rect x="-5.5" y="-2.4" width="11" height="4.8" rx="2" transform="translate(130.1 281) rotate(42)" fill="none" stroke="#111" stroke-width="1.2"/>
<rect x="-4.6" y="-2.2" width="9.2" height="4.4" rx="1.8" transform="translate(127.7 289.4) rotate(42)" fill="none" stroke="#111" stroke-width="1.2"/>
<rect x="50.4" y="51.2" width="560.3" height="285" fill="none" stroke="#222" stroke-width="1"/>
<path d="M50.4 67.8 h-4.4" stroke="#222" stroke-width="1"/>
<text x="42.1" y="71.8" font-size="10.6" text-anchor="end">22.85</text>
<path d="M50.4 99.5 h-4.4" stroke="#222" stroke-width="1"/>
<text x="42.1" y="103.5" font-size="10.6" text-anchor="end">22.80</text>
<path d="M50.4 131.1 h-4.4" stroke="#222" stroke-width="1"/>
<text x="42.1" y="135.1" font-size="10.6" text-anchor="end">22.75</text>
<path d="M50.4 162.8 h-4.4" stroke="#222" stroke-width="1"/>
<text x="42.1" y="166.8" font-size="10.6" text-anchor="end">22.70</text>
<path d="M50.4 194.5 h-4.4" stroke="#222" stroke-width="1"/>
<text x="42.1" y="198.5" font-size="10.6" text-anchor="end">22.65</text>
<path d="M50.4 226.1 h-4.4" stroke="#222" stroke-width="1"/>
<text x="42.1" y="230.1" font-size="10.6" text-anchor="end">22.60</text>
<path d="M50.4 257.8 h-4.4" stroke="#222" stroke-width="1"/>
<text x="42.1" y="261.8" font-size="10.6" text-anchor="end">22.55</text>
<path d="M50.4 289.5 h-4.4" stroke="#222" stroke-width="1"/>
<text x="42.1" y="293.5" font-size="10.6" text-anchor="end">22.50</text>
<path d="M50.4 321.1 h-4.4" stroke="#222" stroke-width="1"/>
<text x="42.1" y="325.1" font-size="10.6" text-anchor="end">22.45</text>
<path d="M103.9 336.2 v4.4" stroke="#222" stroke-width="1"/>
<text x="103.9" y="352.4" font-size="10.6" text-anchor="middle">113.8</text>
<path d="M220.7 336.2 v4.4" stroke="#222" stroke-width="1"/>
<text x="220.7" y="352.4" font-size="10.6" text-anchor="middle">114.0</text>
<path d="M337.5 336.2 v4.4" stroke="#222" stroke-width="1"/>
<text x="337.5" y="352.4" font-size="10.6" text-anchor="middle">114.2</text>
<path d="M454.2 336.2 v4.4" stroke="#222" stroke-width="1"/>
<text x="454.2" y="352.4" font-size="10.6" text-anchor="middle">114.4</text>
<path d="M571 336.2 v4.4" stroke="#222" stroke-width="1"/>
<text x="571" y="352.4" font-size="10.6" text-anchor="middle">114.6</text>
<text x="330.1" y="45" font-size="16.5" text-anchor="middle">MON 11:00 DTCO2</text>
</g>
<g transform="translate(0 360.4)">
<g transform="scale(.1)" fill="none" stroke-linecap="round">
<defs><g id="P2">
<g stroke="#8d0ca4"><use href="#c1a"/></g>
<g stroke="#9b179e"><use href="#c3"/><use href="#c14"/><use href="#c17"/><use href="#c2c3"/><use href="#c2ee"/></g>
<g stroke="#a82396"><use href="#c4"/><use href="#c7"/><use href="#ca"/><use href="#c13"/><use href="#c19"/><use href="#c1d"/><use href="#c148"/><use href="#c14c"/><use href="#c2a7"/><use href="#c2c1"/><use href="#c2c2"/><use href="#c2ed"/></g>
<g stroke="#b42f8c"><use href="#c1"/><use href="#c9"/><use href="#cd"/><use href="#c10"/><use href="#c11"/><use href="#c12"/><use href="#c15"/><use href="#c16"/><use href="#c30"/><use href="#c31"/><use href="#c14b"/><use href="#c16c"/><use href="#c170"/><use href="#c1c1"/><use href="#c24c"/><use href="#c2a3"/><use href="#c2a6"/><use href="#c2c5"/><use href="#c2c6"/><use href="#c2dc"/></g>
<g stroke="#c03b82"><use href="#c0"/><use href="#c6"/><use href="#cc"/><use href="#c18"/><use href="#c1c"/><use href="#c34"/><use href="#c37"/><use href="#c116"/><use href="#c129"/><use href="#c141"/><use href="#c14a"/><use href="#c18b"/><use href="#c195"/><use href="#c196"/><use href="#c19a"/><use href="#c1b6"/><use href="#c1c4"/><use href="#c1ee"/><use href="#c265"/><use href="#c269"/><use href="#c28a"/><use href="#c2ab"/><use href="#c2c4"/><use href="#c2d6"/><use href="#c2ec"/><use href="#c2f5"/><use href="#c2f7"/><use href="#c309"/><use href="#c317"/><use href="#c327"/><use href="#c328"/><use href="#c333"/></g>
<g stroke="#cc4778"><use href="#c5"/><use href="#c8"/><use href="#cf"/><use href="#c1b"/><use href="#c25"/><use href="#c2b"/><use href="#c2e"/><use href="#c2f"/><use href="#c4d"/><use href="#c56"/><use href="#c58"/><use href="#c60"/><use href="#c83"/><use href="#c8b"/><use href="#ca9"/><use href="#cb5"/><use href="#cb9"/><use href="#cc1"/><use href="#ce4"/><use href="#ce8"/><use href="#cef"/><use href="#cf3"/><use href="#c119"/><use href="#c121"/><use href="#c13d"/><use href="#c146"/><use href="#c147"/><use href="#c152"/><use href="#c156"/><use href="#c15d"/><use href="#c161"/><use href="#c16f"/><use href="#c177"/><use href="#c184"/><use href="#c188"/><use href="#c199"/><use href="#c19d"/><use href="#c19e"/><use href="#c1a3"/><use href="#c1a9"/><use href="#c1ac"/><use href="#c1b3"/><use href="#c1b9"/><use href="#c1bd"/><use href="#c1c0"/><use href="#c1cf"/><use href="#c1d3"/><use href="#c1e8"/><use href="#c1f4"/><use href="#c203"/><use href="#c20d"/><use href="#c210"/><use href="#c213"/><use href="#c21d"/><use href="#c221"/><use href="#c229"/><use href="#c22f"/><use href="#c232"/><use href="#c235"/><use href="#c239"/><use href="#c23d"/><use href="#c253"/><use href="#c25d"/><use href="#c261"/><use href="#c27d"/><use href="#c289"/><use href="#c29e"/><use href="#c2a0"/><use href="#c2a5"/><use href="#c2ae"/><use href="#c2bc"/><use href="#c2be"/><use href="#c2bf"/><use href="#c2d5"/><use href="#c2db"/><use href="#c2dd"/><use href="#c2e9"/><use href="#c2ea"/><use href="#c2f1"/><use href="#c2f3"/><use href="#c300"/><use href="#c304"/><use href="#c311"/><use href="#c314"/><use href="#c322"/><use href="#c33d"/><use href="#c341"/><use href="#c34a"/></g>
<g stroke="#d5536f"><use href="#c2"/><use href="#cb"/><use href="#ce"/><use href="#c20"/><use href="#c24"/><use href="#c27"/><use href="#c2c"/><use href="#c2d"/><use href="#c33"/><use href="#c3b"/><use href="#c42"/><use href="#c43"/><use href="#c47"/><use href="#c50"/><use href="#c53"/><use href="#c55"/><use href="#c57"/><use href="#c5c"/><use href="#c64"/><use href="#c6a"/><use href="#c6e"/><use href="#c71"/><use href="#c80"/><use href="#c87"/><use href="#c8f"/><use href="#c94"/><use href="#c97"/><use href="#c98"/><use href="#cab"/><use href="#cb0"/><use href="#cb1"/><use href="#cbd"/><use href="#ccf"/><use href="#cd0"/><use href="#cdb"/><use href="#cdf"/><use href="#ceb"/><use href="#cf2"/><use href="#cf7"/><use href="#c107"/><use href="#c10a"/><use href="#c10e"/><use href="#c112"/><use href="#c11c"/><use href="#c124"/><use href="#c125"/><use href="#c132"/><use href="#c134"/><use href="#c136"/><use href="#c138"/><use href="#c139"/><use href="#c13b"/><use href="#c144"/><use href="#c159"/><use href="#c15c"/><use href="#c167"/><use href="#c168"/><use href="#c16a"/><use href="#c16b"/><use href="#c16e"/><use href="#c173"/><use href="#c17b"/><use href="#c180"/><use href="#c187"/><use href="#c18d"/><use href="#c18e"/><use href="#c192"/><use href="#c194"/><use href="#c19c"/><use href="#c1a0"/><use href="#c1a2"/><use href="#c1a6"/><use href="#c1a8"/><use href="#c1b0"/><use href="#c1bc"/><use href="#c1bf"/><use href="#c1c3"/><use href="#c1c7"/><use href="#c1c8"/><use href="#c1cb"/><use href="#c1da"/><use href="#c1dc"/><use href="#c1dd"/><use href="#c1e0"/><use href="#c1e1"/><use href="#c1e4"/><use href="#c1eb"/><use href="#c1f1"/><use href="#c1f3"/><use href="#c1f7"/><use href="#c1f8"/><use href="#c1fc"/><use href="#c1ff"/><use href="#c200"/><use href="#c206"/><use href="#c207"/><use href="#c20a"/><use href="#c20f"/><use href="#c212"/><use href="#c215"/><use href="#c216"/><use href="#c219"/><use href="#c21a"/><use href="#c225"/><use href="#c228"/><use href="#c22a"/><use href="#c22c"/><use href="#c22e"/><use href="#c238"/><use href="#c23f"/><use href="#c243"/><use href="#c247"/><use href="#c24f"/><use href="#c252"/><use href="#c256"/><use href="#c257"/><use href="#c25a"/><use href="#c260"/><use href="#c268"/><use href="#c26e"/><use href="#c273"/><use href="#c276"/><use href="#c279"/><use href="#c27a"/><use href="#c281"/><use href="#c284"/><use href="#c285"/><use href="#c291"/><use href="#c297"/><use href="#c29a"/><use href="#c2a2"/><use href="#c2a9"/><use href="#c2aa"/><use href="#c2b9"/><use href="#c2d4"/><use href="#c2d8"/><use href="#c2d9"/><use href="#c2da"/><use href="#c2e1"/><use href="#c2e8"/><use href="#c2f2"/><use href="#c2f4"/><use href="#c2fa"/><use href="#c2fe"/><use href="#c2ff"/><use href="#c302"/><use href="#c303"/><use href="#c307"/><use href="#c308"/><use href="#c30d"/><use href="#c315"/><use href="#c316"/><use href="#c31f"/><use href="#c321"/><use href="#c324"/><use href="#c325"/><use href="#c330"/><use href="#c332"/><use href="#c336"/><use href="#c338"/><use href="#c339"/><use href="#c345"/><use href="#c349"/><use href="#c351"/></g>
<g stroke="#dd5f65"><use href="#c1f"/><use href="#c26"/><use href="#c28"/><use href="#c29"/><use href="#c2a"/><use href="#c32"/><use href="#c35"/><use href="#c36"/><use href="#c3a"/><use href="#c3d"/><use href="#c3e"/><use href="#c3f"/><use href="#c41"/><use href="#c4a"/><use href="#c4f"/><use href="#c52"/><use href="#c54"/><use href="#c5b"/><use href="#c5f"/><use href="#c63"/><use href="#c68"/><use href="#c6d"/><use href="#c76"/><use href="#c79"/><use href="#c7d"/><use href="#c7f"/><use href="#c85"/><use href="#c86"/><use href="#c91"/><use href="#c96"/><use href="#c9b"/><use href="#ca3"/><use href="#ca6"/><use href="#cad"/><use href="#cb4"/><use href="#cb7"/><use href="#cb8"/><use href="#cbc"/><use href="#cc0"/><use href="#cd4"/><use href="#cdd"/><use href="#ce0"/><use href="#ce7"/><use href="#cee"/><use href="#cff"/><use href="#c102"/><use href="#c104"/><use href="#c105"/><use href="#c109"/><use href="#c115"/><use href="#c118"/><use href="#c128"/><use href="#c12c"/><use href="#c12d"/><use href="#c12f"/><use href="#c130"/><use href="#c131"/><use href="#c133"/><use href="#c135"/><use href="#c13c"/><use href="#c14e"/><use href="#c14f"/><use href="#c155"/><use href="#c158"/><use href="#c160"/><use href="#c163"/><use href="#c164"/><use href="#c166"/><use href="#c176"/><use href="#c179"/><use href="#c17a"/><use href="#c17c"/><use href="#c17f"/><use href="#c183"/><use href="#c186"/><use href="#c18a"/><use href="#c18c"/><use href="#c190"/><use href="#c191"/><use href="#c198"/><use href="#c1a5"/><use href="#c1aa"/><use href="#c1ab"/><use href="#c1b2"/><use href="#c1b5"/><use href="#c1b8"/><use href="#c1bb"/><use href="#c1ca"/><use href="#c1cd"/><use href="#c1ce"/><use href="#c1d2"/><use href="#c1d6"/><use href="#c1d7"/><use href="#c1d8"/><use href="#c1df"/><use href="#c1e3"/><use href="#c1e7"/><use href="#c1e9"/><use href="#c1ea"/><use href="#c1ed"/><use href="#c1f0"/><use href="#c1fb"/><use href="#c202"/><use href="#c205"/><use href="#c209"/><use href="#c20c"/><use href="#c211"/><use href="#c214"/><use href="#c21b"/><use href="#c21c"/><use href="#c21f"/><use href="#c220"/><use href="#c224"/><use href="#c22b"/><use href="#c230"/><use href="#c231"/><use href="#c234"/><use href="#c237"/><use href="#c23c"/><use href="#c23e"/><use href="#c240"/><use href="#c241"/><use href="#c242"/><use href="#c245"/><use href="#c246"/><use href="#c249"/><use href="#c24a"/><use href="#c24b"/><use href="#c24d"/><use href="#c24e"/><use href="#c258"/><use href="#c25f"/><use href="#c26b"/><use href="#c26c"/><use href="#c272"/><use href="#c275"/><use href="#c27c"/><use href="#c280"/><use href="#c28b"/><use href="#c28c"/><use href="#c290"/><use href="#c294"/><use href="#c299"/><use href="#c29c"/><use href="#c29d"/><use href="#c2ad"/><use href="#c2b0"/><use href="#c2b6"/><use href="#c2b7"/><use href="#c2bb"/><use href="#c2d1"/><use href="#c2d7"/><use href="#c2e3"/><use href="#c2f0"/><use href="#c2f9"/><use href="#c2fc"/><use href="#c30c"/><use href="#c310"/><use href="#c32f"/><use href="#c331"/><use href="#c335"/><use href="#c33b"/><use href="#c33f"/><use href="#c340"/><use href="#c343"/><use href="#c344"/><use href="#c348"/></g>
<g stroke="#e66c5c"><use href="#c22"/><use href="#c23"/><use href="#c46"/><use href="#c49"/><use href="#c4c"/><use href="#c51"/><use href="#c5a"/><use href="#c5e"/><use href="#c66"/><use href="#c6c"/><use href="#c70"/><use href="#c74"/><use href="#c77"/><use href="#c7c"/><use href="#c89"/><use href="#c8a"/><use href="#c8e"/><use href="#c95"/><use href="#c99"/><use href="#c9f"/><use href="#ca2"/><use href="#ca8"/><use href="#caa"/><use href="#caf"/><use href="#cb3"/><use href="#cc5"/><use href="#ccb"/><use href="#ccc"/><use href="#cce"/><use href="#cd3"/><use href="#cd7"/><use href="#cda"/><use href="#ce2"/><use href="#ce3"/><use href="#ce6"/><use href="#ced"/><use href="#cf5"/><use href="#cf6"/><use href="#cfb"/><use href="#c101"/><use href="#c106"/><use href="#c108"/><use href="#c10d"/><use href="#c111"/><use href="#c11b"/><use href="#c11e"/><use href="#c120"/><use href="#c123"/><use href="#c12b"/><use href="#c12e"/><use href="#c137"/><use href="#c13f"/><use href="#c140"/><use href="#c143"/><use href="#c151"/><use href="#c154"/><use href="#c157"/><use href="#c15b"/><use href="#c15f"/><use href="#c172"/><use href="#c175"/><use href="#c178"/><use href="#c17e"/><use href="#c182"/><use href="#c189"/><use href="#c1a1"/><use href="#c1a4"/><use href="#c1af"/><use href="#c1b1"/><use href="#c1b7"/><use href="#c1c2"/><use href="#c1c9"/><use href="#c1d9"/><use href="#c1db"/><use href="#c1e2"/><use href="#c1e6"/><use href="#c1ef"/><use href="#c1f6"/><use href="#c1fe"/><use href="#c20b"/><use href="#c20e"/><use href="#c218"/><use href="#c223"/><use href="#c22d"/><use href="#c233"/><use href="#c23b"/><use href="#c255"/><use href="#c259"/><use href="#c264"/><use href="#c267"/><use href="#c271"/><use href="#c27b"/><use href="#c27f"/><use href="#c283"/><use href="#c287"/><use href="#c293"/><use href="#c296"/><use href="#c298"/><use href="#c2b1"/><use href="#c2b4"/><use href="#c2c9"/><use href="#c2cb"/><use href="#c2cc"/><use href="#c2ce"/><use href="#c2cf"/><use href="#c2d0"/><use href="#c2d2"/><use href="#c2e0"/><use href="#c2e4"/><use href="#c306"/><use href="#c30f"/><use href="#c312"/><use href="#c313"/><use href="#c31c"/><use href="#c31e"/><use href="#c320"/><use href="#c32d"/><use href="#c337"/></g>
<g stroke="#ed7953"><use href="#c1e"/><use href="#c39"/><use href="#c45"/><use href="#c48"/><use href="#c62"/><use href="#c67"/><use href="#c73"/><use href="#c75"/><use href="#c78"/><use href="#c82"/><use href="#c92"/><use href="#c93"/><use href="#c9a"/><use href="#c9d"/><use href="#c9e"/><use href="#ca1"/><use href="#ca4"/><use href="#ca5"/><use href="#ca7"/><use href="#cbb"/><use href="#cbf"/><use href="#cc3"/><use href="#cc8"/><use href="#cc9"/><use href="#cca"/><use href="#ccd"/><use href="#cd1"/><use href="#cd2"/><use href="#cd5"/><use href="#cd6"/><use href="#cde"/><use href="#cea"/><use href="#cf1"/><use href="#cfa"/><use href="#c100"/><use href="#c103"/><use href="#c110"/><use href="#c11f"/><use href="#c127"/><use href="#c1a7"/><use href="#c1ae"/><use href="#c1b4"/><use href="#c1c6"/><use href="#c1d1"/><use href="#c1d5"/><use href="#c1ec"/><use href="#c1f2"/><use href="#c1fa"/><use href="#c227"/><use href="#c248"/><use href="#c251"/><use href="#c25c"/><use href="#c263"/><use href="#c274"/><use href="#c278"/><use href="#c292"/><use href="#c295"/><use href="#c2b3"/><use href="#c2b8"/><use href="#c2ba"/><use href="#c2c8"/><use href="#c2cd"/><use href="#c2e2"/><use href="#c2e5"/><use href="#c2e6"/><use href="#c2fb"/><use href="#c31b"/><use href="#c31d"/><use href="#c32a"/><use href="#c32c"/><use href="#c32e"/><use href="#c34f"/><use href="#c350"/></g>
<g stroke="#f3864a"><use href="#c4b"/><use href="#c4e"/><use href="#c6f"/><use href="#c72"/><use href="#c8d"/><use href="#cc4"/><use href="#cf9"/><use href="#cfd"/><use href="#c10c"/><use href="#c114"/><use href="#c1c5"/><use href="#c208"/><use href="#c28f"/><use href="#c2b2"/><use href="#c2b5"/><use href="#c2ca"/><use href="#c2df"/><use href="#c30b"/><use href="#c319"/></g>
<g stroke="#f89540"><use href="#cc7"/><use href="#cd9"/><use href="#cfe"/><use href="#c31a"/><use href="#c32b"/></g>
<g stroke="#fba437"><use href="#c2af"/></g>
</g></defs>
<use href="#P2" stroke-width="28" stroke-opacity="0.12"/>
<use href="#P2" stroke-width="10" stroke-opacity="0.88"/>
<g stroke-width="13" stroke-opacity="0.88">
<g stroke="#9b179e"><use href="#c14d"/><use href="#c2ef"/></g>
<g stroke="#a82396"><use href="#c149"/><use href="#c30a"/></g>
<g stroke="#b42f8c"><use href="#c2a8"/><use href="#c2c7"/><use href="#c2f8"/><use href="#c318"/></g>
<g stroke="#c03b82"><use href="#c16d"/><use href="#c171"/><use href="#c19b"/><use href="#c21e"/><use href="#c2a4"/><use href="#c2ac"/><use href="#c2c0"/><use href="#c2f6"/><use href="#c329"/></g>
<g stroke="#cc4778"><use href="#c38"/><use href="#c44"/><use href="#c84"/><use href="#c145"/><use href="#c150"/><use href="#c169"/><use href="#c174"/><use href="#c193"/><use href="#c19f"/><use href="#c1ad"/><use href="#c1e5"/><use href="#c254"/><use href="#c262"/><use href="#c26d"/><use href="#c282"/><use href="#c288"/><use href="#c29b"/><use href="#c2a1"/><use href="#c2de"/><use href="#c2eb"/><use href="#c305"/><use href="#c342"/><use href="#c346"/></g>
<g stroke="#d5536f"><use href="#c21"/><use href="#c3c"/><use href="#c40"/><use href="#c5d"/><use href="#c61"/><use href="#c65"/><use href="#c69"/><use href="#c7b"/><use href="#c81"/><use href="#c8c"/><use href="#cb2"/><use href="#cb6"/><use href="#cbe"/><use href="#ce5"/><use href="#ce9"/><use href="#cec"/><use href="#cf4"/><use href="#c113"/><use href="#c117"/><use href="#c11d"/><use href="#c126"/><use href="#c12a"/><use href="#c15a"/><use href="#c162"/><use href="#c165"/><use href="#c18f"/><use href="#c1ba"/><use href="#c1be"/><use href="#c1cc"/><use href="#c1d4"/><use href="#c201"/><use href="#c217"/><use href="#c222"/><use href="#c226"/><use href="#c23a"/><use href="#c250"/><use href="#c25b"/><use href="#c25e"/><use href="#c26a"/><use href="#c26f"/><use href="#c270"/><use href="#c277"/><use href="#c286"/><use href="#c28d"/><use href="#c2bd"/><use href="#c2d3"/><use href="#c301"/><use href="#c326"/><use href="#c334"/><use href="#c33a"/><use href="#c33c"/><use href="#c33e"/></g>
<g stroke="#dd5f65"><use href="#c59"/><use href="#c6b"/><use href="#c7e"/><use href="#c88"/><use href="#cac"/><use href="#cae"/><use href="#cba"/><use href="#cdc"/><use href="#ce1"/><use href="#cf0"/><use href="#cf8"/><use href="#c10b"/><use href="#c10f"/><use href="#c122"/><use href="#c13a"/><use href="#c13e"/><use href="#c142"/><use href="#c153"/><use href="#c15e"/><use href="#c17d"/><use href="#c181"/><use href="#c185"/><use href="#c197"/><use href="#c1d0"/><use href="#c1de"/><use href="#c1f5"/><use href="#c1f9"/><use href="#c1fd"/><use href="#c204"/><use href="#c266"/><use href="#c28e"/><use href="#c29f"/><use href="#c2fd"/><use href="#c323"/></g>
<g stroke="#e66c5c"><use href="#c7a"/><use href="#c90"/><use href="#c9c"/><use href="#ca0"/><use href="#cc2"/><use href="#cfc"/><use href="#c11a"/><use href="#c236"/><use href="#c244"/><use href="#c27e"/><use href="#c2e7"/><use href="#c30e"/></g>
<g stroke="#ed7953"><use href="#cc6"/><use href="#cd8"/></g>
</g><g stroke-width="9" stroke-opacity="0.6">
<g stroke="#d5536f"><use href="#c347"/><use href="#c34c"/><use href="#c34e"/><use href="#c355"/></g>
<g stroke="#dd5f65"><use href="#c34b"/><use href="#c34d"/><use href="#c352"/><use href="#c353"/></g>
<g stroke="#e66c5c"><use href="#c354"/><use href="#c356"/><use href="#c357"/><use href="#c358"/><use href="#c35f"/></g>
<g stroke="#ed7953"><use href="#c359"/><use href="#c35a"/><use href="#c35e"/></g>
<g stroke="#f3864a"><use href="#c35b"/><use href="#c35c"/><use href="#c35d"/></g>
</g></g>
<use href="#ol" fill="none" stroke="#111" stroke-width="1.4" stroke-linejoin="round"/>
<rect x="-5.5" y="-2.4" width="11" height="4.8" rx="2" transform="translate(130.1 281) rotate(42)" fill="none" stroke="#111" stroke-width="1.2"/>
<rect x="-4.6" y="-2.2" width="9.2" height="4.4" rx="1.8" transform="translate(127.7 289.4) rotate(42)" fill="none" stroke="#111" stroke-width="1.2"/>
<rect x="50.4" y="51.2" width="560.3" height="285" fill="none" stroke="#222" stroke-width="1"/>
<path d="M50.4 67.8 h-4.4" stroke="#222" stroke-width="1"/>
<text x="42.1" y="71.8" font-size="10.6" text-anchor="end">22.85</text>
<path d="M50.4 99.5 h-4.4" stroke="#222" stroke-width="1"/>
<text x="42.1" y="103.5" font-size="10.6" text-anchor="end">22.80</text>
<path d="M50.4 131.1 h-4.4" stroke="#222" stroke-width="1"/>
<text x="42.1" y="135.1" font-size="10.6" text-anchor="end">22.75</text>
<path d="M50.4 162.8 h-4.4" stroke="#222" stroke-width="1"/>
<text x="42.1" y="166.8" font-size="10.6" text-anchor="end">22.70</text>
<path d="M50.4 194.5 h-4.4" stroke="#222" stroke-width="1"/>
<text x="42.1" y="198.5" font-size="10.6" text-anchor="end">22.65</text>
<path d="M50.4 226.1 h-4.4" stroke="#222" stroke-width="1"/>
<text x="42.1" y="230.1" font-size="10.6" text-anchor="end">22.60</text>
<path d="M50.4 257.8 h-4.4" stroke="#222" stroke-width="1"/>
<text x="42.1" y="261.8" font-size="10.6" text-anchor="end">22.55</text>
<path d="M50.4 289.5 h-4.4" stroke="#222" stroke-width="1"/>
<text x="42.1" y="293.5" font-size="10.6" text-anchor="end">22.50</text>
<path d="M50.4 321.1 h-4.4" stroke="#222" stroke-width="1"/>
<text x="42.1" y="325.1" font-size="10.6" text-anchor="end">22.45</text>
<path d="M103.9 336.2 v4.4" stroke="#222" stroke-width="1"/>
<text x="103.9" y="352.4" font-size="10.6" text-anchor="middle">113.8</text>
<path d="M220.7 336.2 v4.4" stroke="#222" stroke-width="1"/>
<text x="220.7" y="352.4" font-size="10.6" text-anchor="middle">114.0</text>
<path d="M337.5 336.2 v4.4" stroke="#222" stroke-width="1"/>
<text x="337.5" y="352.4" font-size="10.6" text-anchor="middle">114.2</text>
<path d="M454.2 336.2 v4.4" stroke="#222" stroke-width="1"/>
<text x="454.2" y="352.4" font-size="10.6" text-anchor="middle">114.4</text>
<path d="M571 336.2 v4.4" stroke="#222" stroke-width="1"/>
<text x="571" y="352.4" font-size="10.6" text-anchor="middle">114.6</text>
<text x="330.1" y="45" font-size="16.5" text-anchor="middle">MON 14:00 DTCO2</text>
</g>
<g transform="translate(622.3 360.4)">
<g transform="scale(.1)" fill="none" stroke-linecap="round">
<defs><g id="P3">
<g stroke="#5c01a5"><use href="#c24c"/><use href="#c30d"/><use href="#c311"/><use href="#c31c"/><use href="#c333"/></g>
<g stroke="#6d00a8"><use href="#c37"/><use href="#c4d"/><use href="#c71"/><use href="#c9b"/><use href="#c116"/><use href="#c276"/><use href="#c290"/><use href="#c291"/><use href="#c2b0"/><use href="#c2b1"/><use href="#c2b4"/><use href="#c2b7"/><use href="#c2b9"/><use href="#c2bf"/><use href="#c2cb"/><use href="#c2cc"/><use href="#c2ce"/><use href="#c2cf"/><use href="#c2d1"/><use href="#c2d6"/><use href="#c2e1"/><use href="#c2e3"/><use href="#c2ea"/><use href="#c2ee"/><use href="#c2fa"/><use href="#c2fc"/><use href="#c300"/><use href="#c30c"/><use href="#c310"/><use href="#c314"/><use href="#c31f"/><use href="#c322"/><use href="#c32f"/><use href="#c330"/></g>
<g stroke="#7d05a6"><use href="#c25"/><use href="#c2e"/><use href="#c31"/><use href="#c47"/><use href="#c4a"/><use href="#c50"/><use href="#c56"/><use href="#c6a"/><use href="#c6e"/><use href="#c70"/><use href="#c74"/><use href="#c76"/><use href="#c77"/><use href="#ca3"/><use href="#ca6"/><use href="#ca9"/><use href="#cd4"/><use href="#cdb"/><use href="#c10a"/><use href="#c10e"/><use href="#c119"/><use href="#c141"/><use href="#c16c"/><use href="#c18b"/><use href="#c1b6"/><use href="#c1b9"/><use href="#c1ee"/><use href="#c203"/><use href="#c210"/><use href="#c213"/><use href="#c21d"/><use href="#c221"/><use href="#c22f"/><use href="#c232"/><use href="#c239"/><use href="#c253"/><use href="#c25d"/><use href="#c261"/><use href="#c265"/><use href="#c269"/><use href="#c272"/><use href="#c273"/><use href="#c275"/><use href="#c27a"/><use href="#c27d"/><use href="#c28a"/><use href="#c293"/><use href="#c294"/><use href="#c297"/><use href="#c29a"/><use href="#c29e"/><use href="#c2a0"/><use href="#c2a3"/><use href="#c2b3"/><use href="#c2b6"/><use href="#c2bc"/><use href="#c2be"/><use href="#c2c9"/><use href="#c2ca"/><use href="#c2cd"/><use href="#c2d5"/><use href="#c2d9"/><use href="#c2db"/><use href="#c2e0"/><use href="#c2e4"/><use href="#c2ed"/><use href="#c2f1"/><use href="#c2f3"/><use href="#c2ff"/><use href="#c304"/><use href="#c31b"/><use href="#c31e"/><use href="#c321"/><use href="#c332"/><use href="#c341"/></g>
<g stroke="#8d0ca4"><use href="#ce"/><use href="#c10"/><use href="#c11"/><use href="#c24"/><use href="#c27"/><use href="#c2b"/><use href="#c2c"/><use href="#c2d"/><use href="#c30"/><use href="#c34"/><use href="#c4c"/><use href="#c4f"/><use href="#c52"/><use href="#c53"/><use href="#c58"/><use href="#c6d"/><use href="#c79"/><use href="#c97"/><use href="#c98"/><use href="#c99"/><use href="#c9a"/><use href="#c9e"/><use href="#c9f"/><use href="#ca1"/><use href="#ca2"/><use href="#ca5"/><use href="#cab"/><use href="#cd0"/><use href="#cd3"/><use href="#cd7"/><use href="#cdd"/><use href="#ce4"/><use href="#cf3"/><use href="#c107"/><use href="#c109"/><use href="#c112"/><use href="#c121"/><use href="#c129"/><use href="#c134"/><use href="#c136"/><use href="#c138"/><use href="#c139"/><use href="#c13d"/><use href="#c148"/><use href="#c14c"/><use href="#c152"/><use href="#c156"/><use href="#c15d"/><use href="#c161"/><use href="#c170"/><use href="#c177"/><use href="#c184"/><use href="#c188"/><use href="#c18d"/><use href="#c18e"/><use href="#c192"/><use href="#c196"/><use href="#c1a0"/><use href="#c1a2"/><use href="#c1a3"/><use href="#c1a9"/><use href="#c1ac"/><use href="#c1b3"/><use href="#c1bd"/><use href="#c1c8"/><use href="#c1cb"/><use href="#c1cf"/><use href="#c1d3"/><use href="#c1e1"/><use href="#c1e4"/><use href="#c1f4"/><use href="#c206"/><use href="#c207"/><use href="#c20a"/><use href="#c20d"/><use href="#c20f"/><use href="#c225"/><use href="#c228"/><use href="#c229"/><use href="#c22a"/><use href="#c22c"/><use href="#c22e"/><use href="#c23d"/><use href="#c23f"/><use href="#c243"/><use href="#c24f"/><use href="#c252"/><use href="#c256"/><use href="#c257"/><use href="#c260"/><use href="#c268"/><use href="#c271"/><use href="#c279"/><use href="#c27c"/><use href="#c281"/><use href="#c284"/><use href="#c285"/><use href="#c289"/><use href="#c299"/><use href="#c29d"/><use href="#c2a7"/><use href="#c2ab"/><use href="#c2ae"/><use href="#c2b2"/><use href="#c2bb"/><use href="#c2c3"/><use href="#c2c8"/><use href="#c2d0"/><use href="#c2d2"/><use href="#c2d7"/><use href="#c2d8"/><use href="#c2da"/><use href="#c2dc"/><use href="#c2e2"/><use href="#c2e5"/><use href="#c2e6"/><use href="#c2e9"/><use href="#c2f2"/><use href="#c2f5"/><use href="#c2f7"/><use href="#c2f9"/><use href="#c2fe"/><use href="#c303"/><use href="#c307"/><use href="#c308"/><use href="#c30f"/><use href="#c313"/><use href="#c315"/><use href="#c316"/><use href="#c319"/><use href="#c31a"/><use href="#c31d"/><use href="#c324"/><use href="#c325"/><use href="#c32c"/><use href="#c32d"/><use href="#c331"/><use href="#c336"/><use href="#c338"/><use href="#c339"/><use href="#c33d"/><use href="#c345"/><use href="#c34a"/><use href="#c351"/></g>
<g stroke="#9b179e"><use href="#c26"/><use href="#c28"/><use href="#c2f"/><use href="#c36"/><use href="#c3b"/><use href="#c45"/><use href="#c46"/><use href="#c49"/><use href="#c51"/><use href="#c55"/><use href="#c57"/><use href="#c5c"/><use href="#c6c"/><use href="#c6f"/><use href="#c72"/><use href="#c73"/><use href="#c75"/><use href="#c7d"/><use href="#c8b"/><use href="#c94"/><use href="#c9d"/><use href="#ca4"/><use href="#cb0"/><use href="#cb5"/><use href="#cc1"/><use href="#ccf"/><use href="#cd5"/><use href="#cd6"/><use href="#cda"/><use href="#cdf"/><use href="#ce0"/><use href="#ce8"/><use href="#cef"/><use href="#cf2"/><use href="#cf7"/><use href="#c108"/><use href="#c10d"/><use href="#c111"/><use href="#c115"/><use href="#c11c"/><use href="#c124"/><use href="#c125"/><use href="#c133"/><use href="#c135"/><use href="#c13b"/><use href="#c13c"/><use href="#c144"/><use href="#c147"/><use href="#c14b"/><use href="#c155"/><use href="#c159"/><use href="#c15c"/><use href="#c163"/><use href="#c167"/><use href="#c168"/><use href="#c16b"/><use href="#c179"/><use href="#c17a"/><use href="#c17b"/><use href="#c17c"/><use href="#c17f"/><use href="#c180"/><use href="#c18a"/><use href="#c191"/><use href="#c195"/><use href="#c1a5"/><use href="#c1a6"/><use href="#c1a8"/><use href="#c1b5"/><use href="#c1b8"/><use href="#c1bc"/><use href="#c1ca"/><use href="#c1ce"/><use href="#c1da"/><use href="#c1dc"/><use href="#c1dd"/><use href="#c1e0"/><use href="#c1e3"/><use href="#c1e8"/><use href="#c1ed"/><use href="#c1f1"/><use href="#c1f3"/><use href="#c1f8"/><use href="#c1fc"/><use href="#c1ff"/><use href="#c200"/><use href="#c202"/><use href="#c209"/><use href="#c20c"/><use href="#c212"/><use href="#c219"/><use href="#c220"/><use href="#c224"/><use href="#c22b"/><use href="#c231"/><use href="#c235"/><use href="#c238"/><use href="#c23c"/><use href="#c23e"/><use href="#c240"/><use href="#c242"/><use href="#c246"/><use href="#c247"/><use href="#c249"/><use href="#c24a"/><use href="#c24b"/><use href="#c24d"/><use href="#c258"/><use href="#c25a"/><use href="#c25f"/><use href="#c26c"/><use href="#c26e"/><use href="#c280"/><use href="#c28b"/><use href="#c28c"/><use href="#c28f"/><use href="#c292"/><use href="#c295"/><use href="#c296"/><use href="#c298"/><use href="#c29c"/><use href="#c2a9"/><use href="#c2aa"/><use href="#c2b5"/><use href="#c2b8"/><use href="#c2c1"/><use href="#c2c2"/><use href="#c2c5"/><use href="#c2c6"/><use href="#c2d4"/><use href="#c2dd"/><use href="#c2e8"/><use href="#c2ec"/><use href="#c2f0"/><use href="#c2fb"/><use href="#c302"/><use href="#c309"/><use href="#c30b"/><use href="#c312"/><use href="#c317"/><use href="#c320"/><use href="#c327"/><use href="#c328"/><use href="#c32b"/><use href="#c32e"/><use href="#c335"/><use href="#c33f"/><use href="#c340"/><use href="#c344"/><use href="#c349"/></g>
<g stroke="#a82396"><use href="#c1"/><use href="#cf"/><use href="#c14"/><use href="#c17"/><use href="#c1f"/><use href="#c20"/><use href="#c22"/><use href="#c23"/><use href="#c29"/><use href="#c2a"/><use href="#c33"/><use href="#c35"/><use href="#c3a"/><use href="#c43"/><use href="#c48"/><use href="#c4b"/><use href="#c54"/><use href="#c5b"/><use href="#c60"/><use href="#c80"/><use href="#c8f"/><use href="#c96"/><use href="#ca7"/><use href="#ca8"/><use href="#caa"/><use href="#cad"/><use href="#cb1"/><use href="#cb9"/><use href="#cbd"/><use href="#cc0"/><use href="#cd1"/><use href="#cd2"/><use href="#ce3"/><use href="#ce7"/><use href="#c106"/><use href="#c110"/><use href="#c118"/><use href="#c131"/><use href="#c132"/><use href="#c137"/><use href="#c140"/><use href="#c14e"/><use href="#c14f"/><use href="#c151"/><use href="#c158"/><use href="#c15b"/><use href="#c160"/><use href="#c164"/><use href="#c166"/><use href="#c16a"/><use href="#c16e"/><use href="#c16f"/><use href="#c173"/><use href="#c175"/><use href="#c176"/><use href="#c178"/><use href="#c182"/><use href="#c183"/><use href="#c186"/><use href="#c187"/><use href="#c18c"/><use href="#c190"/><use href="#c194"/><use href="#c199"/><use href="#c19a"/><use href="#c1a1"/><use href="#c1a4"/><use href="#c1aa"/><use href="#c1b0"/><use href="#c1b7"/><use href="#c1bb"/><use href="#c1c1"/><use href="#c1c9"/><use href="#c1cd"/><use href="#c1d8"/><use href="#c1df"/><use href="#c1f0"/><use href="#c1f7"/><use href="#c1fb"/><use href="#c205"/><use href="#c211"/><use href="#c21a"/><use href="#c21b"/><use href="#c21c"/><use href="#c21f"/><use href="#c223"/><use href="#c22d"/><use href="#c230"/><use href="#c237"/><use href="#c23b"/><use href="#c241"/><use href="#c245"/><use href="#c24e"/><use href="#c255"/><use href="#c259"/><use href="#c264"/><use href="#c267"/><use href="#c26b"/><use href="#c274"/><use href="#c278"/><use href="#c27b"/><use href="#c27f"/><use href="#c283"/><use href="#c2a2"/><use href="#c2a6"/><use href="#c2ad"/><use href="#c2af"/><use href="#c2ba"/><use href="#c2c4"/><use href="#c2df"/><use href="#c2f4"/><use href="#c306"/><use href="#c32a"/><use href="#c337"/><use href="#c33b"/><use href="#c343"/><use href="#c348"/></g>
<g stroke="#b42f8c"><use href="#c0"/><use href="#c13"/><use href="#c32"/><use href="#c3d"/><use href="#c3e"/><use href="#c3f"/><use href="#c41"/><use href="#c42"/><use href="#c4e"/><use href="#c5a"/><use href="#c68"/><use href="#c78"/><use href="#c7c"/><use href="#c83"/><use href="#c8a"/><use href="#c8e"/><use href="#c91"/><use href="#c95"/><use href="#caf"/><use href="#cb4"/><use href="#cbc"/><use href="#cce"/><use href="#cd9"/><use href="#cde"/><use href="#ce2"/><use href="#ce6"/><use href="#ceb"/><use href="#cee"/><use href="#cf6"/><use href="#c104"/><use href="#c105"/><use href="#c10c"/><use href="#c11b"/><use href="#c120"/><use href="#c123"/><use href="#c128"/><use href="#c12d"/><use href="#c12f"/><use href="#c130"/><use href="#c13f"/><use href="#c143"/><use href="#c146"/><use href="#c14a"/><use href="#c154"/><use href="#c157"/><use href="#c15f"/><use href="#c172"/><use href="#c17e"/><use href="#c189"/><use href="#c1ab"/><use href="#c1b1"/><use href="#c1b2"/><use href="#c1bf"/><use href="#c1c0"/><use href="#c1d2"/><use href="#c1d6"/><use href="#c1d7"/><use href="#c1d9"/><use href="#c1db"/><use href="#c1e2"/><use href="#c1e7"/><use href="#c1ec"/><use href="#c1ef"/><use href="#c1f6"/><use href="#c1fe"/><use href="#c20b"/><use href="#c20e"/><use href="#c215"/><use href="#c216"/><use href="#c218"/><use href="#c227"/><use href="#c233"/><use href="#c234"/><use href="#c248"/><use href="#c251"/><use href="#c25c"/><use href="#c263"/><use href="#c287"/><use href="#c2a5"/><use href="#c34f"/><use href="#c350"/></g>
<g stroke="#c03b82"><use href="#c3"/><use href="#c4"/><use href="#c12"/><use href="#c1a"/><use href="#c1d"/><use href="#c1e"/><use href="#c39"/><use href="#c5f"/><use href="#c64"/><use href="#c66"/><use href="#c7f"/><use href="#c87"/><use href="#c89"/><use href="#cb3"/><use href="#cb7"/><use href="#cb8"/><use href="#cbf"/><use href="#ccd"/><use href="#ced"/><use href="#cf1"/><use href="#cf5"/><use href="#c103"/><use href="#c114"/><use href="#c11f"/><use href="#c12c"/><use href="#c198"/><use href="#c1a7"/><use href="#c1ae"/><use href="#c1af"/><use href="#c1b4"/><use href="#c1c7"/><use href="#c1d1"/><use href="#c1d5"/><use href="#c1e6"/><use href="#c1f2"/><use href="#c1fa"/><use href="#c208"/></g>
<g stroke="#cc4778"><use href="#cd"/><use href="#c15"/><use href="#c19"/><use href="#c5e"/><use href="#c63"/><use href="#c67"/><use href="#c85"/><use href="#c86"/><use href="#c8d"/><use href="#c92"/><use href="#c93"/><use href="#cbb"/><use href="#cc3"/><use href="#cc5"/><use href="#ccb"/><use href="#cea"/><use href="#cfa"/><use href="#cfb"/><use href="#c102"/><use href="#c11e"/><use href="#c127"/><use href="#c12b"/><use href="#c12e"/><use href="#c19c"/><use href="#c19d"/><use href="#c1eb"/><use href="#c214"/></g>
<g stroke="#d5536f"><use href="#c7"/><use href="#c16"/><use href="#c1c"/><use href="#c62"/><use href="#cca"/><use href="#cff"/><use href="#c100"/><use href="#c101"/><use href="#c19e"/><use href="#c1c4"/><use href="#c1c6"/><use href="#c1ea"/></g>
<g stroke="#dd5f65"><use href="#c9"/><use href="#ca"/><use href="#cb"/><use href="#cc"/><use href="#c1b"/><use href="#c82"/><use href="#cc4"/><use href="#ccc"/><use href="#cf9"/><use href="#c1c5"/><use href="#c1e9"/></g>
<g stroke="#e66c5c"><use href="#c6"/><use href="#cc9"/><use href="#c1c3"/></g>
<g stroke="#ed7953"><use href="#c8"/><use href="#cc8"/><use href="#cfd"/></g>
<g stroke="#f3864a"><use href="#c5"/><use href="#cfe"/><use href="#c1c2"/></g>
<g stroke="#f89540"><use href="#c2"/><use href="#c18"/><use href="#cc7"/></g>
</g></defs>
<use href="#P3" stroke-width="28" stroke-opacity="0.12"/>
<use href="#P3" stroke-width="10" stroke-opacity="0.88"/>
<g stroke-width="13" stroke-opacity="0.88">
<g stroke="#8d0ca4"><use href="#c2c0"/><use href="#c2d3"/><use href="#c2ef"/></g>
<g stroke="#9b179e"><use href="#c21e"/><use href="#c26d"/><use href="#c277"/><use href="#c29b"/><use href="#c2e7"/><use href="#c2f8"/><use href="#c2fd"/><use href="#c301"/></g>
<g stroke="#a82396"><use href="#c38"/><use href="#c9c"/><use href="#ca0"/><use href="#c113"/><use href="#c117"/><use href="#c149"/><use href="#c14d"/><use href="#c15a"/><use href="#c169"/><use href="#c16d"/><use href="#c193"/><use href="#c1e5"/><use href="#c250"/><use href="#c254"/><use href="#c25e"/><use href="#c262"/><use href="#c270"/><use href="#c282"/><use href="#c286"/><use href="#c288"/><use href="#c2a1"/><use href="#c2a8"/><use href="#c2bd"/><use href="#c2eb"/><use href="#c305"/><use href="#c30a"/><use href="#c30e"/><use href="#c323"/><use href="#c334"/><use href="#c342"/><use href="#c346"/></g>
<g stroke="#b42f8c"><use href="#c3c"/><use href="#c6b"/><use href="#c7a"/><use href="#c7b"/><use href="#cac"/><use href="#cae"/><use href="#cd8"/><use href="#cdc"/><use href="#ce1"/><use href="#ce5"/><use href="#c10b"/><use href="#c10f"/><use href="#c11d"/><use href="#c126"/><use href="#c145"/><use href="#c162"/><use href="#c165"/><use href="#c171"/><use href="#c174"/><use href="#c17d"/><use href="#c18f"/><use href="#c19b"/><use href="#c1ad"/><use href="#c1ba"/><use href="#c1be"/><use href="#c1cc"/><use href="#c201"/><use href="#c222"/><use href="#c226"/><use href="#c23a"/><use href="#c25b"/><use href="#c266"/><use href="#c26a"/><use href="#c26f"/><use href="#c28d"/><use href="#c29f"/><use href="#c2a4"/><use href="#c2ac"/><use href="#c2c7"/><use href="#c2f6"/><use href="#c318"/><use href="#c326"/><use href="#c329"/><use href="#c33a"/><use href="#c33c"/></g>
<g stroke="#c03b82"><use href="#c44"/><use href="#c59"/><use href="#c5d"/><use href="#c7e"/><use href="#c8c"/><use href="#cb2"/><use href="#ce9"/><use href="#cf4"/><use href="#c11a"/><use href="#c122"/><use href="#c13a"/><use href="#c13e"/><use href="#c142"/><use href="#c150"/><use href="#c153"/><use href="#c15e"/><use href="#c181"/><use href="#c185"/><use href="#c1d0"/><use href="#c1d4"/><use href="#c1de"/><use href="#c1fd"/><use href="#c204"/><use href="#c217"/><use href="#c244"/><use href="#c27e"/><use href="#c28e"/><use href="#c2de"/><use href="#c33e"/></g>
<g stroke="#cc4778"><use href="#c40"/><use href="#c69"/><use href="#c81"/><use href="#c84"/><use href="#cb6"/><use href="#cbe"/><use href="#cec"/><use href="#cf0"/><use href="#cf8"/><use href="#c12a"/><use href="#c197"/><use href="#c19f"/><use href="#c1f5"/><use href="#c1f9"/><use href="#c236"/></g>
<g stroke="#d5536f"><use href="#c21"/><use href="#c61"/><use href="#c65"/><use href="#c90"/><use href="#cc2"/></g>
<g stroke="#dd5f65"><use href="#c88"/><use href="#cba"/><use href="#cfc"/></g>
<g stroke="#e66c5c"><use href="#cc6"/></g>
</g><g stroke-width="9" stroke-opacity="0.6">
<g stroke="#b42f8c"><use href="#c347"/><use href="#c34c"/><use href="#c34d"/><use href="#c34e"/><use href="#c352"/><use href="#c355"/></g>
<g stroke="#c03b82"><use href="#c34b"/><use href="#c353"/><use href="#c356"/><use href="#c357"/></g>
<g stroke="#cc4778"><use href="#c358"/></g>
<g stroke="#d5536f"><use href="#c354"/></g>
<g stroke="#dd5f65"><use href="#c359"/></g>
<g stroke="#ed7953"><use href="#c35b"/><use href="#c35e"/><use href="#c35f"/></g>
<g stroke="#f3864a"><use href="#c35a"/><use href="#c35d"/></g>
<g stroke="#f89540"><use href="#c35c"/></g>
</g></g>
<use href="#ol" fill="none" stroke="#111" stroke-width="1.4" stroke-linejoin="round"/>
<rect x="-5.5" y="-2.4" width="11" height="4.8" rx="2" transform="translate(130.1 281) rotate(42)" fill="none" stroke="#111" stroke-width="1.2"/>
<rect x="-4.6" y="-2.2" width="9.2" height="4.4" rx="1.8" transform="translate(127.7 289.4) rotate(42)" fill="none" stroke="#111" stroke-width="1.2"/>
<rect x="50.4" y="51.2" width="560.3" height="285" fill="none" stroke="#222" stroke-width="1"/>
<path d="M50.4 67.8 h-4.4" stroke="#222" stroke-width="1"/>
<text x="42.1" y="71.8" font-size="10.6" text-anchor="end">22.85</text>
<path d="M50.4 99.5 h-4.4" stroke="#222" stroke-width="1"/>
<text x="42.1" y="103.5" font-size="10.6" text-anchor="end">22.80</text>
<path d="M50.4 131.1 h-4.4" stroke="#222" stroke-width="1"/>
<text x="42.1" y="135.1" font-size="10.6" text-anchor="end">22.75</text>
<path d="M50.4 162.8 h-4.4" stroke="#222" stroke-width="1"/>
<text x="42.1" y="166.8" font-size="10.6" text-anchor="end">22.70</text>
<path d="M50.4 194.5 h-4.4" stroke="#222" stroke-width="1"/>
<text x="42.1" y="198.5" font-size="10.6" text-anchor="end">22.65</text>
<path d="M50.4 226.1 h-4.4" stroke="#222" stroke-width="1"/>
<text x="42.1" y="230.1" font-size="10.6" text-anchor="end">22.60</text>
<path d="M50.4 257.8 h-4.4" stroke="#222" stroke-width="1"/>
<text x="42.1" y="261.8" font-size="10.6" text-anchor="end">22.55</text>
<path d="M50.4 289.5 h-4.4" stroke="#222" stroke-width="1"/>
<text x="42.1" y="293.5" font-size="10.6" text-anchor="end">22.50</text>
<path d="M50.4 321.1 h-4.4" stroke="#222" stroke-width="1"/>
<text x="42.1" y="325.1" font-size="10.6" text-anchor="end">22.45</text>
<path d="M103.9 336.2 v4.4" stroke="#222" stroke-width="1"/>
<text x="103.9" y="352.4" font-size="10.6" text-anchor="middle">113.8</text>
<path d="M220.7 336.2 v4.4" stroke="#222" stroke-width="1"/>
<text x="220.7" y="352.4" font-size="10.6" text-anchor="middle">114.0</text>
<path d="M337.5 336.2 v4.4" stroke="#222" stroke-width="1"/>
<text x="337.5" y="352.4" font-size="10.6" text-anchor="middle">114.2</text>
<path d="M454.2 336.2 v4.4" stroke="#222" stroke-width="1"/>
<text x="454.2" y="352.4" font-size="10.6" text-anchor="middle">114.4</text>
<path d="M571 336.2 v4.4" stroke="#222" stroke-width="1"/>
<text x="571" y="352.4" font-size="10.6" text-anchor="middle">114.6</text>
<text x="330.1" y="45" font-size="16.5" text-anchor="middle">MON 17:00 DTCO2</text>
</g>
<rect x="117.6" y="736.6" width="764.4" height="26.8" fill="url(#pl)" stroke="#14103a" stroke-width="2"/>
<text class="cb" x="83.2" y="760.7" font-size="24" text-anchor="middle">0</text>
<text class="cb" x="501.8" y="759.2" font-size="23" text-anchor="middle" style="fill:#33082a">50</text>
<text class="cb" x="923.2" y="760.7" font-size="24" text-anchor="middle">100</text>
<text class="cb" x="976.5" y="760.7" font-size="24.6" text-anchor="start">DTCO2 /ppm</text>
</svg></body></html>
